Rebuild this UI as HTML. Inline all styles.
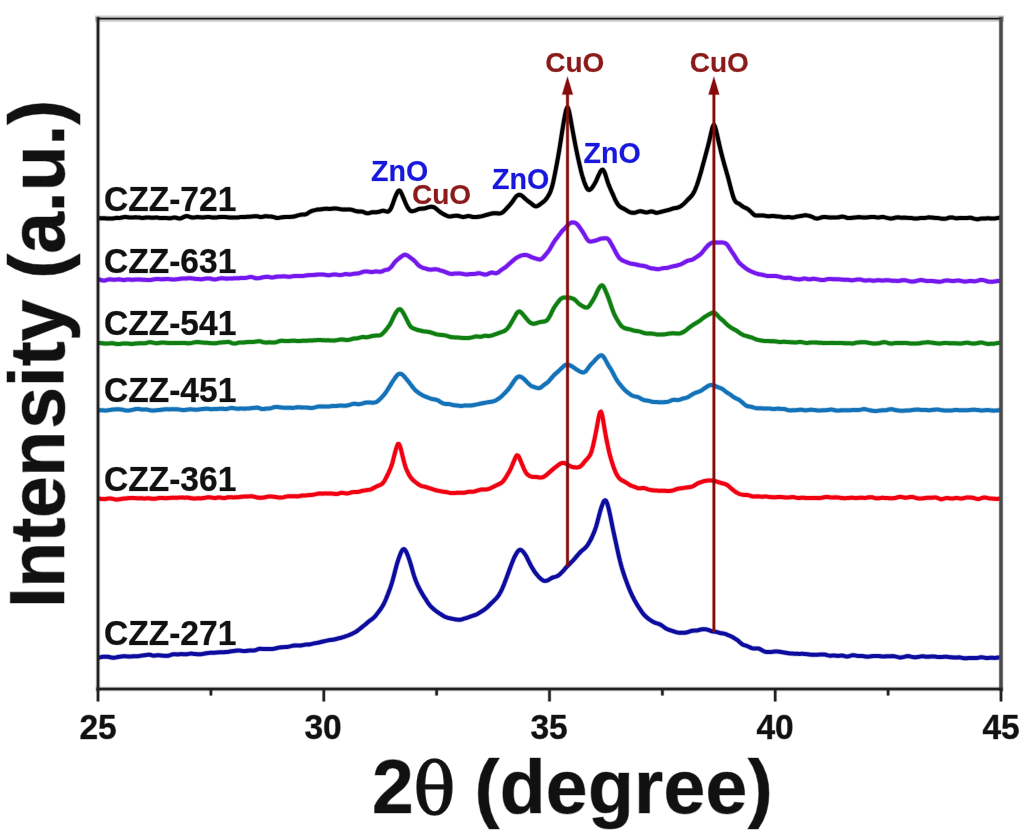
<!DOCTYPE html>
<html><head><meta charset="utf-8"><title>XRD patterns</title>
<style>html,body{margin:0;padding:0;background:#fff}svg{display:block;filter:blur(0.7px)}text{font-family:"Liberation Sans",sans-serif;font-weight:bold;paint-order:stroke;stroke-linejoin:round}</style></head><body>
<svg width="1024" height="837" viewBox="0 0 1024 837">
<rect x="0" y="0" width="1024" height="837" fill="#ffffff"/>
<g fill="none" stroke="#0c0c9e" stroke-linejoin="round"><polyline points="98.0,657.7 99.0,657.6 100.0,657.4 101.0,657.1 102.0,656.9 103.0,656.8 104.0,656.8 105.0,656.7 106.0,656.7 107.0,656.7 108.0,656.8 109.0,657.0 110.0,657.2 111.0,657.5 112.0,657.6 113.0,657.7 114.0,657.7 115.0,657.6 116.0,657.4 117.0,657.2 118.0,657.0 119.0,656.8 120.0,656.7 121.0,656.5 122.0,656.4 123.0,656.3 124.0,656.3 125.0,656.3 126.0,656.3 127.0,656.4 128.0,656.5 129.0,656.5 130.0,656.6 131.0,656.5 132.0,656.4 133.0,656.3 134.0,656.3 135.0,656.2 136.0,656.3 137.0,656.3 138.0,656.2 139.0,656.1 140.0,655.9 141.0,655.7 142.0,655.6 143.0,655.4 144.0,655.3 145.0,655.2 146.0,655.0 147.0,654.9 148.0,654.7 149.0,654.7 150.0,654.8 151.0,655.0 152.0,655.3 153.0,655.6 154.0,655.7 155.0,655.6 156.0,655.4 157.0,655.3 158.0,655.2 159.0,655.2 160.0,655.4 161.0,655.5 162.0,655.6 163.0,655.7 164.0,655.8 165.0,655.8 166.0,655.9 167.0,655.8 168.0,655.8 169.0,655.6 170.0,655.2 171.0,654.9 172.0,654.5 173.0,654.3 174.0,654.3 175.0,654.3 176.0,654.3 177.0,654.4 178.0,654.4 179.0,654.3 180.0,654.2 181.0,654.1 182.0,654.1 183.0,654.2 184.0,654.3 185.0,654.3 186.0,654.3 187.0,654.2 188.0,654.1 189.0,653.9 190.0,653.7 191.0,653.6 192.0,653.6 193.0,653.8 194.0,653.9 195.0,654.0 196.0,654.1 197.0,654.2 198.0,654.3 199.0,654.3 200.0,654.2 201.0,654.2 202.0,654.1 203.0,653.9 204.0,653.7 205.0,653.5 206.0,653.3 207.0,653.2 208.0,653.1 209.0,652.9 210.0,652.8 211.0,652.8 212.0,652.8 213.0,652.8 214.0,652.7 215.0,652.7 216.0,652.6 217.0,652.5 218.0,652.4 219.0,652.3 220.0,652.3 221.0,652.3 222.0,652.3 223.0,652.3 224.0,652.2 225.0,652.1 226.0,652.1 227.0,652.0 228.0,651.9 229.0,651.7 230.0,651.5 231.0,651.3 232.0,651.2 233.0,651.1 234.0,651.0 235.0,650.8 236.0,650.7 237.0,650.5 238.0,650.5 239.0,650.5 240.0,650.6 241.0,650.7 242.0,650.9 243.0,651.1 244.0,651.1 245.0,651.1 246.0,651.0 247.0,650.8 248.0,650.7 249.0,650.6 250.0,650.5 251.0,650.5 252.0,650.5 253.0,650.5 254.0,650.4 255.0,650.3 256.0,650.0 257.0,649.6 258.0,649.2 259.0,648.9 260.0,648.8 261.0,648.8 262.0,648.9 263.0,648.9 264.0,649.0 265.0,649.0 266.0,649.1 267.0,649.0 268.0,649.0 269.0,649.0 270.0,649.0 271.0,649.0 272.0,649.0 273.0,648.9 274.0,648.7 275.0,648.5 276.0,648.3 277.0,648.0 278.0,647.8 279.0,647.6 280.0,647.5 281.0,647.3 282.0,647.2 283.0,647.2 284.0,647.1 285.0,647.1 286.0,647.0 287.0,646.9 288.0,646.8 289.0,646.6 290.0,646.4 291.0,646.1 292.0,645.9 293.0,645.7 294.0,645.5 295.0,645.5 296.0,645.4 297.0,645.4 298.0,645.5 299.0,645.6 300.0,645.6 301.0,645.5 302.0,645.3 303.0,645.1 304.0,644.9 305.0,644.7 306.0,644.6 307.0,644.5 308.0,644.5 309.0,644.5 310.0,644.3 311.0,644.1 312.0,643.9 313.0,643.6 314.0,643.4 315.0,643.2 316.0,643.1 317.0,642.9 318.0,642.7 319.0,642.5 320.0,642.3 321.0,642.0 322.0,641.7 323.0,641.5 324.0,641.3 325.0,641.1 326.0,640.8 327.0,640.6 328.0,640.4 329.0,640.2 330.0,640.0 331.0,639.9 332.0,639.8 333.0,639.7 334.0,639.5 335.0,639.3 336.0,639.0 337.0,638.8 338.0,638.5 339.0,638.2 340.0,638.0 341.0,637.8 342.0,637.5 343.0,637.2 344.0,636.9 345.0,636.5 346.0,636.2 347.0,635.9 348.0,635.5 349.0,635.1 350.0,634.7 351.0,634.2 352.0,633.8 353.0,633.3 354.0,632.8 355.0,632.3 356.0,631.7 357.0,631.0 358.0,630.3 359.0,629.5 360.0,628.7 361.0,627.9 362.0,627.1 363.0,626.3 364.0,625.5 365.0,624.7 366.0,623.9 367.0,623.0 368.0,622.1 369.0,621.3 370.0,620.5 371.0,619.8 372.0,619.1 373.0,618.3 374.0,617.4 375.0,616.4 376.0,615.2 377.0,613.9 378.0,612.6 379.0,611.3 380.0,609.9 381.0,608.5 382.0,607.0 383.0,605.3 384.0,603.4 385.0,601.3 386.0,599.0 387.0,596.5 388.0,594.0 389.0,591.3 390.0,588.6 391.0,585.7 392.0,582.5 393.0,579.0 394.0,575.2 395.0,571.3 396.0,567.4 397.0,563.8 398.0,560.6 399.0,557.7 400.0,555.0 401.0,552.5 402.0,550.6 403.0,549.4 404.0,549.1 405.0,549.9 406.0,551.4 407.0,553.6 408.0,556.1 409.0,558.8 410.0,561.8 411.0,565.1 412.0,568.7 413.0,572.2 414.0,575.6 415.0,578.5 416.0,581.2 417.0,583.6 418.0,585.8 419.0,587.8 420.0,589.8 421.0,591.6 422.0,593.3 423.0,595.0 424.0,596.6 425.0,598.2 426.0,599.7 427.0,601.3 428.0,602.8 429.0,604.2 430.0,605.5 431.0,606.6 432.0,607.6 433.0,608.5 434.0,609.4 435.0,610.2 436.0,611.0 437.0,611.8 438.0,612.4 439.0,613.1 440.0,613.7 441.0,614.3 442.0,615.0 443.0,615.6 444.0,616.3 445.0,616.8 446.0,617.2 447.0,617.5 448.0,617.8 449.0,618.1 450.0,618.3 451.0,618.5 452.0,618.7 453.0,618.9 454.0,619.1 455.0,619.3 456.0,619.5 457.0,619.6 458.0,619.7 459.0,619.8 460.0,619.7 461.0,619.6 462.0,619.3 463.0,619.0 464.0,618.7 465.0,618.4 466.0,618.1 467.0,617.8 468.0,617.4 469.0,617.1 470.0,616.7 471.0,616.4 472.0,616.0 473.0,615.6 474.0,615.3 475.0,615.0 476.0,614.7 477.0,614.2 478.0,613.6 479.0,613.0 480.0,612.4 481.0,611.7 482.0,611.1 483.0,610.5 484.0,609.8 485.0,609.1 486.0,608.3 487.0,607.4 488.0,606.5 489.0,605.5 490.0,604.5 491.0,603.5 492.0,602.6 493.0,601.6 494.0,600.6 495.0,599.6 496.0,598.6 497.0,597.5 498.0,596.2 499.0,594.8 500.0,593.1 501.0,591.2 502.0,589.1 503.0,586.8 504.0,584.4 505.0,581.8 506.0,579.1 507.0,576.4 508.0,573.7 509.0,571.0 510.0,568.3 511.0,565.6 512.0,562.9 513.0,560.4 514.0,558.0 515.0,556.0 516.0,554.2 517.0,552.5 518.0,551.2 519.0,550.2 520.0,549.8 521.0,550.0 522.0,550.6 523.0,551.6 524.0,552.8 525.0,554.2 526.0,555.8 527.0,557.7 528.0,559.8 529.0,561.8 530.0,563.8 531.0,565.7 532.0,567.5 533.0,569.1 534.0,570.8 535.0,572.3 536.0,573.6 537.0,574.8 538.0,576.0 539.0,577.1 540.0,578.1 541.0,579.0 542.0,579.8 543.0,580.4 544.0,580.8 545.0,580.9 546.0,580.8 547.0,580.6 548.0,580.2 549.0,579.6 550.0,579.0 551.0,578.4 552.0,577.9 553.0,577.4 554.0,577.1 555.0,576.9 556.0,576.6 557.0,576.2 558.0,575.7 559.0,575.0 560.0,574.2 561.0,573.2 562.0,572.2 563.0,571.1 564.0,570.0 565.0,568.8 566.0,567.6 567.0,566.5 568.0,565.5 569.0,564.5 570.0,563.5 571.0,562.5 572.0,561.6 573.0,560.5 574.0,559.4 575.0,558.3 576.0,557.1 577.0,555.9 578.0,554.7 579.0,553.5 580.0,552.5 581.0,551.5 582.0,550.6 583.0,549.8 584.0,549.0 585.0,548.1 586.0,547.0 587.0,545.8 588.0,544.4 589.0,542.8 590.0,541.0 591.0,539.0 592.0,537.0 593.0,534.7 594.0,532.4 595.0,529.7 596.0,526.8 597.0,523.4 598.0,519.6 599.0,515.7 600.0,512.0 601.0,508.6 602.0,505.6 603.0,503.0 604.0,501.0 605.0,500.2 606.0,500.8 607.0,502.9 608.0,506.1 609.0,510.0 610.0,514.5 611.0,519.4 612.0,524.4 613.0,529.3 614.0,533.9 615.0,538.6 616.0,543.2 617.0,547.8 618.0,552.4 619.0,556.7 620.0,560.9 621.0,564.7 622.0,568.3 623.0,571.6 624.0,574.7 625.0,577.6 626.0,580.4 627.0,583.1 628.0,585.7 629.0,588.3 630.0,590.7 631.0,593.0 632.0,595.2 633.0,597.2 634.0,599.2 635.0,601.0 636.0,602.8 637.0,604.5 638.0,606.1 639.0,607.7 640.0,609.2 641.0,610.7 642.0,612.2 643.0,613.5 644.0,614.7 645.0,615.8 646.0,616.7 647.0,617.6 648.0,618.4 649.0,619.2 650.0,619.9 651.0,620.5 652.0,621.2 653.0,621.7 654.0,622.3 655.0,622.7 656.0,623.1 657.0,623.4 658.0,623.7 659.0,624.0 660.0,624.5 661.0,625.0 662.0,625.7 663.0,626.4 664.0,627.1 665.0,627.8 666.0,628.5 667.0,629.0 668.0,629.4 669.0,629.9 670.0,630.2 671.0,630.5 672.0,630.8 673.0,631.1 674.0,631.5 675.0,631.8 676.0,632.1 677.0,632.4 678.0,632.6 679.0,632.8 680.0,632.8 681.0,632.8 682.0,632.8 683.0,632.8 684.0,632.7 685.0,632.7 686.0,632.6 687.0,632.3 688.0,632.0 689.0,631.7 690.0,631.3 691.0,631.0 692.0,630.8 693.0,630.7 694.0,630.6 695.0,630.6 696.0,630.6 697.0,630.5 698.0,630.3 699.0,630.0 700.0,629.7 701.0,629.5 702.0,629.3 703.0,629.2 704.0,629.2 705.0,629.2 706.0,629.3 707.0,629.6 708.0,629.8 709.0,630.2 710.0,630.6 711.0,631.0 712.0,631.3 713.0,631.5 714.0,631.6 715.0,631.7 716.0,631.9 717.0,632.1 718.0,632.4 719.0,632.7 720.0,633.0 721.0,633.2 722.0,633.3 723.0,633.4 724.0,633.6 725.0,633.9 726.0,634.2 727.0,634.7 728.0,635.1 729.0,635.5 730.0,635.9 731.0,636.3 732.0,636.8 733.0,637.4 734.0,638.0 735.0,638.6 736.0,639.2 737.0,639.9 738.0,640.6 739.0,641.5 740.0,642.4 741.0,643.3 742.0,644.1 743.0,644.7 744.0,645.1 745.0,645.4 746.0,645.7 747.0,646.0 748.0,646.5 749.0,646.9 750.0,647.4 751.0,647.9 752.0,648.2 753.0,648.4 754.0,648.5 755.0,648.4 756.0,648.4 757.0,648.4 758.0,648.4 759.0,648.7 760.0,649.1 761.0,649.6 762.0,650.2 763.0,650.8 764.0,651.3 765.0,651.6 766.0,651.9 767.0,652.0 768.0,652.0 769.0,652.0 770.0,652.0 771.0,652.0 772.0,651.9 773.0,651.7 774.0,651.6 775.0,651.5 776.0,651.5 777.0,651.5 778.0,651.6 779.0,651.7 780.0,651.8 781.0,652.0 782.0,652.2 783.0,652.3 784.0,652.5 785.0,652.7 786.0,652.8 787.0,653.0 788.0,653.2 789.0,653.3 790.0,653.4 791.0,653.5 792.0,653.6 793.0,653.6 794.0,653.7 795.0,653.7 796.0,653.7 797.0,653.8 798.0,653.8 799.0,653.9 800.0,653.9 801.0,653.8 802.0,653.8 803.0,653.8 804.0,653.9 805.0,654.0 806.0,654.1 807.0,654.2 808.0,654.3 809.0,654.5 810.0,654.6 811.0,654.7 812.0,654.7 813.0,654.7 814.0,654.8 815.0,654.8 816.0,654.8 817.0,654.7 818.0,654.7 819.0,654.6 820.0,654.6 821.0,654.6 822.0,654.5 823.0,654.5 824.0,654.5 825.0,654.6 826.0,654.8 827.0,655.1 828.0,655.4 829.0,655.6 830.0,655.7 831.0,655.7 832.0,655.6 833.0,655.5 834.0,655.5 835.0,655.6 836.0,655.7 837.0,655.8 838.0,655.9 839.0,655.8 840.0,655.7 841.0,655.6 842.0,655.6 843.0,655.7 844.0,655.9 845.0,656.2 846.0,656.4 847.0,656.5 848.0,656.4 849.0,656.2 850.0,655.9 851.0,655.6 852.0,655.3 853.0,655.2 854.0,655.2 855.0,655.4 856.0,655.6 857.0,655.8 858.0,655.9 859.0,656.0 860.0,655.9 861.0,655.9 862.0,656.0 863.0,656.1 864.0,656.3 865.0,656.5 866.0,656.6 867.0,656.7 868.0,656.7 869.0,656.6 870.0,656.4 871.0,656.3 872.0,656.2 873.0,656.1 874.0,656.1 875.0,656.1 876.0,656.1 877.0,656.1 878.0,656.1 879.0,656.1 880.0,656.2 881.0,656.3 882.0,656.4 883.0,656.4 884.0,656.4 885.0,656.4 886.0,656.3 887.0,656.3 888.0,656.3 889.0,656.3 890.0,656.2 891.0,656.2 892.0,656.1 893.0,656.2 894.0,656.2 895.0,656.4 896.0,656.6 897.0,656.9 898.0,657.1 899.0,657.3 900.0,657.4 901.0,657.4 902.0,657.3 903.0,657.1 904.0,656.9 905.0,656.6 906.0,656.3 907.0,656.2 908.0,656.1 909.0,656.2 910.0,656.4 911.0,656.7 912.0,656.9 913.0,657.1 914.0,657.2 915.0,657.2 916.0,657.2 917.0,657.1 918.0,657.0 919.0,656.8 920.0,656.6 921.0,656.4 922.0,656.3 923.0,656.3 924.0,656.4 925.0,656.5 926.0,656.7 927.0,656.8 928.0,656.8 929.0,656.7 930.0,656.6 931.0,656.6 932.0,656.5 933.0,656.5 934.0,656.6 935.0,656.6 936.0,656.7 937.0,656.9 938.0,657.0 939.0,657.1 940.0,657.1 941.0,657.1 942.0,657.0 943.0,656.9 944.0,656.8 945.0,656.7 946.0,656.7 947.0,656.8 948.0,656.9 949.0,657.1 950.0,657.2 951.0,657.2 952.0,657.3 953.0,657.4 954.0,657.5 955.0,657.5 956.0,657.5 957.0,657.4 958.0,657.4 959.0,657.3 960.0,657.4 961.0,657.6 962.0,657.8 963.0,658.1 964.0,658.2 965.0,658.2 966.0,658.2 967.0,658.2 968.0,658.1 969.0,658.0 970.0,658.0 971.0,658.0 972.0,658.0 973.0,658.0 974.0,658.0 975.0,658.0 976.0,658.0 977.0,657.9 978.0,657.8 979.0,657.6 980.0,657.4 981.0,657.3 982.0,657.3 983.0,657.4 984.0,657.6 985.0,657.8 986.0,658.0 987.0,658.0 988.0,657.9 989.0,657.9 990.0,657.8 991.0,657.8 992.0,657.8 993.0,657.8 994.0,657.9 995.0,657.9 996.0,657.8 997.0,657.7 998.0,657.6 999.0,657.5 1000.0,657.4 1001.0,657.4" stroke-opacity="0.25" stroke-width="5.4"/><polyline points="98.0,657.7 99.0,657.6 100.0,657.4 101.0,657.1 102.0,656.9 103.0,656.8 104.0,656.8 105.0,656.7 106.0,656.7 107.0,656.7 108.0,656.8 109.0,657.0 110.0,657.2 111.0,657.5 112.0,657.6 113.0,657.7 114.0,657.7 115.0,657.6 116.0,657.4 117.0,657.2 118.0,657.0 119.0,656.8 120.0,656.7 121.0,656.5 122.0,656.4 123.0,656.3 124.0,656.3 125.0,656.3 126.0,656.3 127.0,656.4 128.0,656.5 129.0,656.5 130.0,656.6 131.0,656.5 132.0,656.4 133.0,656.3 134.0,656.3 135.0,656.2 136.0,656.3 137.0,656.3 138.0,656.2 139.0,656.1 140.0,655.9 141.0,655.7 142.0,655.6 143.0,655.4 144.0,655.3 145.0,655.2 146.0,655.0 147.0,654.9 148.0,654.7 149.0,654.7 150.0,654.8 151.0,655.0 152.0,655.3 153.0,655.6 154.0,655.7 155.0,655.6 156.0,655.4 157.0,655.3 158.0,655.2 159.0,655.2 160.0,655.4 161.0,655.5 162.0,655.6 163.0,655.7 164.0,655.8 165.0,655.8 166.0,655.9 167.0,655.8 168.0,655.8 169.0,655.6 170.0,655.2 171.0,654.9 172.0,654.5 173.0,654.3 174.0,654.3 175.0,654.3 176.0,654.3 177.0,654.4 178.0,654.4 179.0,654.3 180.0,654.2 181.0,654.1 182.0,654.1 183.0,654.2 184.0,654.3 185.0,654.3 186.0,654.3 187.0,654.2 188.0,654.1 189.0,653.9 190.0,653.7 191.0,653.6 192.0,653.6 193.0,653.8 194.0,653.9 195.0,654.0 196.0,654.1 197.0,654.2 198.0,654.3 199.0,654.3 200.0,654.2 201.0,654.2 202.0,654.1 203.0,653.9 204.0,653.7 205.0,653.5 206.0,653.3 207.0,653.2 208.0,653.1 209.0,652.9 210.0,652.8 211.0,652.8 212.0,652.8 213.0,652.8 214.0,652.7 215.0,652.7 216.0,652.6 217.0,652.5 218.0,652.4 219.0,652.3 220.0,652.3 221.0,652.3 222.0,652.3 223.0,652.3 224.0,652.2 225.0,652.1 226.0,652.1 227.0,652.0 228.0,651.9 229.0,651.7 230.0,651.5 231.0,651.3 232.0,651.2 233.0,651.1 234.0,651.0 235.0,650.8 236.0,650.7 237.0,650.5 238.0,650.5 239.0,650.5 240.0,650.6 241.0,650.7 242.0,650.9 243.0,651.1 244.0,651.1 245.0,651.1 246.0,651.0 247.0,650.8 248.0,650.7 249.0,650.6 250.0,650.5 251.0,650.5 252.0,650.5 253.0,650.5 254.0,650.4 255.0,650.3 256.0,650.0 257.0,649.6 258.0,649.2 259.0,648.9 260.0,648.8 261.0,648.8 262.0,648.9 263.0,648.9 264.0,649.0 265.0,649.0 266.0,649.1 267.0,649.0 268.0,649.0 269.0,649.0 270.0,649.0 271.0,649.0 272.0,649.0 273.0,648.9 274.0,648.7 275.0,648.5 276.0,648.3 277.0,648.0 278.0,647.8 279.0,647.6 280.0,647.5 281.0,647.3 282.0,647.2 283.0,647.2 284.0,647.1 285.0,647.1 286.0,647.0 287.0,646.9 288.0,646.8 289.0,646.6 290.0,646.4 291.0,646.1 292.0,645.9 293.0,645.7 294.0,645.5 295.0,645.5 296.0,645.4 297.0,645.4 298.0,645.5 299.0,645.6 300.0,645.6 301.0,645.5 302.0,645.3 303.0,645.1 304.0,644.9 305.0,644.7 306.0,644.6 307.0,644.5 308.0,644.5 309.0,644.5 310.0,644.3 311.0,644.1 312.0,643.9 313.0,643.6 314.0,643.4 315.0,643.2 316.0,643.1 317.0,642.9 318.0,642.7 319.0,642.5 320.0,642.3 321.0,642.0 322.0,641.7 323.0,641.5 324.0,641.3 325.0,641.1 326.0,640.8 327.0,640.6 328.0,640.4 329.0,640.2 330.0,640.0 331.0,639.9 332.0,639.8 333.0,639.7 334.0,639.5 335.0,639.3 336.0,639.0 337.0,638.8 338.0,638.5 339.0,638.2 340.0,638.0 341.0,637.8 342.0,637.5 343.0,637.2 344.0,636.9 345.0,636.5 346.0,636.2 347.0,635.9 348.0,635.5 349.0,635.1 350.0,634.7 351.0,634.2 352.0,633.8 353.0,633.3 354.0,632.8 355.0,632.3 356.0,631.7 357.0,631.0 358.0,630.3 359.0,629.5 360.0,628.7 361.0,627.9 362.0,627.1 363.0,626.3 364.0,625.5 365.0,624.7 366.0,623.9 367.0,623.0 368.0,622.1 369.0,621.3 370.0,620.5 371.0,619.8 372.0,619.1 373.0,618.3 374.0,617.4 375.0,616.4 376.0,615.2 377.0,613.9 378.0,612.6 379.0,611.3 380.0,609.9 381.0,608.5 382.0,607.0 383.0,605.3 384.0,603.4 385.0,601.3 386.0,599.0 387.0,596.5 388.0,594.0 389.0,591.3 390.0,588.6 391.0,585.7 392.0,582.5 393.0,579.0 394.0,575.2 395.0,571.3 396.0,567.4 397.0,563.8 398.0,560.6 399.0,557.7 400.0,555.0 401.0,552.5 402.0,550.6 403.0,549.4 404.0,549.1 405.0,549.9 406.0,551.4 407.0,553.6 408.0,556.1 409.0,558.8 410.0,561.8 411.0,565.1 412.0,568.7 413.0,572.2 414.0,575.6 415.0,578.5 416.0,581.2 417.0,583.6 418.0,585.8 419.0,587.8 420.0,589.8 421.0,591.6 422.0,593.3 423.0,595.0 424.0,596.6 425.0,598.2 426.0,599.7 427.0,601.3 428.0,602.8 429.0,604.2 430.0,605.5 431.0,606.6 432.0,607.6 433.0,608.5 434.0,609.4 435.0,610.2 436.0,611.0 437.0,611.8 438.0,612.4 439.0,613.1 440.0,613.7 441.0,614.3 442.0,615.0 443.0,615.6 444.0,616.3 445.0,616.8 446.0,617.2 447.0,617.5 448.0,617.8 449.0,618.1 450.0,618.3 451.0,618.5 452.0,618.7 453.0,618.9 454.0,619.1 455.0,619.3 456.0,619.5 457.0,619.6 458.0,619.7 459.0,619.8 460.0,619.7 461.0,619.6 462.0,619.3 463.0,619.0 464.0,618.7 465.0,618.4 466.0,618.1 467.0,617.8 468.0,617.4 469.0,617.1 470.0,616.7 471.0,616.4 472.0,616.0 473.0,615.6 474.0,615.3 475.0,615.0 476.0,614.7 477.0,614.2 478.0,613.6 479.0,613.0 480.0,612.4 481.0,611.7 482.0,611.1 483.0,610.5 484.0,609.8 485.0,609.1 486.0,608.3 487.0,607.4 488.0,606.5 489.0,605.5 490.0,604.5 491.0,603.5 492.0,602.6 493.0,601.6 494.0,600.6 495.0,599.6 496.0,598.6 497.0,597.5 498.0,596.2 499.0,594.8 500.0,593.1 501.0,591.2 502.0,589.1 503.0,586.8 504.0,584.4 505.0,581.8 506.0,579.1 507.0,576.4 508.0,573.7 509.0,571.0 510.0,568.3 511.0,565.6 512.0,562.9 513.0,560.4 514.0,558.0 515.0,556.0 516.0,554.2 517.0,552.5 518.0,551.2 519.0,550.2 520.0,549.8 521.0,550.0 522.0,550.6 523.0,551.6 524.0,552.8 525.0,554.2 526.0,555.8 527.0,557.7 528.0,559.8 529.0,561.8 530.0,563.8 531.0,565.7 532.0,567.5 533.0,569.1 534.0,570.8 535.0,572.3 536.0,573.6 537.0,574.8 538.0,576.0 539.0,577.1 540.0,578.1 541.0,579.0 542.0,579.8 543.0,580.4 544.0,580.8 545.0,580.9 546.0,580.8 547.0,580.6 548.0,580.2 549.0,579.6 550.0,579.0 551.0,578.4 552.0,577.9 553.0,577.4 554.0,577.1 555.0,576.9 556.0,576.6 557.0,576.2 558.0,575.7 559.0,575.0 560.0,574.2 561.0,573.2 562.0,572.2 563.0,571.1 564.0,570.0 565.0,568.8 566.0,567.6 567.0,566.5 568.0,565.5 569.0,564.5 570.0,563.5 571.0,562.5 572.0,561.6 573.0,560.5 574.0,559.4 575.0,558.3 576.0,557.1 577.0,555.9 578.0,554.7 579.0,553.5 580.0,552.5 581.0,551.5 582.0,550.6 583.0,549.8 584.0,549.0 585.0,548.1 586.0,547.0 587.0,545.8 588.0,544.4 589.0,542.8 590.0,541.0 591.0,539.0 592.0,537.0 593.0,534.7 594.0,532.4 595.0,529.7 596.0,526.8 597.0,523.4 598.0,519.6 599.0,515.7 600.0,512.0 601.0,508.6 602.0,505.6 603.0,503.0 604.0,501.0 605.0,500.2 606.0,500.8 607.0,502.9 608.0,506.1 609.0,510.0 610.0,514.5 611.0,519.4 612.0,524.4 613.0,529.3 614.0,533.9 615.0,538.6 616.0,543.2 617.0,547.8 618.0,552.4 619.0,556.7 620.0,560.9 621.0,564.7 622.0,568.3 623.0,571.6 624.0,574.7 625.0,577.6 626.0,580.4 627.0,583.1 628.0,585.7 629.0,588.3 630.0,590.7 631.0,593.0 632.0,595.2 633.0,597.2 634.0,599.2 635.0,601.0 636.0,602.8 637.0,604.5 638.0,606.1 639.0,607.7 640.0,609.2 641.0,610.7 642.0,612.2 643.0,613.5 644.0,614.7 645.0,615.8 646.0,616.7 647.0,617.6 648.0,618.4 649.0,619.2 650.0,619.9 651.0,620.5 652.0,621.2 653.0,621.7 654.0,622.3 655.0,622.7 656.0,623.1 657.0,623.4 658.0,623.7 659.0,624.0 660.0,624.5 661.0,625.0 662.0,625.7 663.0,626.4 664.0,627.1 665.0,627.8 666.0,628.5 667.0,629.0 668.0,629.4 669.0,629.9 670.0,630.2 671.0,630.5 672.0,630.8 673.0,631.1 674.0,631.5 675.0,631.8 676.0,632.1 677.0,632.4 678.0,632.6 679.0,632.8 680.0,632.8 681.0,632.8 682.0,632.8 683.0,632.8 684.0,632.7 685.0,632.7 686.0,632.6 687.0,632.3 688.0,632.0 689.0,631.7 690.0,631.3 691.0,631.0 692.0,630.8 693.0,630.7 694.0,630.6 695.0,630.6 696.0,630.6 697.0,630.5 698.0,630.3 699.0,630.0 700.0,629.7 701.0,629.5 702.0,629.3 703.0,629.2 704.0,629.2 705.0,629.2 706.0,629.3 707.0,629.6 708.0,629.8 709.0,630.2 710.0,630.6 711.0,631.0 712.0,631.3 713.0,631.5 714.0,631.6 715.0,631.7 716.0,631.9 717.0,632.1 718.0,632.4 719.0,632.7 720.0,633.0 721.0,633.2 722.0,633.3 723.0,633.4 724.0,633.6 725.0,633.9 726.0,634.2 727.0,634.7 728.0,635.1 729.0,635.5 730.0,635.9 731.0,636.3 732.0,636.8 733.0,637.4 734.0,638.0 735.0,638.6 736.0,639.2 737.0,639.9 738.0,640.6 739.0,641.5 740.0,642.4 741.0,643.3 742.0,644.1 743.0,644.7 744.0,645.1 745.0,645.4 746.0,645.7 747.0,646.0 748.0,646.5 749.0,646.9 750.0,647.4 751.0,647.9 752.0,648.2 753.0,648.4 754.0,648.5 755.0,648.4 756.0,648.4 757.0,648.4 758.0,648.4 759.0,648.7 760.0,649.1 761.0,649.6 762.0,650.2 763.0,650.8 764.0,651.3 765.0,651.6 766.0,651.9 767.0,652.0 768.0,652.0 769.0,652.0 770.0,652.0 771.0,652.0 772.0,651.9 773.0,651.7 774.0,651.6 775.0,651.5 776.0,651.5 777.0,651.5 778.0,651.6 779.0,651.7 780.0,651.8 781.0,652.0 782.0,652.2 783.0,652.3 784.0,652.5 785.0,652.7 786.0,652.8 787.0,653.0 788.0,653.2 789.0,653.3 790.0,653.4 791.0,653.5 792.0,653.6 793.0,653.6 794.0,653.7 795.0,653.7 796.0,653.7 797.0,653.8 798.0,653.8 799.0,653.9 800.0,653.9 801.0,653.8 802.0,653.8 803.0,653.8 804.0,653.9 805.0,654.0 806.0,654.1 807.0,654.2 808.0,654.3 809.0,654.5 810.0,654.6 811.0,654.7 812.0,654.7 813.0,654.7 814.0,654.8 815.0,654.8 816.0,654.8 817.0,654.7 818.0,654.7 819.0,654.6 820.0,654.6 821.0,654.6 822.0,654.5 823.0,654.5 824.0,654.5 825.0,654.6 826.0,654.8 827.0,655.1 828.0,655.4 829.0,655.6 830.0,655.7 831.0,655.7 832.0,655.6 833.0,655.5 834.0,655.5 835.0,655.6 836.0,655.7 837.0,655.8 838.0,655.9 839.0,655.8 840.0,655.7 841.0,655.6 842.0,655.6 843.0,655.7 844.0,655.9 845.0,656.2 846.0,656.4 847.0,656.5 848.0,656.4 849.0,656.2 850.0,655.9 851.0,655.6 852.0,655.3 853.0,655.2 854.0,655.2 855.0,655.4 856.0,655.6 857.0,655.8 858.0,655.9 859.0,656.0 860.0,655.9 861.0,655.9 862.0,656.0 863.0,656.1 864.0,656.3 865.0,656.5 866.0,656.6 867.0,656.7 868.0,656.7 869.0,656.6 870.0,656.4 871.0,656.3 872.0,656.2 873.0,656.1 874.0,656.1 875.0,656.1 876.0,656.1 877.0,656.1 878.0,656.1 879.0,656.1 880.0,656.2 881.0,656.3 882.0,656.4 883.0,656.4 884.0,656.4 885.0,656.4 886.0,656.3 887.0,656.3 888.0,656.3 889.0,656.3 890.0,656.2 891.0,656.2 892.0,656.1 893.0,656.2 894.0,656.2 895.0,656.4 896.0,656.6 897.0,656.9 898.0,657.1 899.0,657.3 900.0,657.4 901.0,657.4 902.0,657.3 903.0,657.1 904.0,656.9 905.0,656.6 906.0,656.3 907.0,656.2 908.0,656.1 909.0,656.2 910.0,656.4 911.0,656.7 912.0,656.9 913.0,657.1 914.0,657.2 915.0,657.2 916.0,657.2 917.0,657.1 918.0,657.0 919.0,656.8 920.0,656.6 921.0,656.4 922.0,656.3 923.0,656.3 924.0,656.4 925.0,656.5 926.0,656.7 927.0,656.8 928.0,656.8 929.0,656.7 930.0,656.6 931.0,656.6 932.0,656.5 933.0,656.5 934.0,656.6 935.0,656.6 936.0,656.7 937.0,656.9 938.0,657.0 939.0,657.1 940.0,657.1 941.0,657.1 942.0,657.0 943.0,656.9 944.0,656.8 945.0,656.7 946.0,656.7 947.0,656.8 948.0,656.9 949.0,657.1 950.0,657.2 951.0,657.2 952.0,657.3 953.0,657.4 954.0,657.5 955.0,657.5 956.0,657.5 957.0,657.4 958.0,657.4 959.0,657.3 960.0,657.4 961.0,657.6 962.0,657.8 963.0,658.1 964.0,658.2 965.0,658.2 966.0,658.2 967.0,658.2 968.0,658.1 969.0,658.0 970.0,658.0 971.0,658.0 972.0,658.0 973.0,658.0 974.0,658.0 975.0,658.0 976.0,658.0 977.0,657.9 978.0,657.8 979.0,657.6 980.0,657.4 981.0,657.3 982.0,657.3 983.0,657.4 984.0,657.6 985.0,657.8 986.0,658.0 987.0,658.0 988.0,657.9 989.0,657.9 990.0,657.8 991.0,657.8 992.0,657.8 993.0,657.8 994.0,657.9 995.0,657.9 996.0,657.8 997.0,657.7 998.0,657.6 999.0,657.5 1000.0,657.4 1001.0,657.4" stroke-width="4.0"/></g>
<g fill="none" stroke="#f00010" stroke-linejoin="round"><polyline points="98.0,498.8 99.0,498.8 100.0,498.8 101.0,498.9 102.0,498.9 103.0,499.0 104.0,499.0 105.0,499.0 106.0,498.9 107.0,498.7 108.0,498.6 109.0,498.4 110.0,498.4 111.0,498.5 112.0,498.7 113.0,498.9 114.0,499.2 115.0,499.4 116.0,499.5 117.0,499.5 118.0,499.5 119.0,499.3 120.0,499.2 121.0,499.0 122.0,498.8 123.0,498.7 124.0,498.5 125.0,498.4 126.0,498.4 127.0,498.3 128.0,498.2 129.0,498.1 130.0,498.1 131.0,498.0 132.0,498.0 133.0,498.0 134.0,498.1 135.0,498.1 136.0,498.2 137.0,498.2 138.0,498.2 139.0,498.2 140.0,498.2 141.0,498.3 142.0,498.3 143.0,498.4 144.0,498.4 145.0,498.4 146.0,498.4 147.0,498.3 148.0,498.2 149.0,498.3 150.0,498.4 151.0,498.5 152.0,498.7 153.0,498.8 154.0,498.8 155.0,498.8 156.0,498.6 157.0,498.4 158.0,498.2 159.0,498.0 160.0,497.9 161.0,497.9 162.0,498.0 163.0,498.0 164.0,498.1 165.0,498.2 166.0,498.2 167.0,498.1 168.0,498.1 169.0,498.0 170.0,497.9 171.0,497.8 172.0,497.8 173.0,497.8 174.0,497.8 175.0,497.8 176.0,497.8 177.0,497.8 178.0,497.7 179.0,497.6 180.0,497.6 181.0,497.6 182.0,497.6 183.0,497.6 184.0,497.7 185.0,497.7 186.0,497.6 187.0,497.6 188.0,497.7 189.0,497.8 190.0,498.0 191.0,498.2 192.0,498.3 193.0,498.4 194.0,498.4 195.0,498.4 196.0,498.4 197.0,498.3 198.0,498.3 199.0,498.3 200.0,498.4 201.0,498.3 202.0,498.2 203.0,498.1 204.0,498.0 205.0,497.8 206.0,497.6 207.0,497.4 208.0,497.3 209.0,497.3 210.0,497.4 211.0,497.5 212.0,497.6 213.0,497.8 214.0,497.9 215.0,498.0 216.0,497.9 217.0,497.7 218.0,497.5 219.0,497.4 220.0,497.5 221.0,497.6 222.0,497.9 223.0,498.0 224.0,498.1 225.0,498.0 226.0,497.8 227.0,497.5 228.0,497.3 229.0,497.2 230.0,497.2 231.0,497.3 232.0,497.3 233.0,497.4 234.0,497.4 235.0,497.3 236.0,497.3 237.0,497.2 238.0,497.2 239.0,497.1 240.0,497.0 241.0,496.8 242.0,496.7 243.0,496.7 244.0,496.6 245.0,496.5 246.0,496.5 247.0,496.5 248.0,496.5 249.0,496.4 250.0,496.3 251.0,496.3 252.0,496.3 253.0,496.5 254.0,496.7 255.0,496.9 256.0,497.2 257.0,497.5 258.0,497.6 259.0,497.7 260.0,497.7 261.0,497.7 262.0,497.7 263.0,497.6 264.0,497.5 265.0,497.3 266.0,497.0 267.0,496.8 268.0,496.6 269.0,496.5 270.0,496.5 271.0,496.6 272.0,496.6 273.0,496.7 274.0,496.8 275.0,496.9 276.0,497.0 277.0,497.2 278.0,497.4 279.0,497.5 280.0,497.6 281.0,497.6 282.0,497.6 283.0,497.4 284.0,497.1 285.0,496.8 286.0,496.6 287.0,496.4 288.0,496.3 289.0,496.2 290.0,496.2 291.0,496.2 292.0,496.2 293.0,496.2 294.0,496.2 295.0,496.3 296.0,496.3 297.0,496.4 298.0,496.3 299.0,496.2 300.0,496.0 301.0,495.7 302.0,495.6 303.0,495.5 304.0,495.5 305.0,495.5 306.0,495.4 307.0,495.3 308.0,495.2 309.0,495.1 310.0,495.0 311.0,494.9 312.0,494.9 313.0,494.7 314.0,494.6 315.0,494.4 316.0,494.1 317.0,493.9 318.0,493.7 319.0,493.6 320.0,493.6 321.0,493.6 322.0,493.7 323.0,493.6 324.0,493.6 325.0,493.5 326.0,493.5 327.0,493.4 328.0,493.4 329.0,493.5 330.0,493.5 331.0,493.6 332.0,493.6 333.0,493.7 334.0,493.8 335.0,493.9 336.0,494.0 337.0,493.9 338.0,493.8 339.0,493.5 340.0,493.2 341.0,492.9 342.0,492.8 343.0,492.9 344.0,493.1 345.0,493.2 346.0,493.4 347.0,493.4 348.0,493.3 349.0,493.1 350.0,492.8 351.0,492.5 352.0,492.3 353.0,492.1 354.0,492.1 355.0,492.1 356.0,492.1 357.0,492.0 358.0,491.9 359.0,491.7 360.0,491.5 361.0,491.2 362.0,490.9 363.0,490.7 364.0,490.6 365.0,490.4 366.0,490.2 367.0,490.0 368.0,489.9 369.0,489.8 370.0,489.6 371.0,489.3 372.0,488.9 373.0,488.4 374.0,487.9 375.0,487.3 376.0,486.7 377.0,486.2 378.0,485.8 379.0,485.4 380.0,485.0 381.0,484.5 382.0,483.9 383.0,482.9 384.0,481.6 385.0,479.9 386.0,478.0 387.0,476.0 388.0,474.0 389.0,471.8 390.0,469.5 391.0,467.0 392.0,464.1 393.0,460.6 394.0,456.6 395.0,452.8 396.0,449.1 397.0,446.0 398.0,444.0 399.0,444.0 400.0,446.1 401.0,449.6 402.0,453.7 403.0,457.8 404.0,461.8 405.0,465.4 406.0,468.4 407.0,470.7 408.0,472.8 409.0,474.7 410.0,476.4 411.0,477.8 412.0,479.0 413.0,480.0 414.0,480.9 415.0,481.7 416.0,482.5 417.0,483.3 418.0,484.0 419.0,484.7 420.0,485.3 421.0,485.8 422.0,486.1 423.0,486.4 424.0,486.6 425.0,486.8 426.0,487.0 427.0,487.3 428.0,487.7 429.0,488.0 430.0,488.3 431.0,488.6 432.0,489.0 433.0,489.3 434.0,489.6 435.0,490.0 436.0,490.3 437.0,490.5 438.0,490.7 439.0,490.9 440.0,491.1 441.0,491.3 442.0,491.5 443.0,491.7 444.0,491.8 445.0,491.9 446.0,492.0 447.0,492.2 448.0,492.4 449.0,492.7 450.0,492.9 451.0,493.0 452.0,493.1 453.0,493.1 454.0,493.1 455.0,493.0 456.0,492.9 457.0,492.8 458.0,492.7 459.0,492.7 460.0,492.7 461.0,492.7 462.0,492.8 463.0,492.8 464.0,492.7 465.0,492.6 466.0,492.3 467.0,492.1 468.0,491.9 469.0,491.8 470.0,491.7 471.0,491.7 472.0,491.7 473.0,491.7 474.0,491.6 475.0,491.4 476.0,491.0 477.0,490.7 478.0,490.4 479.0,490.1 480.0,489.8 481.0,489.6 482.0,489.6 483.0,489.6 484.0,489.6 485.0,489.5 486.0,489.4 487.0,489.3 488.0,489.1 489.0,488.8 490.0,488.4 491.0,488.0 492.0,487.5 493.0,487.0 494.0,486.5 495.0,486.0 496.0,485.5 497.0,485.0 498.0,484.6 499.0,484.1 500.0,483.6 501.0,483.0 502.0,482.3 503.0,481.3 504.0,480.1 505.0,478.7 506.0,477.1 507.0,475.5 508.0,473.7 509.0,472.0 510.0,470.2 511.0,468.1 512.0,465.8 513.0,463.3 514.0,460.9 515.0,458.5 516.0,456.5 517.0,455.3 518.0,455.6 519.0,457.1 520.0,459.4 521.0,461.8 522.0,464.2 523.0,466.6 524.0,469.0 525.0,471.1 526.0,472.8 527.0,474.0 528.0,474.9 529.0,475.6 530.0,476.1 531.0,476.5 532.0,476.8 533.0,476.9 534.0,476.9 535.0,476.9 536.0,477.0 537.0,477.1 538.0,477.2 539.0,477.4 540.0,477.5 541.0,477.6 542.0,477.5 543.0,477.1 544.0,476.6 545.0,476.0 546.0,475.3 547.0,474.4 548.0,473.6 549.0,472.7 550.0,471.8 551.0,470.9 552.0,470.1 553.0,469.2 554.0,468.4 555.0,467.6 556.0,466.8 557.0,466.0 558.0,465.3 559.0,464.5 560.0,463.9 561.0,463.4 562.0,463.0 563.0,462.9 564.0,462.9 565.0,463.2 566.0,463.7 567.0,464.3 568.0,464.9 569.0,465.5 570.0,466.0 571.0,466.5 572.0,466.8 573.0,467.1 574.0,467.3 575.0,467.3 576.0,467.4 577.0,467.4 578.0,467.3 579.0,467.1 580.0,466.6 581.0,465.9 582.0,464.9 583.0,463.7 584.0,462.4 585.0,461.2 586.0,460.1 587.0,459.0 588.0,457.9 589.0,456.6 590.0,455.1 591.0,452.9 592.0,449.8 593.0,445.9 594.0,441.5 595.0,436.8 596.0,431.8 597.0,426.5 598.0,420.9 599.0,415.8 600.0,412.4 601.0,411.7 602.0,414.2 603.0,419.3 604.0,425.5 605.0,431.5 606.0,436.9 607.0,442.0 608.0,446.8 609.0,451.4 610.0,455.4 611.0,459.0 612.0,462.3 613.0,465.4 614.0,468.3 615.0,470.8 616.0,473.1 617.0,475.0 618.0,476.6 619.0,477.9 620.0,479.0 621.0,479.8 622.0,480.4 623.0,480.9 624.0,481.4 625.0,481.9 626.0,482.5 627.0,483.1 628.0,483.8 629.0,484.4 630.0,485.1 631.0,485.6 632.0,486.0 633.0,486.4 634.0,486.7 635.0,487.0 636.0,487.4 637.0,487.8 638.0,488.1 639.0,488.3 640.0,488.3 641.0,488.2 642.0,488.1 643.0,488.0 644.0,488.1 645.0,488.3 646.0,488.7 647.0,489.0 648.0,489.4 649.0,489.6 650.0,489.9 651.0,490.0 652.0,490.2 653.0,490.3 654.0,490.4 655.0,490.4 656.0,490.5 657.0,490.6 658.0,490.7 659.0,490.7 660.0,490.8 661.0,490.8 662.0,490.8 663.0,490.7 664.0,490.8 665.0,490.8 666.0,490.9 667.0,490.9 668.0,491.0 669.0,491.0 670.0,490.9 671.0,490.8 672.0,490.7 673.0,490.4 674.0,490.1 675.0,489.7 676.0,489.3 677.0,489.0 678.0,488.7 679.0,488.5 680.0,488.4 681.0,488.3 682.0,488.2 683.0,488.1 684.0,487.9 685.0,487.7 686.0,487.6 687.0,487.5 688.0,487.3 689.0,487.2 690.0,487.0 691.0,486.9 692.0,486.6 693.0,486.2 694.0,485.7 695.0,485.0 696.0,484.4 697.0,483.8 698.0,483.2 699.0,482.8 700.0,482.4 701.0,482.1 702.0,481.8 703.0,481.5 704.0,481.2 705.0,480.9 706.0,480.8 707.0,480.6 708.0,480.5 709.0,480.5 710.0,480.4 711.0,480.4 712.0,480.5 713.0,480.6 714.0,480.8 715.0,481.0 716.0,481.3 717.0,481.6 718.0,482.0 719.0,482.3 720.0,482.6 721.0,483.0 722.0,483.2 723.0,483.5 724.0,483.7 725.0,484.0 726.0,484.4 727.0,485.0 728.0,485.7 729.0,486.4 730.0,487.3 731.0,488.2 732.0,489.1 733.0,489.9 734.0,490.7 735.0,491.5 736.0,492.2 737.0,492.8 738.0,493.3 739.0,493.8 740.0,494.1 741.0,494.4 742.0,494.6 743.0,494.8 744.0,494.9 745.0,494.9 746.0,494.9 747.0,495.0 748.0,495.1 749.0,495.4 750.0,495.7 751.0,496.0 752.0,496.3 753.0,496.5 754.0,496.6 755.0,496.5 756.0,496.4 757.0,496.3 758.0,496.4 759.0,496.5 760.0,496.6 761.0,496.7 762.0,496.7 763.0,496.7 764.0,496.6 765.0,496.5 766.0,496.6 767.0,496.6 768.0,496.8 769.0,496.9 770.0,497.1 771.0,497.1 772.0,497.2 773.0,497.2 774.0,497.2 775.0,497.2 776.0,497.2 777.0,497.1 778.0,497.0 779.0,496.9 780.0,497.0 781.0,497.0 782.0,497.1 783.0,497.2 784.0,497.3 785.0,497.4 786.0,497.4 787.0,497.5 788.0,497.4 789.0,497.4 790.0,497.3 791.0,497.2 792.0,497.1 793.0,497.1 794.0,497.2 795.0,497.4 796.0,497.7 797.0,497.9 798.0,498.0 799.0,498.0 800.0,497.9 801.0,497.8 802.0,497.7 803.0,497.7 804.0,497.7 805.0,497.9 806.0,498.0 807.0,498.1 808.0,498.1 809.0,498.1 810.0,498.1 811.0,498.0 812.0,498.0 813.0,498.0 814.0,498.0 815.0,498.0 816.0,498.0 817.0,498.0 818.0,498.0 819.0,498.0 820.0,498.0 821.0,497.9 822.0,497.7 823.0,497.5 824.0,497.3 825.0,497.1 826.0,497.0 827.0,496.9 828.0,497.0 829.0,497.2 830.0,497.4 831.0,497.5 832.0,497.6 833.0,497.5 834.0,497.5 835.0,497.4 836.0,497.3 837.0,497.4 838.0,497.5 839.0,497.6 840.0,497.8 841.0,498.0 842.0,498.1 843.0,498.1 844.0,498.2 845.0,498.2 846.0,498.1 847.0,498.1 848.0,498.0 849.0,497.9 850.0,497.8 851.0,497.7 852.0,497.7 853.0,497.8 854.0,497.9 855.0,497.9 856.0,498.0 857.0,497.9 858.0,497.9 859.0,497.8 860.0,497.7 861.0,497.7 862.0,497.8 863.0,497.8 864.0,497.9 865.0,497.9 866.0,497.8 867.0,497.6 868.0,497.5 869.0,497.3 870.0,497.3 871.0,497.2 872.0,497.3 873.0,497.5 874.0,497.8 875.0,498.1 876.0,498.3 877.0,498.3 878.0,498.3 879.0,498.2 880.0,498.1 881.0,497.9 882.0,497.8 883.0,497.8 884.0,497.9 885.0,498.0 886.0,498.0 887.0,498.1 888.0,498.1 889.0,498.2 890.0,498.2 891.0,498.2 892.0,498.2 893.0,498.2 894.0,498.1 895.0,498.0 896.0,497.8 897.0,497.5 898.0,497.2 899.0,497.0 900.0,496.8 901.0,496.9 902.0,497.1 903.0,497.3 904.0,497.5 905.0,497.7 906.0,497.7 907.0,497.6 908.0,497.5 909.0,497.2 910.0,497.1 911.0,497.0 912.0,497.0 913.0,497.1 914.0,497.4 915.0,497.7 916.0,498.0 917.0,498.2 918.0,498.4 919.0,498.4 920.0,498.4 921.0,498.4 922.0,498.4 923.0,498.3 924.0,498.2 925.0,498.0 926.0,497.9 927.0,497.8 928.0,497.8 929.0,497.8 930.0,497.8 931.0,497.8 932.0,497.7 933.0,497.6 934.0,497.4 935.0,497.4 936.0,497.5 937.0,497.8 938.0,498.2 939.0,498.6 940.0,499.0 941.0,499.2 942.0,499.2 943.0,498.9 944.0,498.6 945.0,498.3 946.0,498.1 947.0,498.1 948.0,498.1 949.0,498.2 950.0,498.4 951.0,498.6 952.0,498.6 953.0,498.5 954.0,498.3 955.0,498.1 956.0,498.0 957.0,498.0 958.0,498.1 959.0,498.3 960.0,498.4 961.0,498.5 962.0,498.5 963.0,498.3 964.0,498.1 965.0,497.8 966.0,497.6 967.0,497.5 968.0,497.4 969.0,497.4 970.0,497.5 971.0,497.6 972.0,497.7 973.0,497.8 974.0,498.0 975.0,498.3 976.0,498.6 977.0,498.9 978.0,499.0 979.0,498.9 980.0,498.6 981.0,498.3 982.0,497.9 983.0,497.7 984.0,497.5 985.0,497.6 986.0,497.7 987.0,497.9 988.0,498.1 989.0,498.3 990.0,498.4 991.0,498.5 992.0,498.6 993.0,498.7 994.0,498.8 995.0,498.8 996.0,498.9 997.0,498.9 998.0,498.8 999.0,498.8 1000.0,498.7 1001.0,498.5" stroke-opacity="0.25" stroke-width="5.4"/><polyline points="98.0,498.8 99.0,498.8 100.0,498.8 101.0,498.9 102.0,498.9 103.0,499.0 104.0,499.0 105.0,499.0 106.0,498.9 107.0,498.7 108.0,498.6 109.0,498.4 110.0,498.4 111.0,498.5 112.0,498.7 113.0,498.9 114.0,499.2 115.0,499.4 116.0,499.5 117.0,499.5 118.0,499.5 119.0,499.3 120.0,499.2 121.0,499.0 122.0,498.8 123.0,498.7 124.0,498.5 125.0,498.4 126.0,498.4 127.0,498.3 128.0,498.2 129.0,498.1 130.0,498.1 131.0,498.0 132.0,498.0 133.0,498.0 134.0,498.1 135.0,498.1 136.0,498.2 137.0,498.2 138.0,498.2 139.0,498.2 140.0,498.2 141.0,498.3 142.0,498.3 143.0,498.4 144.0,498.4 145.0,498.4 146.0,498.4 147.0,498.3 148.0,498.2 149.0,498.3 150.0,498.4 151.0,498.5 152.0,498.7 153.0,498.8 154.0,498.8 155.0,498.8 156.0,498.6 157.0,498.4 158.0,498.2 159.0,498.0 160.0,497.9 161.0,497.9 162.0,498.0 163.0,498.0 164.0,498.1 165.0,498.2 166.0,498.2 167.0,498.1 168.0,498.1 169.0,498.0 170.0,497.9 171.0,497.8 172.0,497.8 173.0,497.8 174.0,497.8 175.0,497.8 176.0,497.8 177.0,497.8 178.0,497.7 179.0,497.6 180.0,497.6 181.0,497.6 182.0,497.6 183.0,497.6 184.0,497.7 185.0,497.7 186.0,497.6 187.0,497.6 188.0,497.7 189.0,497.8 190.0,498.0 191.0,498.2 192.0,498.3 193.0,498.4 194.0,498.4 195.0,498.4 196.0,498.4 197.0,498.3 198.0,498.3 199.0,498.3 200.0,498.4 201.0,498.3 202.0,498.2 203.0,498.1 204.0,498.0 205.0,497.8 206.0,497.6 207.0,497.4 208.0,497.3 209.0,497.3 210.0,497.4 211.0,497.5 212.0,497.6 213.0,497.8 214.0,497.9 215.0,498.0 216.0,497.9 217.0,497.7 218.0,497.5 219.0,497.4 220.0,497.5 221.0,497.6 222.0,497.9 223.0,498.0 224.0,498.1 225.0,498.0 226.0,497.8 227.0,497.5 228.0,497.3 229.0,497.2 230.0,497.2 231.0,497.3 232.0,497.3 233.0,497.4 234.0,497.4 235.0,497.3 236.0,497.3 237.0,497.2 238.0,497.2 239.0,497.1 240.0,497.0 241.0,496.8 242.0,496.7 243.0,496.7 244.0,496.6 245.0,496.5 246.0,496.5 247.0,496.5 248.0,496.5 249.0,496.4 250.0,496.3 251.0,496.3 252.0,496.3 253.0,496.5 254.0,496.7 255.0,496.9 256.0,497.2 257.0,497.5 258.0,497.6 259.0,497.7 260.0,497.7 261.0,497.7 262.0,497.7 263.0,497.6 264.0,497.5 265.0,497.3 266.0,497.0 267.0,496.8 268.0,496.6 269.0,496.5 270.0,496.5 271.0,496.6 272.0,496.6 273.0,496.7 274.0,496.8 275.0,496.9 276.0,497.0 277.0,497.2 278.0,497.4 279.0,497.5 280.0,497.6 281.0,497.6 282.0,497.6 283.0,497.4 284.0,497.1 285.0,496.8 286.0,496.6 287.0,496.4 288.0,496.3 289.0,496.2 290.0,496.2 291.0,496.2 292.0,496.2 293.0,496.2 294.0,496.2 295.0,496.3 296.0,496.3 297.0,496.4 298.0,496.3 299.0,496.2 300.0,496.0 301.0,495.7 302.0,495.6 303.0,495.5 304.0,495.5 305.0,495.5 306.0,495.4 307.0,495.3 308.0,495.2 309.0,495.1 310.0,495.0 311.0,494.9 312.0,494.9 313.0,494.7 314.0,494.6 315.0,494.4 316.0,494.1 317.0,493.9 318.0,493.7 319.0,493.6 320.0,493.6 321.0,493.6 322.0,493.7 323.0,493.6 324.0,493.6 325.0,493.5 326.0,493.5 327.0,493.4 328.0,493.4 329.0,493.5 330.0,493.5 331.0,493.6 332.0,493.6 333.0,493.7 334.0,493.8 335.0,493.9 336.0,494.0 337.0,493.9 338.0,493.8 339.0,493.5 340.0,493.2 341.0,492.9 342.0,492.8 343.0,492.9 344.0,493.1 345.0,493.2 346.0,493.4 347.0,493.4 348.0,493.3 349.0,493.1 350.0,492.8 351.0,492.5 352.0,492.3 353.0,492.1 354.0,492.1 355.0,492.1 356.0,492.1 357.0,492.0 358.0,491.9 359.0,491.7 360.0,491.5 361.0,491.2 362.0,490.9 363.0,490.7 364.0,490.6 365.0,490.4 366.0,490.2 367.0,490.0 368.0,489.9 369.0,489.8 370.0,489.6 371.0,489.3 372.0,488.9 373.0,488.4 374.0,487.9 375.0,487.3 376.0,486.7 377.0,486.2 378.0,485.8 379.0,485.4 380.0,485.0 381.0,484.5 382.0,483.9 383.0,482.9 384.0,481.6 385.0,479.9 386.0,478.0 387.0,476.0 388.0,474.0 389.0,471.8 390.0,469.5 391.0,467.0 392.0,464.1 393.0,460.6 394.0,456.6 395.0,452.8 396.0,449.1 397.0,446.0 398.0,444.0 399.0,444.0 400.0,446.1 401.0,449.6 402.0,453.7 403.0,457.8 404.0,461.8 405.0,465.4 406.0,468.4 407.0,470.7 408.0,472.8 409.0,474.7 410.0,476.4 411.0,477.8 412.0,479.0 413.0,480.0 414.0,480.9 415.0,481.7 416.0,482.5 417.0,483.3 418.0,484.0 419.0,484.7 420.0,485.3 421.0,485.8 422.0,486.1 423.0,486.4 424.0,486.6 425.0,486.8 426.0,487.0 427.0,487.3 428.0,487.7 429.0,488.0 430.0,488.3 431.0,488.6 432.0,489.0 433.0,489.3 434.0,489.6 435.0,490.0 436.0,490.3 437.0,490.5 438.0,490.7 439.0,490.9 440.0,491.1 441.0,491.3 442.0,491.5 443.0,491.7 444.0,491.8 445.0,491.9 446.0,492.0 447.0,492.2 448.0,492.4 449.0,492.7 450.0,492.9 451.0,493.0 452.0,493.1 453.0,493.1 454.0,493.1 455.0,493.0 456.0,492.9 457.0,492.8 458.0,492.7 459.0,492.7 460.0,492.7 461.0,492.7 462.0,492.8 463.0,492.8 464.0,492.7 465.0,492.6 466.0,492.3 467.0,492.1 468.0,491.9 469.0,491.8 470.0,491.7 471.0,491.7 472.0,491.7 473.0,491.7 474.0,491.6 475.0,491.4 476.0,491.0 477.0,490.7 478.0,490.4 479.0,490.1 480.0,489.8 481.0,489.6 482.0,489.6 483.0,489.6 484.0,489.6 485.0,489.5 486.0,489.4 487.0,489.3 488.0,489.1 489.0,488.8 490.0,488.4 491.0,488.0 492.0,487.5 493.0,487.0 494.0,486.5 495.0,486.0 496.0,485.5 497.0,485.0 498.0,484.6 499.0,484.1 500.0,483.6 501.0,483.0 502.0,482.3 503.0,481.3 504.0,480.1 505.0,478.7 506.0,477.1 507.0,475.5 508.0,473.7 509.0,472.0 510.0,470.2 511.0,468.1 512.0,465.8 513.0,463.3 514.0,460.9 515.0,458.5 516.0,456.5 517.0,455.3 518.0,455.6 519.0,457.1 520.0,459.4 521.0,461.8 522.0,464.2 523.0,466.6 524.0,469.0 525.0,471.1 526.0,472.8 527.0,474.0 528.0,474.9 529.0,475.6 530.0,476.1 531.0,476.5 532.0,476.8 533.0,476.9 534.0,476.9 535.0,476.9 536.0,477.0 537.0,477.1 538.0,477.2 539.0,477.4 540.0,477.5 541.0,477.6 542.0,477.5 543.0,477.1 544.0,476.6 545.0,476.0 546.0,475.3 547.0,474.4 548.0,473.6 549.0,472.7 550.0,471.8 551.0,470.9 552.0,470.1 553.0,469.2 554.0,468.4 555.0,467.6 556.0,466.8 557.0,466.0 558.0,465.3 559.0,464.5 560.0,463.9 561.0,463.4 562.0,463.0 563.0,462.9 564.0,462.9 565.0,463.2 566.0,463.7 567.0,464.3 568.0,464.9 569.0,465.5 570.0,466.0 571.0,466.5 572.0,466.8 573.0,467.1 574.0,467.3 575.0,467.3 576.0,467.4 577.0,467.4 578.0,467.3 579.0,467.1 580.0,466.6 581.0,465.9 582.0,464.9 583.0,463.7 584.0,462.4 585.0,461.2 586.0,460.1 587.0,459.0 588.0,457.9 589.0,456.6 590.0,455.1 591.0,452.9 592.0,449.8 593.0,445.9 594.0,441.5 595.0,436.8 596.0,431.8 597.0,426.5 598.0,420.9 599.0,415.8 600.0,412.4 601.0,411.7 602.0,414.2 603.0,419.3 604.0,425.5 605.0,431.5 606.0,436.9 607.0,442.0 608.0,446.8 609.0,451.4 610.0,455.4 611.0,459.0 612.0,462.3 613.0,465.4 614.0,468.3 615.0,470.8 616.0,473.1 617.0,475.0 618.0,476.6 619.0,477.9 620.0,479.0 621.0,479.8 622.0,480.4 623.0,480.9 624.0,481.4 625.0,481.9 626.0,482.5 627.0,483.1 628.0,483.8 629.0,484.4 630.0,485.1 631.0,485.6 632.0,486.0 633.0,486.4 634.0,486.7 635.0,487.0 636.0,487.4 637.0,487.8 638.0,488.1 639.0,488.3 640.0,488.3 641.0,488.2 642.0,488.1 643.0,488.0 644.0,488.1 645.0,488.3 646.0,488.7 647.0,489.0 648.0,489.4 649.0,489.6 650.0,489.9 651.0,490.0 652.0,490.2 653.0,490.3 654.0,490.4 655.0,490.4 656.0,490.5 657.0,490.6 658.0,490.7 659.0,490.7 660.0,490.8 661.0,490.8 662.0,490.8 663.0,490.7 664.0,490.8 665.0,490.8 666.0,490.9 667.0,490.9 668.0,491.0 669.0,491.0 670.0,490.9 671.0,490.8 672.0,490.7 673.0,490.4 674.0,490.1 675.0,489.7 676.0,489.3 677.0,489.0 678.0,488.7 679.0,488.5 680.0,488.4 681.0,488.3 682.0,488.2 683.0,488.1 684.0,487.9 685.0,487.7 686.0,487.6 687.0,487.5 688.0,487.3 689.0,487.2 690.0,487.0 691.0,486.9 692.0,486.6 693.0,486.2 694.0,485.7 695.0,485.0 696.0,484.4 697.0,483.8 698.0,483.2 699.0,482.8 700.0,482.4 701.0,482.1 702.0,481.8 703.0,481.5 704.0,481.2 705.0,480.9 706.0,480.8 707.0,480.6 708.0,480.5 709.0,480.5 710.0,480.4 711.0,480.4 712.0,480.5 713.0,480.6 714.0,480.8 715.0,481.0 716.0,481.3 717.0,481.6 718.0,482.0 719.0,482.3 720.0,482.6 721.0,483.0 722.0,483.2 723.0,483.5 724.0,483.7 725.0,484.0 726.0,484.4 727.0,485.0 728.0,485.7 729.0,486.4 730.0,487.3 731.0,488.2 732.0,489.1 733.0,489.9 734.0,490.7 735.0,491.5 736.0,492.2 737.0,492.8 738.0,493.3 739.0,493.8 740.0,494.1 741.0,494.4 742.0,494.6 743.0,494.8 744.0,494.9 745.0,494.9 746.0,494.9 747.0,495.0 748.0,495.1 749.0,495.4 750.0,495.7 751.0,496.0 752.0,496.3 753.0,496.5 754.0,496.6 755.0,496.5 756.0,496.4 757.0,496.3 758.0,496.4 759.0,496.5 760.0,496.6 761.0,496.7 762.0,496.7 763.0,496.7 764.0,496.6 765.0,496.5 766.0,496.6 767.0,496.6 768.0,496.8 769.0,496.9 770.0,497.1 771.0,497.1 772.0,497.2 773.0,497.2 774.0,497.2 775.0,497.2 776.0,497.2 777.0,497.1 778.0,497.0 779.0,496.9 780.0,497.0 781.0,497.0 782.0,497.1 783.0,497.2 784.0,497.3 785.0,497.4 786.0,497.4 787.0,497.5 788.0,497.4 789.0,497.4 790.0,497.3 791.0,497.2 792.0,497.1 793.0,497.1 794.0,497.2 795.0,497.4 796.0,497.7 797.0,497.9 798.0,498.0 799.0,498.0 800.0,497.9 801.0,497.8 802.0,497.7 803.0,497.7 804.0,497.7 805.0,497.9 806.0,498.0 807.0,498.1 808.0,498.1 809.0,498.1 810.0,498.1 811.0,498.0 812.0,498.0 813.0,498.0 814.0,498.0 815.0,498.0 816.0,498.0 817.0,498.0 818.0,498.0 819.0,498.0 820.0,498.0 821.0,497.9 822.0,497.7 823.0,497.5 824.0,497.3 825.0,497.1 826.0,497.0 827.0,496.9 828.0,497.0 829.0,497.2 830.0,497.4 831.0,497.5 832.0,497.6 833.0,497.5 834.0,497.5 835.0,497.4 836.0,497.3 837.0,497.4 838.0,497.5 839.0,497.6 840.0,497.8 841.0,498.0 842.0,498.1 843.0,498.1 844.0,498.2 845.0,498.2 846.0,498.1 847.0,498.1 848.0,498.0 849.0,497.9 850.0,497.8 851.0,497.7 852.0,497.7 853.0,497.8 854.0,497.9 855.0,497.9 856.0,498.0 857.0,497.9 858.0,497.9 859.0,497.8 860.0,497.7 861.0,497.7 862.0,497.8 863.0,497.8 864.0,497.9 865.0,497.9 866.0,497.8 867.0,497.6 868.0,497.5 869.0,497.3 870.0,497.3 871.0,497.2 872.0,497.3 873.0,497.5 874.0,497.8 875.0,498.1 876.0,498.3 877.0,498.3 878.0,498.3 879.0,498.2 880.0,498.1 881.0,497.9 882.0,497.8 883.0,497.8 884.0,497.9 885.0,498.0 886.0,498.0 887.0,498.1 888.0,498.1 889.0,498.2 890.0,498.2 891.0,498.2 892.0,498.2 893.0,498.2 894.0,498.1 895.0,498.0 896.0,497.8 897.0,497.5 898.0,497.2 899.0,497.0 900.0,496.8 901.0,496.9 902.0,497.1 903.0,497.3 904.0,497.5 905.0,497.7 906.0,497.7 907.0,497.6 908.0,497.5 909.0,497.2 910.0,497.1 911.0,497.0 912.0,497.0 913.0,497.1 914.0,497.4 915.0,497.7 916.0,498.0 917.0,498.2 918.0,498.4 919.0,498.4 920.0,498.4 921.0,498.4 922.0,498.4 923.0,498.3 924.0,498.2 925.0,498.0 926.0,497.9 927.0,497.8 928.0,497.8 929.0,497.8 930.0,497.8 931.0,497.8 932.0,497.7 933.0,497.6 934.0,497.4 935.0,497.4 936.0,497.5 937.0,497.8 938.0,498.2 939.0,498.6 940.0,499.0 941.0,499.2 942.0,499.2 943.0,498.9 944.0,498.6 945.0,498.3 946.0,498.1 947.0,498.1 948.0,498.1 949.0,498.2 950.0,498.4 951.0,498.6 952.0,498.6 953.0,498.5 954.0,498.3 955.0,498.1 956.0,498.0 957.0,498.0 958.0,498.1 959.0,498.3 960.0,498.4 961.0,498.5 962.0,498.5 963.0,498.3 964.0,498.1 965.0,497.8 966.0,497.6 967.0,497.5 968.0,497.4 969.0,497.4 970.0,497.5 971.0,497.6 972.0,497.7 973.0,497.8 974.0,498.0 975.0,498.3 976.0,498.6 977.0,498.9 978.0,499.0 979.0,498.9 980.0,498.6 981.0,498.3 982.0,497.9 983.0,497.7 984.0,497.5 985.0,497.6 986.0,497.7 987.0,497.9 988.0,498.1 989.0,498.3 990.0,498.4 991.0,498.5 992.0,498.6 993.0,498.7 994.0,498.8 995.0,498.8 996.0,498.9 997.0,498.9 998.0,498.8 999.0,498.8 1000.0,498.7 1001.0,498.5" stroke-width="4.0"/></g>
<g fill="none" stroke="#1472b8" stroke-linejoin="round"><polyline points="98.0,410.2 99.0,410.2 100.0,410.2 101.0,410.2 102.0,410.2 103.0,410.3 104.0,410.4 105.0,410.5 106.0,410.5 107.0,410.4 108.0,410.2 109.0,410.1 110.0,409.9 111.0,409.8 112.0,409.6 113.0,409.5 114.0,409.4 115.0,409.4 116.0,409.3 117.0,409.3 118.0,409.3 119.0,409.3 120.0,409.4 121.0,409.5 122.0,409.6 123.0,409.8 124.0,410.1 125.0,410.3 126.0,410.4 127.0,410.5 128.0,410.5 129.0,410.4 130.0,410.3 131.0,410.1 132.0,409.9 133.0,409.7 134.0,409.5 135.0,409.2 136.0,409.0 137.0,408.9 138.0,408.9 139.0,409.0 140.0,409.2 141.0,409.4 142.0,409.5 143.0,409.6 144.0,409.6 145.0,409.6 146.0,409.6 147.0,409.6 148.0,409.8 149.0,410.0 150.0,410.2 151.0,410.4 152.0,410.5 153.0,410.6 154.0,410.5 155.0,410.4 156.0,410.2 157.0,410.2 158.0,410.1 159.0,410.1 160.0,410.0 161.0,409.8 162.0,409.7 163.0,409.5 164.0,409.4 165.0,409.3 166.0,409.2 167.0,409.3 168.0,409.3 169.0,409.4 170.0,409.3 171.0,409.3 172.0,409.2 173.0,409.2 174.0,409.2 175.0,409.3 176.0,409.3 177.0,409.3 178.0,409.4 179.0,409.4 180.0,409.6 181.0,409.8 182.0,410.0 183.0,410.1 184.0,410.1 185.0,410.0 186.0,409.8 187.0,409.7 188.0,409.5 189.0,409.4 190.0,409.3 191.0,409.3 192.0,409.4 193.0,409.5 194.0,409.6 195.0,409.7 196.0,409.7 197.0,409.7 198.0,409.6 199.0,409.4 200.0,409.3 201.0,409.2 202.0,409.1 203.0,409.0 204.0,408.9 205.0,408.8 206.0,408.7 207.0,408.7 208.0,408.8 209.0,409.0 210.0,409.1 211.0,409.2 212.0,409.2 213.0,409.1 214.0,409.1 215.0,409.0 216.0,409.0 217.0,409.0 218.0,408.9 219.0,408.8 220.0,408.7 221.0,408.7 222.0,408.7 223.0,408.8 224.0,409.0 225.0,409.1 226.0,409.1 227.0,409.0 228.0,408.7 229.0,408.4 230.0,408.2 231.0,408.0 232.0,408.0 233.0,408.1 234.0,408.3 235.0,408.5 236.0,408.6 237.0,408.7 238.0,408.7 239.0,408.7 240.0,408.6 241.0,408.6 242.0,408.6 243.0,408.6 244.0,408.7 245.0,408.7 246.0,408.6 247.0,408.6 248.0,408.5 249.0,408.4 250.0,408.3 251.0,408.2 252.0,408.1 253.0,408.0 254.0,407.9 255.0,407.8 256.0,407.7 257.0,407.6 258.0,407.7 259.0,408.0 260.0,408.4 261.0,408.8 262.0,409.0 263.0,409.1 264.0,409.0 265.0,408.8 266.0,408.7 267.0,408.6 268.0,408.5 269.0,408.5 270.0,408.4 271.0,408.2 272.0,407.9 273.0,407.5 274.0,407.2 275.0,407.0 276.0,406.9 277.0,406.9 278.0,407.0 279.0,407.2 280.0,407.3 281.0,407.5 282.0,407.6 283.0,407.7 284.0,407.7 285.0,407.7 286.0,407.7 287.0,407.7 288.0,407.7 289.0,407.7 290.0,407.8 291.0,407.8 292.0,407.9 293.0,407.9 294.0,407.8 295.0,407.6 296.0,407.5 297.0,407.3 298.0,407.2 299.0,407.2 300.0,407.3 301.0,407.4 302.0,407.5 303.0,407.6 304.0,407.6 305.0,407.6 306.0,407.6 307.0,407.6 308.0,407.7 309.0,407.8 310.0,407.9 311.0,408.0 312.0,408.0 313.0,407.8 314.0,407.6 315.0,407.4 316.0,407.1 317.0,406.8 318.0,406.6 319.0,406.5 320.0,406.4 321.0,406.4 322.0,406.5 323.0,406.5 324.0,406.5 325.0,406.6 326.0,406.6 327.0,406.6 328.0,406.6 329.0,406.5 330.0,406.4 331.0,406.2 332.0,406.0 333.0,406.0 334.0,406.0 335.0,406.0 336.0,406.0 337.0,405.9 338.0,405.8 339.0,405.7 340.0,405.6 341.0,405.6 342.0,405.6 343.0,405.7 344.0,405.8 345.0,405.7 346.0,405.7 347.0,405.5 348.0,405.3 349.0,405.1 350.0,404.8 351.0,404.4 352.0,404.1 353.0,403.9 354.0,403.8 355.0,403.8 356.0,403.9 357.0,404.1 358.0,404.2 359.0,404.2 360.0,404.1 361.0,403.9 362.0,403.6 363.0,403.3 364.0,403.0 365.0,402.8 366.0,402.6 367.0,402.5 368.0,402.5 369.0,402.5 370.0,402.5 371.0,402.6 372.0,402.7 373.0,402.7 374.0,402.6 375.0,402.4 376.0,402.1 377.0,401.6 378.0,400.9 379.0,400.0 380.0,399.1 381.0,398.1 382.0,397.0 383.0,395.9 384.0,394.7 385.0,393.5 386.0,392.1 387.0,390.6 388.0,389.0 389.0,387.4 390.0,385.7 391.0,384.1 392.0,382.5 393.0,381.0 394.0,379.5 395.0,378.0 396.0,376.6 397.0,375.4 398.0,374.4 399.0,373.9 400.0,373.7 401.0,373.9 402.0,374.4 403.0,375.2 404.0,376.2 405.0,377.4 406.0,378.5 407.0,379.7 408.0,381.0 409.0,382.2 410.0,383.6 411.0,384.9 412.0,386.2 413.0,387.5 414.0,388.7 415.0,389.8 416.0,390.8 417.0,391.6 418.0,392.4 419.0,393.1 420.0,393.8 421.0,394.4 422.0,395.0 423.0,395.5 424.0,396.0 425.0,396.4 426.0,396.8 427.0,397.2 428.0,397.6 429.0,398.0 430.0,398.4 431.0,398.7 432.0,399.0 433.0,399.2 434.0,399.3 435.0,399.5 436.0,399.7 437.0,400.0 438.0,400.4 439.0,401.0 440.0,401.7 441.0,402.3 442.0,402.9 443.0,403.3 444.0,403.6 445.0,403.8 446.0,404.0 447.0,404.0 448.0,404.0 449.0,404.1 450.0,404.3 451.0,404.5 452.0,404.8 453.0,405.0 454.0,405.2 455.0,405.3 456.0,405.4 457.0,405.5 458.0,405.6 459.0,405.7 460.0,405.9 461.0,406.0 462.0,405.9 463.0,405.8 464.0,405.6 465.0,405.5 466.0,405.5 467.0,405.5 468.0,405.5 469.0,405.6 470.0,405.6 471.0,405.5 472.0,405.3 473.0,405.2 474.0,405.0 475.0,404.8 476.0,404.6 477.0,404.4 478.0,404.2 479.0,404.0 480.0,403.8 481.0,403.5 482.0,403.3 483.0,403.2 484.0,403.0 485.0,402.8 486.0,402.6 487.0,402.4 488.0,402.2 489.0,402.1 490.0,402.0 491.0,401.8 492.0,401.7 493.0,401.4 494.0,401.1 495.0,400.7 496.0,400.2 497.0,399.7 498.0,399.0 499.0,398.4 500.0,397.6 501.0,396.8 502.0,395.9 503.0,394.9 504.0,393.9 505.0,392.9 506.0,391.8 507.0,390.7 508.0,389.6 509.0,388.4 510.0,387.1 511.0,385.7 512.0,384.2 513.0,382.7 514.0,381.1 515.0,379.7 516.0,378.5 517.0,377.5 518.0,376.8 519.0,376.5 520.0,376.6 521.0,376.9 522.0,377.5 523.0,378.2 524.0,379.0 525.0,380.0 526.0,381.0 527.0,382.1 528.0,383.1 529.0,384.1 530.0,385.0 531.0,385.8 532.0,386.4 533.0,386.7 534.0,387.0 535.0,387.3 536.0,387.6 537.0,387.9 538.0,388.1 539.0,388.2 540.0,387.9 541.0,387.4 542.0,386.6 543.0,385.7 544.0,384.9 545.0,384.2 546.0,383.5 547.0,382.8 548.0,382.0 549.0,381.0 550.0,379.8 551.0,378.6 552.0,377.4 553.0,376.3 554.0,375.2 555.0,374.2 556.0,373.3 557.0,372.4 558.0,371.6 559.0,370.7 560.0,369.7 561.0,368.7 562.0,367.8 563.0,366.8 564.0,365.9 565.0,365.2 566.0,364.8 567.0,364.7 568.0,364.7 569.0,365.0 570.0,365.4 571.0,365.9 572.0,366.4 573.0,367.0 574.0,367.7 575.0,368.4 576.0,369.2 577.0,369.8 578.0,370.4 579.0,371.0 580.0,371.5 581.0,371.9 582.0,372.3 583.0,372.4 584.0,372.3 585.0,371.8 586.0,370.9 587.0,369.7 588.0,368.3 589.0,366.9 590.0,365.6 591.0,364.4 592.0,363.3 593.0,362.3 594.0,361.3 595.0,360.2 596.0,359.1 597.0,358.1 598.0,357.1 599.0,356.3 600.0,355.7 601.0,355.3 602.0,355.5 603.0,356.2 604.0,357.5 605.0,359.1 606.0,360.9 607.0,362.8 608.0,364.6 609.0,366.3 610.0,367.8 611.0,369.4 612.0,371.2 613.0,373.0 614.0,375.0 615.0,376.9 616.0,378.7 617.0,380.4 618.0,381.9 619.0,383.2 620.0,384.4 621.0,385.6 622.0,386.9 623.0,388.0 624.0,389.1 625.0,390.2 626.0,391.1 627.0,391.9 628.0,392.7 629.0,393.4 630.0,394.2 631.0,394.9 632.0,395.5 633.0,395.9 634.0,396.2 635.0,396.4 636.0,396.6 637.0,396.8 638.0,397.1 639.0,397.5 640.0,398.1 641.0,398.7 642.0,399.3 643.0,399.7 644.0,400.1 645.0,400.3 646.0,400.4 647.0,400.5 648.0,400.7 649.0,400.9 650.0,401.2 651.0,401.5 652.0,401.7 653.0,401.9 654.0,402.0 655.0,402.1 656.0,402.1 657.0,402.1 658.0,402.2 659.0,402.2 660.0,402.2 661.0,402.3 662.0,402.3 663.0,402.2 664.0,402.2 665.0,402.1 666.0,402.0 667.0,401.9 668.0,401.7 669.0,401.4 670.0,401.0 671.0,400.6 672.0,400.2 673.0,399.9 674.0,399.8 675.0,399.8 676.0,399.9 677.0,400.1 678.0,400.1 679.0,399.9 680.0,399.6 681.0,399.2 682.0,398.8 683.0,398.5 684.0,398.3 685.0,398.1 686.0,397.9 687.0,397.5 688.0,397.1 689.0,396.5 690.0,395.9 691.0,395.3 692.0,394.6 693.0,394.0 694.0,393.5 695.0,393.0 696.0,392.6 697.0,392.3 698.0,392.0 699.0,391.6 700.0,391.2 701.0,390.7 702.0,390.1 703.0,389.4 704.0,388.7 705.0,388.0 706.0,387.3 707.0,386.7 708.0,386.0 709.0,385.5 710.0,385.2 711.0,385.1 712.0,385.1 713.0,385.3 714.0,385.5 715.0,385.9 716.0,386.4 717.0,386.8 718.0,387.2 719.0,387.6 720.0,387.9 721.0,388.3 722.0,388.8 723.0,389.4 724.0,390.2 725.0,391.0 726.0,391.8 727.0,392.5 728.0,393.1 729.0,393.7 730.0,394.4 731.0,395.1 732.0,395.9 733.0,396.6 734.0,397.3 735.0,397.9 736.0,398.4 737.0,398.8 738.0,399.3 739.0,399.9 740.0,400.5 741.0,401.3 742.0,402.2 743.0,403.1 744.0,404.0 745.0,404.8 746.0,405.5 747.0,406.0 748.0,406.3 749.0,406.5 750.0,406.6 751.0,406.8 752.0,407.0 753.0,407.3 754.0,407.6 755.0,407.9 756.0,408.1 757.0,408.2 758.0,408.3 759.0,408.3 760.0,408.3 761.0,408.3 762.0,408.4 763.0,408.4 764.0,408.5 765.0,408.6 766.0,408.6 767.0,408.6 768.0,408.5 769.0,408.5 770.0,408.6 771.0,408.7 772.0,408.9 773.0,409.0 774.0,409.0 775.0,408.9 776.0,408.8 777.0,408.7 778.0,408.6 779.0,408.7 780.0,408.8 781.0,408.9 782.0,408.9 783.0,409.0 784.0,409.0 785.0,409.2 786.0,409.5 787.0,409.8 788.0,410.1 789.0,410.3 790.0,410.3 791.0,410.4 792.0,410.3 793.0,410.3 794.0,410.3 795.0,410.3 796.0,410.2 797.0,410.1 798.0,410.0 799.0,409.8 800.0,409.7 801.0,409.7 802.0,409.8 803.0,410.0 804.0,410.2 805.0,410.3 806.0,410.3 807.0,410.2 808.0,410.1 809.0,409.9 810.0,409.8 811.0,409.8 812.0,409.8 813.0,409.9 814.0,410.0 815.0,410.1 816.0,410.2 817.0,410.4 818.0,410.5 819.0,410.5 820.0,410.5 821.0,410.4 822.0,410.3 823.0,410.2 824.0,410.2 825.0,410.2 826.0,410.2 827.0,410.1 828.0,410.0 829.0,409.8 830.0,409.7 831.0,409.6 832.0,409.6 833.0,409.8 834.0,410.0 835.0,410.3 836.0,410.5 837.0,410.6 838.0,410.6 839.0,410.6 840.0,410.5 841.0,410.3 842.0,410.2 843.0,410.2 844.0,410.2 845.0,410.2 846.0,410.2 847.0,410.2 848.0,410.2 849.0,410.2 850.0,410.2 851.0,410.2 852.0,410.1 853.0,410.0 854.0,410.0 855.0,410.0 856.0,410.0 857.0,410.1 858.0,410.1 859.0,410.1 860.0,409.9 861.0,409.6 862.0,409.4 863.0,409.2 864.0,409.1 865.0,409.2 866.0,409.4 867.0,409.6 868.0,409.9 869.0,410.1 870.0,410.3 871.0,410.5 872.0,410.7 873.0,410.8 874.0,410.9 875.0,411.0 876.0,411.0 877.0,410.9 878.0,410.8 879.0,410.6 880.0,410.5 881.0,410.4 882.0,410.3 883.0,410.3 884.0,410.3 885.0,410.3 886.0,410.2 887.0,410.0 888.0,409.7 889.0,409.5 890.0,409.3 891.0,409.2 892.0,409.3 893.0,409.5 894.0,409.7 895.0,410.0 896.0,410.2 897.0,410.3 898.0,410.5 899.0,410.6 900.0,410.7 901.0,410.8 902.0,410.8 903.0,410.8 904.0,410.7 905.0,410.6 906.0,410.6 907.0,410.5 908.0,410.5 909.0,410.4 910.0,410.3 911.0,410.2 912.0,410.1 913.0,409.9 914.0,409.8 915.0,409.7 916.0,409.7 917.0,409.6 918.0,409.6 919.0,409.7 920.0,409.8 921.0,409.9 922.0,409.9 923.0,409.9 924.0,409.9 925.0,409.9 926.0,410.0 927.0,410.1 928.0,410.2 929.0,410.2 930.0,410.2 931.0,410.1 932.0,410.0 933.0,409.8 934.0,409.7 935.0,409.7 936.0,409.6 937.0,409.6 938.0,409.6 939.0,409.7 940.0,409.9 941.0,410.1 942.0,410.2 943.0,410.3 944.0,410.4 945.0,410.4 946.0,410.4 947.0,410.4 948.0,410.5 949.0,410.5 950.0,410.6 951.0,410.6 952.0,410.4 953.0,410.3 954.0,410.1 955.0,410.0 956.0,410.0 957.0,410.0 958.0,410.1 959.0,410.2 960.0,410.3 961.0,410.3 962.0,410.3 963.0,410.3 964.0,410.3 965.0,410.3 966.0,410.3 967.0,410.3 968.0,410.2 969.0,410.1 970.0,410.0 971.0,409.9 972.0,409.8 973.0,409.8 974.0,409.8 975.0,409.8 976.0,409.9 977.0,409.9 978.0,410.0 979.0,410.2 980.0,410.3 981.0,410.4 982.0,410.5 983.0,410.4 984.0,410.3 985.0,410.2 986.0,410.2 987.0,410.1 988.0,410.1 989.0,410.2 990.0,410.2 991.0,410.4 992.0,410.5 993.0,410.6 994.0,410.7 995.0,410.6 996.0,410.6 997.0,410.4 998.0,410.3 999.0,410.3 1000.0,410.3 1001.0,410.5" stroke-opacity="0.25" stroke-width="5.4"/><polyline points="98.0,410.2 99.0,410.2 100.0,410.2 101.0,410.2 102.0,410.2 103.0,410.3 104.0,410.4 105.0,410.5 106.0,410.5 107.0,410.4 108.0,410.2 109.0,410.1 110.0,409.9 111.0,409.8 112.0,409.6 113.0,409.5 114.0,409.4 115.0,409.4 116.0,409.3 117.0,409.3 118.0,409.3 119.0,409.3 120.0,409.4 121.0,409.5 122.0,409.6 123.0,409.8 124.0,410.1 125.0,410.3 126.0,410.4 127.0,410.5 128.0,410.5 129.0,410.4 130.0,410.3 131.0,410.1 132.0,409.9 133.0,409.7 134.0,409.5 135.0,409.2 136.0,409.0 137.0,408.9 138.0,408.9 139.0,409.0 140.0,409.2 141.0,409.4 142.0,409.5 143.0,409.6 144.0,409.6 145.0,409.6 146.0,409.6 147.0,409.6 148.0,409.8 149.0,410.0 150.0,410.2 151.0,410.4 152.0,410.5 153.0,410.6 154.0,410.5 155.0,410.4 156.0,410.2 157.0,410.2 158.0,410.1 159.0,410.1 160.0,410.0 161.0,409.8 162.0,409.7 163.0,409.5 164.0,409.4 165.0,409.3 166.0,409.2 167.0,409.3 168.0,409.3 169.0,409.4 170.0,409.3 171.0,409.3 172.0,409.2 173.0,409.2 174.0,409.2 175.0,409.3 176.0,409.3 177.0,409.3 178.0,409.4 179.0,409.4 180.0,409.6 181.0,409.8 182.0,410.0 183.0,410.1 184.0,410.1 185.0,410.0 186.0,409.8 187.0,409.7 188.0,409.5 189.0,409.4 190.0,409.3 191.0,409.3 192.0,409.4 193.0,409.5 194.0,409.6 195.0,409.7 196.0,409.7 197.0,409.7 198.0,409.6 199.0,409.4 200.0,409.3 201.0,409.2 202.0,409.1 203.0,409.0 204.0,408.9 205.0,408.8 206.0,408.7 207.0,408.7 208.0,408.8 209.0,409.0 210.0,409.1 211.0,409.2 212.0,409.2 213.0,409.1 214.0,409.1 215.0,409.0 216.0,409.0 217.0,409.0 218.0,408.9 219.0,408.8 220.0,408.7 221.0,408.7 222.0,408.7 223.0,408.8 224.0,409.0 225.0,409.1 226.0,409.1 227.0,409.0 228.0,408.7 229.0,408.4 230.0,408.2 231.0,408.0 232.0,408.0 233.0,408.1 234.0,408.3 235.0,408.5 236.0,408.6 237.0,408.7 238.0,408.7 239.0,408.7 240.0,408.6 241.0,408.6 242.0,408.6 243.0,408.6 244.0,408.7 245.0,408.7 246.0,408.6 247.0,408.6 248.0,408.5 249.0,408.4 250.0,408.3 251.0,408.2 252.0,408.1 253.0,408.0 254.0,407.9 255.0,407.8 256.0,407.7 257.0,407.6 258.0,407.7 259.0,408.0 260.0,408.4 261.0,408.8 262.0,409.0 263.0,409.1 264.0,409.0 265.0,408.8 266.0,408.7 267.0,408.6 268.0,408.5 269.0,408.5 270.0,408.4 271.0,408.2 272.0,407.9 273.0,407.5 274.0,407.2 275.0,407.0 276.0,406.9 277.0,406.9 278.0,407.0 279.0,407.2 280.0,407.3 281.0,407.5 282.0,407.6 283.0,407.7 284.0,407.7 285.0,407.7 286.0,407.7 287.0,407.7 288.0,407.7 289.0,407.7 290.0,407.8 291.0,407.8 292.0,407.9 293.0,407.9 294.0,407.8 295.0,407.6 296.0,407.5 297.0,407.3 298.0,407.2 299.0,407.2 300.0,407.3 301.0,407.4 302.0,407.5 303.0,407.6 304.0,407.6 305.0,407.6 306.0,407.6 307.0,407.6 308.0,407.7 309.0,407.8 310.0,407.9 311.0,408.0 312.0,408.0 313.0,407.8 314.0,407.6 315.0,407.4 316.0,407.1 317.0,406.8 318.0,406.6 319.0,406.5 320.0,406.4 321.0,406.4 322.0,406.5 323.0,406.5 324.0,406.5 325.0,406.6 326.0,406.6 327.0,406.6 328.0,406.6 329.0,406.5 330.0,406.4 331.0,406.2 332.0,406.0 333.0,406.0 334.0,406.0 335.0,406.0 336.0,406.0 337.0,405.9 338.0,405.8 339.0,405.7 340.0,405.6 341.0,405.6 342.0,405.6 343.0,405.7 344.0,405.8 345.0,405.7 346.0,405.7 347.0,405.5 348.0,405.3 349.0,405.1 350.0,404.8 351.0,404.4 352.0,404.1 353.0,403.9 354.0,403.8 355.0,403.8 356.0,403.9 357.0,404.1 358.0,404.2 359.0,404.2 360.0,404.1 361.0,403.9 362.0,403.6 363.0,403.3 364.0,403.0 365.0,402.8 366.0,402.6 367.0,402.5 368.0,402.5 369.0,402.5 370.0,402.5 371.0,402.6 372.0,402.7 373.0,402.7 374.0,402.6 375.0,402.4 376.0,402.1 377.0,401.6 378.0,400.9 379.0,400.0 380.0,399.1 381.0,398.1 382.0,397.0 383.0,395.9 384.0,394.7 385.0,393.5 386.0,392.1 387.0,390.6 388.0,389.0 389.0,387.4 390.0,385.7 391.0,384.1 392.0,382.5 393.0,381.0 394.0,379.5 395.0,378.0 396.0,376.6 397.0,375.4 398.0,374.4 399.0,373.9 400.0,373.7 401.0,373.9 402.0,374.4 403.0,375.2 404.0,376.2 405.0,377.4 406.0,378.5 407.0,379.7 408.0,381.0 409.0,382.2 410.0,383.6 411.0,384.9 412.0,386.2 413.0,387.5 414.0,388.7 415.0,389.8 416.0,390.8 417.0,391.6 418.0,392.4 419.0,393.1 420.0,393.8 421.0,394.4 422.0,395.0 423.0,395.5 424.0,396.0 425.0,396.4 426.0,396.8 427.0,397.2 428.0,397.6 429.0,398.0 430.0,398.4 431.0,398.7 432.0,399.0 433.0,399.2 434.0,399.3 435.0,399.5 436.0,399.7 437.0,400.0 438.0,400.4 439.0,401.0 440.0,401.7 441.0,402.3 442.0,402.9 443.0,403.3 444.0,403.6 445.0,403.8 446.0,404.0 447.0,404.0 448.0,404.0 449.0,404.1 450.0,404.3 451.0,404.5 452.0,404.8 453.0,405.0 454.0,405.2 455.0,405.3 456.0,405.4 457.0,405.5 458.0,405.6 459.0,405.7 460.0,405.9 461.0,406.0 462.0,405.9 463.0,405.8 464.0,405.6 465.0,405.5 466.0,405.5 467.0,405.5 468.0,405.5 469.0,405.6 470.0,405.6 471.0,405.5 472.0,405.3 473.0,405.2 474.0,405.0 475.0,404.8 476.0,404.6 477.0,404.4 478.0,404.2 479.0,404.0 480.0,403.8 481.0,403.5 482.0,403.3 483.0,403.2 484.0,403.0 485.0,402.8 486.0,402.6 487.0,402.4 488.0,402.2 489.0,402.1 490.0,402.0 491.0,401.8 492.0,401.7 493.0,401.4 494.0,401.1 495.0,400.7 496.0,400.2 497.0,399.7 498.0,399.0 499.0,398.4 500.0,397.6 501.0,396.8 502.0,395.9 503.0,394.9 504.0,393.9 505.0,392.9 506.0,391.8 507.0,390.7 508.0,389.6 509.0,388.4 510.0,387.1 511.0,385.7 512.0,384.2 513.0,382.7 514.0,381.1 515.0,379.7 516.0,378.5 517.0,377.5 518.0,376.8 519.0,376.5 520.0,376.6 521.0,376.9 522.0,377.5 523.0,378.2 524.0,379.0 525.0,380.0 526.0,381.0 527.0,382.1 528.0,383.1 529.0,384.1 530.0,385.0 531.0,385.8 532.0,386.4 533.0,386.7 534.0,387.0 535.0,387.3 536.0,387.6 537.0,387.9 538.0,388.1 539.0,388.2 540.0,387.9 541.0,387.4 542.0,386.6 543.0,385.7 544.0,384.9 545.0,384.2 546.0,383.5 547.0,382.8 548.0,382.0 549.0,381.0 550.0,379.8 551.0,378.6 552.0,377.4 553.0,376.3 554.0,375.2 555.0,374.2 556.0,373.3 557.0,372.4 558.0,371.6 559.0,370.7 560.0,369.7 561.0,368.7 562.0,367.8 563.0,366.8 564.0,365.9 565.0,365.2 566.0,364.8 567.0,364.7 568.0,364.7 569.0,365.0 570.0,365.4 571.0,365.9 572.0,366.4 573.0,367.0 574.0,367.7 575.0,368.4 576.0,369.2 577.0,369.8 578.0,370.4 579.0,371.0 580.0,371.5 581.0,371.9 582.0,372.3 583.0,372.4 584.0,372.3 585.0,371.8 586.0,370.9 587.0,369.7 588.0,368.3 589.0,366.9 590.0,365.6 591.0,364.4 592.0,363.3 593.0,362.3 594.0,361.3 595.0,360.2 596.0,359.1 597.0,358.1 598.0,357.1 599.0,356.3 600.0,355.7 601.0,355.3 602.0,355.5 603.0,356.2 604.0,357.5 605.0,359.1 606.0,360.9 607.0,362.8 608.0,364.6 609.0,366.3 610.0,367.8 611.0,369.4 612.0,371.2 613.0,373.0 614.0,375.0 615.0,376.9 616.0,378.7 617.0,380.4 618.0,381.9 619.0,383.2 620.0,384.4 621.0,385.6 622.0,386.9 623.0,388.0 624.0,389.1 625.0,390.2 626.0,391.1 627.0,391.9 628.0,392.7 629.0,393.4 630.0,394.2 631.0,394.9 632.0,395.5 633.0,395.9 634.0,396.2 635.0,396.4 636.0,396.6 637.0,396.8 638.0,397.1 639.0,397.5 640.0,398.1 641.0,398.7 642.0,399.3 643.0,399.7 644.0,400.1 645.0,400.3 646.0,400.4 647.0,400.5 648.0,400.7 649.0,400.9 650.0,401.2 651.0,401.5 652.0,401.7 653.0,401.9 654.0,402.0 655.0,402.1 656.0,402.1 657.0,402.1 658.0,402.2 659.0,402.2 660.0,402.2 661.0,402.3 662.0,402.3 663.0,402.2 664.0,402.2 665.0,402.1 666.0,402.0 667.0,401.9 668.0,401.7 669.0,401.4 670.0,401.0 671.0,400.6 672.0,400.2 673.0,399.9 674.0,399.8 675.0,399.8 676.0,399.9 677.0,400.1 678.0,400.1 679.0,399.9 680.0,399.6 681.0,399.2 682.0,398.8 683.0,398.5 684.0,398.3 685.0,398.1 686.0,397.9 687.0,397.5 688.0,397.1 689.0,396.5 690.0,395.9 691.0,395.3 692.0,394.6 693.0,394.0 694.0,393.5 695.0,393.0 696.0,392.6 697.0,392.3 698.0,392.0 699.0,391.6 700.0,391.2 701.0,390.7 702.0,390.1 703.0,389.4 704.0,388.7 705.0,388.0 706.0,387.3 707.0,386.7 708.0,386.0 709.0,385.5 710.0,385.2 711.0,385.1 712.0,385.1 713.0,385.3 714.0,385.5 715.0,385.9 716.0,386.4 717.0,386.8 718.0,387.2 719.0,387.6 720.0,387.9 721.0,388.3 722.0,388.8 723.0,389.4 724.0,390.2 725.0,391.0 726.0,391.8 727.0,392.5 728.0,393.1 729.0,393.7 730.0,394.4 731.0,395.1 732.0,395.9 733.0,396.6 734.0,397.3 735.0,397.9 736.0,398.4 737.0,398.8 738.0,399.3 739.0,399.9 740.0,400.5 741.0,401.3 742.0,402.2 743.0,403.1 744.0,404.0 745.0,404.8 746.0,405.5 747.0,406.0 748.0,406.3 749.0,406.5 750.0,406.6 751.0,406.8 752.0,407.0 753.0,407.3 754.0,407.6 755.0,407.9 756.0,408.1 757.0,408.2 758.0,408.3 759.0,408.3 760.0,408.3 761.0,408.3 762.0,408.4 763.0,408.4 764.0,408.5 765.0,408.6 766.0,408.6 767.0,408.6 768.0,408.5 769.0,408.5 770.0,408.6 771.0,408.7 772.0,408.9 773.0,409.0 774.0,409.0 775.0,408.9 776.0,408.8 777.0,408.7 778.0,408.6 779.0,408.7 780.0,408.8 781.0,408.9 782.0,408.9 783.0,409.0 784.0,409.0 785.0,409.2 786.0,409.5 787.0,409.8 788.0,410.1 789.0,410.3 790.0,410.3 791.0,410.4 792.0,410.3 793.0,410.3 794.0,410.3 795.0,410.3 796.0,410.2 797.0,410.1 798.0,410.0 799.0,409.8 800.0,409.7 801.0,409.7 802.0,409.8 803.0,410.0 804.0,410.2 805.0,410.3 806.0,410.3 807.0,410.2 808.0,410.1 809.0,409.9 810.0,409.8 811.0,409.8 812.0,409.8 813.0,409.9 814.0,410.0 815.0,410.1 816.0,410.2 817.0,410.4 818.0,410.5 819.0,410.5 820.0,410.5 821.0,410.4 822.0,410.3 823.0,410.2 824.0,410.2 825.0,410.2 826.0,410.2 827.0,410.1 828.0,410.0 829.0,409.8 830.0,409.7 831.0,409.6 832.0,409.6 833.0,409.8 834.0,410.0 835.0,410.3 836.0,410.5 837.0,410.6 838.0,410.6 839.0,410.6 840.0,410.5 841.0,410.3 842.0,410.2 843.0,410.2 844.0,410.2 845.0,410.2 846.0,410.2 847.0,410.2 848.0,410.2 849.0,410.2 850.0,410.2 851.0,410.2 852.0,410.1 853.0,410.0 854.0,410.0 855.0,410.0 856.0,410.0 857.0,410.1 858.0,410.1 859.0,410.1 860.0,409.9 861.0,409.6 862.0,409.4 863.0,409.2 864.0,409.1 865.0,409.2 866.0,409.4 867.0,409.6 868.0,409.9 869.0,410.1 870.0,410.3 871.0,410.5 872.0,410.7 873.0,410.8 874.0,410.9 875.0,411.0 876.0,411.0 877.0,410.9 878.0,410.8 879.0,410.6 880.0,410.5 881.0,410.4 882.0,410.3 883.0,410.3 884.0,410.3 885.0,410.3 886.0,410.2 887.0,410.0 888.0,409.7 889.0,409.5 890.0,409.3 891.0,409.2 892.0,409.3 893.0,409.5 894.0,409.7 895.0,410.0 896.0,410.2 897.0,410.3 898.0,410.5 899.0,410.6 900.0,410.7 901.0,410.8 902.0,410.8 903.0,410.8 904.0,410.7 905.0,410.6 906.0,410.6 907.0,410.5 908.0,410.5 909.0,410.4 910.0,410.3 911.0,410.2 912.0,410.1 913.0,409.9 914.0,409.8 915.0,409.7 916.0,409.7 917.0,409.6 918.0,409.6 919.0,409.7 920.0,409.8 921.0,409.9 922.0,409.9 923.0,409.9 924.0,409.9 925.0,409.9 926.0,410.0 927.0,410.1 928.0,410.2 929.0,410.2 930.0,410.2 931.0,410.1 932.0,410.0 933.0,409.8 934.0,409.7 935.0,409.7 936.0,409.6 937.0,409.6 938.0,409.6 939.0,409.7 940.0,409.9 941.0,410.1 942.0,410.2 943.0,410.3 944.0,410.4 945.0,410.4 946.0,410.4 947.0,410.4 948.0,410.5 949.0,410.5 950.0,410.6 951.0,410.6 952.0,410.4 953.0,410.3 954.0,410.1 955.0,410.0 956.0,410.0 957.0,410.0 958.0,410.1 959.0,410.2 960.0,410.3 961.0,410.3 962.0,410.3 963.0,410.3 964.0,410.3 965.0,410.3 966.0,410.3 967.0,410.3 968.0,410.2 969.0,410.1 970.0,410.0 971.0,409.9 972.0,409.8 973.0,409.8 974.0,409.8 975.0,409.8 976.0,409.9 977.0,409.9 978.0,410.0 979.0,410.2 980.0,410.3 981.0,410.4 982.0,410.5 983.0,410.4 984.0,410.3 985.0,410.2 986.0,410.2 987.0,410.1 988.0,410.1 989.0,410.2 990.0,410.2 991.0,410.4 992.0,410.5 993.0,410.6 994.0,410.7 995.0,410.6 996.0,410.6 997.0,410.4 998.0,410.3 999.0,410.3 1000.0,410.3 1001.0,410.5" stroke-width="4.0"/></g>
<g fill="none" stroke="#0f7f12" stroke-linejoin="round"><polyline points="98.0,343.1 99.0,343.1 100.0,343.1 101.0,343.1 102.0,343.2 103.0,343.3 104.0,343.5 105.0,343.6 106.0,343.6 107.0,343.6 108.0,343.6 109.0,343.4 110.0,343.3 111.0,343.2 112.0,343.2 113.0,343.3 114.0,343.5 115.0,343.7 116.0,343.9 117.0,344.1 118.0,344.1 119.0,344.1 120.0,343.9 121.0,343.8 122.0,343.6 123.0,343.5 124.0,343.4 125.0,343.4 126.0,343.5 127.0,343.6 128.0,343.6 129.0,343.7 130.0,343.8 131.0,343.9 132.0,343.9 133.0,343.8 134.0,343.7 135.0,343.6 136.0,343.4 137.0,343.4 138.0,343.3 139.0,343.2 140.0,343.2 141.0,343.2 142.0,343.3 143.0,343.3 144.0,343.3 145.0,343.2 146.0,343.1 147.0,342.8 148.0,342.5 149.0,342.3 150.0,342.2 151.0,342.3 152.0,342.4 153.0,342.7 154.0,342.9 155.0,343.1 156.0,343.2 157.0,343.2 158.0,343.1 159.0,343.0 160.0,342.8 161.0,342.7 162.0,342.6 163.0,342.6 164.0,342.7 165.0,342.8 166.0,342.8 167.0,342.9 168.0,342.9 169.0,343.0 170.0,343.0 171.0,343.1 172.0,343.1 173.0,343.1 174.0,343.0 175.0,343.0 176.0,343.0 177.0,343.1 178.0,343.1 179.0,343.1 180.0,343.1 181.0,343.0 182.0,342.9 183.0,342.9 184.0,342.9 185.0,343.0 186.0,343.1 187.0,343.2 188.0,343.3 189.0,343.3 190.0,343.2 191.0,343.1 192.0,342.9 193.0,342.6 194.0,342.4 195.0,342.3 196.0,342.2 197.0,342.1 198.0,342.1 199.0,342.2 200.0,342.3 201.0,342.4 202.0,342.5 203.0,342.6 204.0,342.7 205.0,342.7 206.0,342.7 207.0,342.7 208.0,342.9 209.0,343.0 210.0,343.1 211.0,343.2 212.0,343.2 213.0,343.2 214.0,343.3 215.0,343.3 216.0,343.2 217.0,343.1 218.0,342.9 219.0,342.7 220.0,342.6 221.0,342.5 222.0,342.4 223.0,342.3 224.0,342.3 225.0,342.2 226.0,342.1 227.0,342.0 228.0,341.9 229.0,342.0 230.0,342.3 231.0,342.7 232.0,343.1 233.0,343.4 234.0,343.6 235.0,343.6 236.0,343.4 237.0,343.1 238.0,342.8 239.0,342.6 240.0,342.4 241.0,342.4 242.0,342.4 243.0,342.4 244.0,342.4 245.0,342.3 246.0,342.2 247.0,342.1 248.0,342.0 249.0,342.0 250.0,342.0 251.0,342.0 252.0,342.0 253.0,342.0 254.0,341.9 255.0,341.7 256.0,341.6 257.0,341.4 258.0,341.3 259.0,341.3 260.0,341.3 261.0,341.5 262.0,341.8 263.0,342.1 264.0,342.4 265.0,342.5 266.0,342.5 267.0,342.5 268.0,342.4 269.0,342.3 270.0,342.3 271.0,342.4 272.0,342.4 273.0,342.5 274.0,342.5 275.0,342.4 276.0,342.2 277.0,341.9 278.0,341.6 279.0,341.2 280.0,341.0 281.0,340.8 282.0,340.7 283.0,340.8 284.0,340.9 285.0,341.0 286.0,341.1 287.0,341.1 288.0,341.1 289.0,341.0 290.0,340.9 291.0,340.8 292.0,340.7 293.0,340.7 294.0,340.7 295.0,340.8 296.0,340.9 297.0,341.0 298.0,341.1 299.0,341.1 300.0,341.0 301.0,340.9 302.0,340.8 303.0,340.7 304.0,340.7 305.0,340.7 306.0,340.7 307.0,340.7 308.0,340.6 309.0,340.6 310.0,340.6 311.0,340.5 312.0,340.5 313.0,340.4 314.0,340.3 315.0,340.2 316.0,340.2 317.0,340.1 318.0,340.1 319.0,340.1 320.0,340.1 321.0,340.1 322.0,340.2 323.0,340.2 324.0,340.3 325.0,340.3 326.0,340.4 327.0,340.3 328.0,340.3 329.0,340.3 330.0,340.4 331.0,340.5 332.0,340.5 333.0,340.6 334.0,340.6 335.0,340.5 336.0,340.3 337.0,340.1 338.0,339.9 339.0,339.8 340.0,339.6 341.0,339.5 342.0,339.5 343.0,339.5 344.0,339.7 345.0,339.8 346.0,340.0 347.0,340.0 348.0,340.0 349.0,339.8 350.0,339.6 351.0,339.3 352.0,339.0 353.0,338.7 354.0,338.6 355.0,338.5 356.0,338.4 357.0,338.3 358.0,338.1 359.0,337.8 360.0,337.6 361.0,337.3 362.0,337.1 363.0,337.0 364.0,337.1 365.0,337.2 366.0,337.2 367.0,337.2 368.0,337.1 369.0,336.8 370.0,336.6 371.0,336.3 372.0,336.0 373.0,335.9 374.0,335.8 375.0,335.7 376.0,335.6 377.0,335.6 378.0,335.5 379.0,335.4 380.0,335.2 381.0,334.8 382.0,334.1 383.0,333.2 384.0,332.2 385.0,331.0 386.0,329.7 387.0,328.5 388.0,327.2 389.0,325.8 390.0,324.3 391.0,322.5 392.0,320.4 393.0,318.2 394.0,316.1 395.0,314.2 396.0,312.6 397.0,311.1 398.0,310.0 399.0,309.3 400.0,309.2 401.0,309.8 402.0,311.0 403.0,312.5 404.0,314.3 405.0,316.1 406.0,318.1 407.0,320.1 408.0,322.1 409.0,324.0 410.0,325.7 411.0,326.9 412.0,327.7 413.0,328.2 414.0,328.7 415.0,329.0 416.0,329.4 417.0,329.8 418.0,330.0 419.0,330.3 420.0,330.5 421.0,330.7 422.0,331.0 423.0,331.2 424.0,331.4 425.0,331.5 426.0,331.6 427.0,331.7 428.0,331.9 429.0,332.0 430.0,332.2 431.0,332.5 432.0,332.8 433.0,333.1 434.0,333.5 435.0,333.8 436.0,334.2 437.0,334.4 438.0,334.6 439.0,334.8 440.0,334.8 441.0,334.9 442.0,335.0 443.0,335.1 444.0,335.2 445.0,335.4 446.0,335.6 447.0,335.9 448.0,336.2 449.0,336.5 450.0,336.8 451.0,337.1 452.0,337.2 453.0,337.3 454.0,337.3 455.0,337.4 456.0,337.4 457.0,337.5 458.0,337.6 459.0,337.6 460.0,337.8 461.0,337.8 462.0,337.9 463.0,337.9 464.0,338.0 465.0,338.0 466.0,338.1 467.0,338.1 468.0,338.0 469.0,337.9 470.0,337.8 471.0,337.6 472.0,337.4 473.0,337.1 474.0,336.9 475.0,336.6 476.0,336.5 477.0,336.5 478.0,336.6 479.0,336.7 480.0,336.8 481.0,336.7 482.0,336.5 483.0,336.2 484.0,335.9 485.0,335.8 486.0,335.8 487.0,335.9 488.0,336.0 489.0,336.0 490.0,335.9 491.0,335.7 492.0,335.4 493.0,335.1 494.0,334.7 495.0,334.4 496.0,334.0 497.0,333.7 498.0,333.3 499.0,332.9 500.0,332.6 501.0,332.2 502.0,331.9 503.0,331.5 504.0,331.1 505.0,330.6 506.0,329.8 507.0,329.0 508.0,327.8 509.0,326.5 510.0,324.9 511.0,323.2 512.0,321.5 513.0,319.8 514.0,318.0 515.0,316.2 516.0,314.4 517.0,312.9 518.0,311.9 519.0,311.5 520.0,311.6 521.0,312.3 522.0,313.3 523.0,314.5 524.0,315.7 525.0,316.9 526.0,318.1 527.0,319.3 528.0,320.5 529.0,321.6 530.0,322.5 531.0,323.1 532.0,323.5 533.0,323.7 534.0,323.7 535.0,323.5 536.0,323.3 537.0,323.0 538.0,322.7 539.0,322.3 540.0,322.1 541.0,322.0 542.0,321.8 543.0,321.7 544.0,321.5 545.0,321.3 546.0,320.9 547.0,320.2 548.0,319.1 549.0,317.6 550.0,315.8 551.0,313.8 552.0,311.7 553.0,309.6 554.0,307.8 555.0,306.2 556.0,304.8 557.0,303.4 558.0,302.1 559.0,300.8 560.0,299.7 561.0,298.7 562.0,298.1 563.0,297.7 564.0,297.5 565.0,297.4 566.0,297.4 567.0,297.5 568.0,297.6 569.0,297.6 570.0,297.8 571.0,298.0 572.0,298.3 573.0,298.6 574.0,299.1 575.0,299.9 576.0,300.8 577.0,301.9 578.0,302.9 579.0,303.8 580.0,304.5 581.0,305.2 582.0,305.8 583.0,306.4 584.0,306.9 585.0,307.4 586.0,307.6 587.0,307.6 588.0,307.1 589.0,306.2 590.0,304.9 591.0,303.3 592.0,301.7 593.0,300.1 594.0,298.3 595.0,296.4 596.0,294.3 597.0,292.1 598.0,290.0 599.0,288.2 600.0,286.7 601.0,285.7 602.0,285.3 603.0,285.9 604.0,287.4 605.0,289.5 606.0,291.9 607.0,294.3 608.0,296.8 609.0,299.5 610.0,302.3 611.0,305.3 612.0,308.3 613.0,311.1 614.0,313.6 615.0,315.8 616.0,317.6 617.0,319.4 618.0,321.1 619.0,322.7 620.0,324.2 621.0,325.5 622.0,326.5 623.0,327.3 624.0,327.9 625.0,328.3 626.0,328.5 627.0,328.8 628.0,329.0 629.0,329.2 630.0,329.4 631.0,329.7 632.0,330.0 633.0,330.3 634.0,330.6 635.0,330.8 636.0,331.0 637.0,331.1 638.0,331.2 639.0,331.4 640.0,331.6 641.0,332.0 642.0,332.3 643.0,332.6 644.0,333.0 645.0,333.2 646.0,333.4 647.0,333.5 648.0,333.6 649.0,333.6 650.0,333.6 651.0,333.6 652.0,333.7 653.0,333.7 654.0,333.9 655.0,334.1 656.0,334.3 657.0,334.4 658.0,334.6 659.0,334.6 660.0,334.6 661.0,334.6 662.0,334.6 663.0,334.5 664.0,334.4 665.0,334.3 666.0,334.1 667.0,333.9 668.0,333.8 669.0,333.6 670.0,333.5 671.0,333.4 672.0,333.3 673.0,333.3 674.0,333.3 675.0,333.4 676.0,333.5 677.0,333.6 678.0,333.6 679.0,333.6 680.0,333.4 681.0,333.1 682.0,332.6 683.0,332.1 684.0,331.6 685.0,331.0 686.0,330.3 687.0,329.5 688.0,328.6 689.0,327.8 690.0,327.0 691.0,326.3 692.0,325.6 693.0,324.9 694.0,324.3 695.0,323.7 696.0,323.1 697.0,322.5 698.0,321.9 699.0,321.3 700.0,320.6 701.0,319.8 702.0,319.0 703.0,318.2 704.0,317.4 705.0,316.8 706.0,316.1 707.0,315.5 708.0,315.0 709.0,314.4 710.0,313.9 711.0,313.4 712.0,312.9 713.0,312.6 714.0,312.6 715.0,313.0 716.0,313.8 717.0,314.8 718.0,316.0 719.0,317.1 720.0,318.1 721.0,318.9 722.0,319.7 723.0,320.6 724.0,321.5 725.0,322.6 726.0,323.6 727.0,324.5 728.0,325.4 729.0,326.2 730.0,326.9 731.0,327.6 732.0,328.2 733.0,328.8 734.0,329.4 735.0,329.9 736.0,330.4 737.0,331.0 738.0,331.7 739.0,332.5 740.0,333.2 741.0,333.8 742.0,334.4 743.0,334.9 744.0,335.3 745.0,335.6 746.0,335.9 747.0,336.2 748.0,336.5 749.0,336.8 750.0,337.0 751.0,337.3 752.0,337.6 753.0,338.0 754.0,338.5 755.0,338.9 756.0,339.3 757.0,339.7 758.0,339.9 759.0,340.1 760.0,340.3 761.0,340.5 762.0,340.6 763.0,340.8 764.0,340.9 765.0,341.0 766.0,341.1 767.0,341.1 768.0,341.1 769.0,341.1 770.0,341.2 771.0,341.2 772.0,341.1 773.0,341.2 774.0,341.2 775.0,341.3 776.0,341.5 777.0,341.6 778.0,341.8 779.0,342.0 780.0,342.0 781.0,342.0 782.0,341.9 783.0,341.8 784.0,341.8 785.0,341.8 786.0,341.9 787.0,342.0 788.0,342.1 789.0,342.1 790.0,342.2 791.0,342.2 792.0,342.2 793.0,342.3 794.0,342.4 795.0,342.4 796.0,342.4 797.0,342.3 798.0,342.2 799.0,342.1 800.0,342.0 801.0,342.0 802.0,342.2 803.0,342.3 804.0,342.6 805.0,342.8 806.0,342.9 807.0,342.9 808.0,342.9 809.0,342.7 810.0,342.6 811.0,342.5 812.0,342.4 813.0,342.4 814.0,342.5 815.0,342.5 816.0,342.5 817.0,342.6 818.0,342.7 819.0,342.7 820.0,342.8 821.0,342.8 822.0,342.9 823.0,343.0 824.0,343.0 825.0,343.0 826.0,343.0 827.0,343.0 828.0,343.0 829.0,342.9 830.0,342.9 831.0,342.9 832.0,342.8 833.0,342.9 834.0,343.0 835.0,343.0 836.0,343.1 837.0,343.1 838.0,343.1 839.0,343.0 840.0,342.9 841.0,342.9 842.0,343.0 843.0,343.1 844.0,343.2 845.0,343.3 846.0,343.3 847.0,343.2 848.0,343.2 849.0,343.3 850.0,343.3 851.0,343.4 852.0,343.5 853.0,343.4 854.0,343.3 855.0,343.0 856.0,342.8 857.0,342.6 858.0,342.5 859.0,342.4 860.0,342.3 861.0,342.3 862.0,342.2 863.0,342.2 864.0,342.2 865.0,342.2 866.0,342.3 867.0,342.5 868.0,342.7 869.0,342.9 870.0,343.0 871.0,343.2 872.0,343.4 873.0,343.5 874.0,343.6 875.0,343.6 876.0,343.5 877.0,343.4 878.0,343.3 879.0,343.2 880.0,343.0 881.0,342.7 882.0,342.5 883.0,342.2 884.0,342.2 885.0,342.2 886.0,342.4 887.0,342.7 888.0,343.0 889.0,343.3 890.0,343.5 891.0,343.5 892.0,343.5 893.0,343.4 894.0,343.2 895.0,343.1 896.0,343.0 897.0,343.0 898.0,343.0 899.0,343.0 900.0,343.0 901.0,343.0 902.0,343.0 903.0,343.0 904.0,343.0 905.0,343.0 906.0,343.0 907.0,343.1 908.0,343.2 909.0,343.3 910.0,343.5 911.0,343.6 912.0,343.6 913.0,343.6 914.0,343.6 915.0,343.6 916.0,343.5 917.0,343.5 918.0,343.4 919.0,343.3 920.0,343.2 921.0,343.0 922.0,342.8 923.0,342.7 924.0,342.6 925.0,342.5 926.0,342.4 927.0,342.3 928.0,342.3 929.0,342.3 930.0,342.4 931.0,342.6 932.0,342.7 933.0,342.8 934.0,343.0 935.0,343.1 936.0,343.2 937.0,343.4 938.0,343.5 939.0,343.5 940.0,343.5 941.0,343.5 942.0,343.3 943.0,343.1 944.0,343.0 945.0,342.9 946.0,342.9 947.0,343.0 948.0,343.1 949.0,343.2 950.0,343.2 951.0,343.3 952.0,343.3 953.0,343.2 954.0,343.2 955.0,343.2 956.0,343.3 957.0,343.4 958.0,343.5 959.0,343.5 960.0,343.5 961.0,343.5 962.0,343.4 963.0,343.2 964.0,343.0 965.0,342.9 966.0,342.7 967.0,342.7 968.0,342.8 969.0,343.0 970.0,343.2 971.0,343.4 972.0,343.6 973.0,343.6 974.0,343.6 975.0,343.5 976.0,343.4 977.0,343.2 978.0,343.0 979.0,342.8 980.0,342.7 981.0,342.6 982.0,342.6 983.0,342.8 984.0,343.1 985.0,343.4 986.0,343.7 987.0,343.8 988.0,343.9 989.0,343.9 990.0,343.8 991.0,343.8 992.0,343.7 993.0,343.7 994.0,343.7 995.0,343.6 996.0,343.3 997.0,343.1 998.0,342.9 999.0,342.9 1000.0,342.9 1001.0,343.0" stroke-opacity="0.25" stroke-width="5.4"/><polyline points="98.0,343.1 99.0,343.1 100.0,343.1 101.0,343.1 102.0,343.2 103.0,343.3 104.0,343.5 105.0,343.6 106.0,343.6 107.0,343.6 108.0,343.6 109.0,343.4 110.0,343.3 111.0,343.2 112.0,343.2 113.0,343.3 114.0,343.5 115.0,343.7 116.0,343.9 117.0,344.1 118.0,344.1 119.0,344.1 120.0,343.9 121.0,343.8 122.0,343.6 123.0,343.5 124.0,343.4 125.0,343.4 126.0,343.5 127.0,343.6 128.0,343.6 129.0,343.7 130.0,343.8 131.0,343.9 132.0,343.9 133.0,343.8 134.0,343.7 135.0,343.6 136.0,343.4 137.0,343.4 138.0,343.3 139.0,343.2 140.0,343.2 141.0,343.2 142.0,343.3 143.0,343.3 144.0,343.3 145.0,343.2 146.0,343.1 147.0,342.8 148.0,342.5 149.0,342.3 150.0,342.2 151.0,342.3 152.0,342.4 153.0,342.7 154.0,342.9 155.0,343.1 156.0,343.2 157.0,343.2 158.0,343.1 159.0,343.0 160.0,342.8 161.0,342.7 162.0,342.6 163.0,342.6 164.0,342.7 165.0,342.8 166.0,342.8 167.0,342.9 168.0,342.9 169.0,343.0 170.0,343.0 171.0,343.1 172.0,343.1 173.0,343.1 174.0,343.0 175.0,343.0 176.0,343.0 177.0,343.1 178.0,343.1 179.0,343.1 180.0,343.1 181.0,343.0 182.0,342.9 183.0,342.9 184.0,342.9 185.0,343.0 186.0,343.1 187.0,343.2 188.0,343.3 189.0,343.3 190.0,343.2 191.0,343.1 192.0,342.9 193.0,342.6 194.0,342.4 195.0,342.3 196.0,342.2 197.0,342.1 198.0,342.1 199.0,342.2 200.0,342.3 201.0,342.4 202.0,342.5 203.0,342.6 204.0,342.7 205.0,342.7 206.0,342.7 207.0,342.7 208.0,342.9 209.0,343.0 210.0,343.1 211.0,343.2 212.0,343.2 213.0,343.2 214.0,343.3 215.0,343.3 216.0,343.2 217.0,343.1 218.0,342.9 219.0,342.7 220.0,342.6 221.0,342.5 222.0,342.4 223.0,342.3 224.0,342.3 225.0,342.2 226.0,342.1 227.0,342.0 228.0,341.9 229.0,342.0 230.0,342.3 231.0,342.7 232.0,343.1 233.0,343.4 234.0,343.6 235.0,343.6 236.0,343.4 237.0,343.1 238.0,342.8 239.0,342.6 240.0,342.4 241.0,342.4 242.0,342.4 243.0,342.4 244.0,342.4 245.0,342.3 246.0,342.2 247.0,342.1 248.0,342.0 249.0,342.0 250.0,342.0 251.0,342.0 252.0,342.0 253.0,342.0 254.0,341.9 255.0,341.7 256.0,341.6 257.0,341.4 258.0,341.3 259.0,341.3 260.0,341.3 261.0,341.5 262.0,341.8 263.0,342.1 264.0,342.4 265.0,342.5 266.0,342.5 267.0,342.5 268.0,342.4 269.0,342.3 270.0,342.3 271.0,342.4 272.0,342.4 273.0,342.5 274.0,342.5 275.0,342.4 276.0,342.2 277.0,341.9 278.0,341.6 279.0,341.2 280.0,341.0 281.0,340.8 282.0,340.7 283.0,340.8 284.0,340.9 285.0,341.0 286.0,341.1 287.0,341.1 288.0,341.1 289.0,341.0 290.0,340.9 291.0,340.8 292.0,340.7 293.0,340.7 294.0,340.7 295.0,340.8 296.0,340.9 297.0,341.0 298.0,341.1 299.0,341.1 300.0,341.0 301.0,340.9 302.0,340.8 303.0,340.7 304.0,340.7 305.0,340.7 306.0,340.7 307.0,340.7 308.0,340.6 309.0,340.6 310.0,340.6 311.0,340.5 312.0,340.5 313.0,340.4 314.0,340.3 315.0,340.2 316.0,340.2 317.0,340.1 318.0,340.1 319.0,340.1 320.0,340.1 321.0,340.1 322.0,340.2 323.0,340.2 324.0,340.3 325.0,340.3 326.0,340.4 327.0,340.3 328.0,340.3 329.0,340.3 330.0,340.4 331.0,340.5 332.0,340.5 333.0,340.6 334.0,340.6 335.0,340.5 336.0,340.3 337.0,340.1 338.0,339.9 339.0,339.8 340.0,339.6 341.0,339.5 342.0,339.5 343.0,339.5 344.0,339.7 345.0,339.8 346.0,340.0 347.0,340.0 348.0,340.0 349.0,339.8 350.0,339.6 351.0,339.3 352.0,339.0 353.0,338.7 354.0,338.6 355.0,338.5 356.0,338.4 357.0,338.3 358.0,338.1 359.0,337.8 360.0,337.6 361.0,337.3 362.0,337.1 363.0,337.0 364.0,337.1 365.0,337.2 366.0,337.2 367.0,337.2 368.0,337.1 369.0,336.8 370.0,336.6 371.0,336.3 372.0,336.0 373.0,335.9 374.0,335.8 375.0,335.7 376.0,335.6 377.0,335.6 378.0,335.5 379.0,335.4 380.0,335.2 381.0,334.8 382.0,334.1 383.0,333.2 384.0,332.2 385.0,331.0 386.0,329.7 387.0,328.5 388.0,327.2 389.0,325.8 390.0,324.3 391.0,322.5 392.0,320.4 393.0,318.2 394.0,316.1 395.0,314.2 396.0,312.6 397.0,311.1 398.0,310.0 399.0,309.3 400.0,309.2 401.0,309.8 402.0,311.0 403.0,312.5 404.0,314.3 405.0,316.1 406.0,318.1 407.0,320.1 408.0,322.1 409.0,324.0 410.0,325.7 411.0,326.9 412.0,327.7 413.0,328.2 414.0,328.7 415.0,329.0 416.0,329.4 417.0,329.8 418.0,330.0 419.0,330.3 420.0,330.5 421.0,330.7 422.0,331.0 423.0,331.2 424.0,331.4 425.0,331.5 426.0,331.6 427.0,331.7 428.0,331.9 429.0,332.0 430.0,332.2 431.0,332.5 432.0,332.8 433.0,333.1 434.0,333.5 435.0,333.8 436.0,334.2 437.0,334.4 438.0,334.6 439.0,334.8 440.0,334.8 441.0,334.9 442.0,335.0 443.0,335.1 444.0,335.2 445.0,335.4 446.0,335.6 447.0,335.9 448.0,336.2 449.0,336.5 450.0,336.8 451.0,337.1 452.0,337.2 453.0,337.3 454.0,337.3 455.0,337.4 456.0,337.4 457.0,337.5 458.0,337.6 459.0,337.6 460.0,337.8 461.0,337.8 462.0,337.9 463.0,337.9 464.0,338.0 465.0,338.0 466.0,338.1 467.0,338.1 468.0,338.0 469.0,337.9 470.0,337.8 471.0,337.6 472.0,337.4 473.0,337.1 474.0,336.9 475.0,336.6 476.0,336.5 477.0,336.5 478.0,336.6 479.0,336.7 480.0,336.8 481.0,336.7 482.0,336.5 483.0,336.2 484.0,335.9 485.0,335.8 486.0,335.8 487.0,335.9 488.0,336.0 489.0,336.0 490.0,335.9 491.0,335.7 492.0,335.4 493.0,335.1 494.0,334.7 495.0,334.4 496.0,334.0 497.0,333.7 498.0,333.3 499.0,332.9 500.0,332.6 501.0,332.2 502.0,331.9 503.0,331.5 504.0,331.1 505.0,330.6 506.0,329.8 507.0,329.0 508.0,327.8 509.0,326.5 510.0,324.9 511.0,323.2 512.0,321.5 513.0,319.8 514.0,318.0 515.0,316.2 516.0,314.4 517.0,312.9 518.0,311.9 519.0,311.5 520.0,311.6 521.0,312.3 522.0,313.3 523.0,314.5 524.0,315.7 525.0,316.9 526.0,318.1 527.0,319.3 528.0,320.5 529.0,321.6 530.0,322.5 531.0,323.1 532.0,323.5 533.0,323.7 534.0,323.7 535.0,323.5 536.0,323.3 537.0,323.0 538.0,322.7 539.0,322.3 540.0,322.1 541.0,322.0 542.0,321.8 543.0,321.7 544.0,321.5 545.0,321.3 546.0,320.9 547.0,320.2 548.0,319.1 549.0,317.6 550.0,315.8 551.0,313.8 552.0,311.7 553.0,309.6 554.0,307.8 555.0,306.2 556.0,304.8 557.0,303.4 558.0,302.1 559.0,300.8 560.0,299.7 561.0,298.7 562.0,298.1 563.0,297.7 564.0,297.5 565.0,297.4 566.0,297.4 567.0,297.5 568.0,297.6 569.0,297.6 570.0,297.8 571.0,298.0 572.0,298.3 573.0,298.6 574.0,299.1 575.0,299.9 576.0,300.8 577.0,301.9 578.0,302.9 579.0,303.8 580.0,304.5 581.0,305.2 582.0,305.8 583.0,306.4 584.0,306.9 585.0,307.4 586.0,307.6 587.0,307.6 588.0,307.1 589.0,306.2 590.0,304.9 591.0,303.3 592.0,301.7 593.0,300.1 594.0,298.3 595.0,296.4 596.0,294.3 597.0,292.1 598.0,290.0 599.0,288.2 600.0,286.7 601.0,285.7 602.0,285.3 603.0,285.9 604.0,287.4 605.0,289.5 606.0,291.9 607.0,294.3 608.0,296.8 609.0,299.5 610.0,302.3 611.0,305.3 612.0,308.3 613.0,311.1 614.0,313.6 615.0,315.8 616.0,317.6 617.0,319.4 618.0,321.1 619.0,322.7 620.0,324.2 621.0,325.5 622.0,326.5 623.0,327.3 624.0,327.9 625.0,328.3 626.0,328.5 627.0,328.8 628.0,329.0 629.0,329.2 630.0,329.4 631.0,329.7 632.0,330.0 633.0,330.3 634.0,330.6 635.0,330.8 636.0,331.0 637.0,331.1 638.0,331.2 639.0,331.4 640.0,331.6 641.0,332.0 642.0,332.3 643.0,332.6 644.0,333.0 645.0,333.2 646.0,333.4 647.0,333.5 648.0,333.6 649.0,333.6 650.0,333.6 651.0,333.6 652.0,333.7 653.0,333.7 654.0,333.9 655.0,334.1 656.0,334.3 657.0,334.4 658.0,334.6 659.0,334.6 660.0,334.6 661.0,334.6 662.0,334.6 663.0,334.5 664.0,334.4 665.0,334.3 666.0,334.1 667.0,333.9 668.0,333.8 669.0,333.6 670.0,333.5 671.0,333.4 672.0,333.3 673.0,333.3 674.0,333.3 675.0,333.4 676.0,333.5 677.0,333.6 678.0,333.6 679.0,333.6 680.0,333.4 681.0,333.1 682.0,332.6 683.0,332.1 684.0,331.6 685.0,331.0 686.0,330.3 687.0,329.5 688.0,328.6 689.0,327.8 690.0,327.0 691.0,326.3 692.0,325.6 693.0,324.9 694.0,324.3 695.0,323.7 696.0,323.1 697.0,322.5 698.0,321.9 699.0,321.3 700.0,320.6 701.0,319.8 702.0,319.0 703.0,318.2 704.0,317.4 705.0,316.8 706.0,316.1 707.0,315.5 708.0,315.0 709.0,314.4 710.0,313.9 711.0,313.4 712.0,312.9 713.0,312.6 714.0,312.6 715.0,313.0 716.0,313.8 717.0,314.8 718.0,316.0 719.0,317.1 720.0,318.1 721.0,318.9 722.0,319.7 723.0,320.6 724.0,321.5 725.0,322.6 726.0,323.6 727.0,324.5 728.0,325.4 729.0,326.2 730.0,326.9 731.0,327.6 732.0,328.2 733.0,328.8 734.0,329.4 735.0,329.9 736.0,330.4 737.0,331.0 738.0,331.7 739.0,332.5 740.0,333.2 741.0,333.8 742.0,334.4 743.0,334.9 744.0,335.3 745.0,335.6 746.0,335.9 747.0,336.2 748.0,336.5 749.0,336.8 750.0,337.0 751.0,337.3 752.0,337.6 753.0,338.0 754.0,338.5 755.0,338.9 756.0,339.3 757.0,339.7 758.0,339.9 759.0,340.1 760.0,340.3 761.0,340.5 762.0,340.6 763.0,340.8 764.0,340.9 765.0,341.0 766.0,341.1 767.0,341.1 768.0,341.1 769.0,341.1 770.0,341.2 771.0,341.2 772.0,341.1 773.0,341.2 774.0,341.2 775.0,341.3 776.0,341.5 777.0,341.6 778.0,341.8 779.0,342.0 780.0,342.0 781.0,342.0 782.0,341.9 783.0,341.8 784.0,341.8 785.0,341.8 786.0,341.9 787.0,342.0 788.0,342.1 789.0,342.1 790.0,342.2 791.0,342.2 792.0,342.2 793.0,342.3 794.0,342.4 795.0,342.4 796.0,342.4 797.0,342.3 798.0,342.2 799.0,342.1 800.0,342.0 801.0,342.0 802.0,342.2 803.0,342.3 804.0,342.6 805.0,342.8 806.0,342.9 807.0,342.9 808.0,342.9 809.0,342.7 810.0,342.6 811.0,342.5 812.0,342.4 813.0,342.4 814.0,342.5 815.0,342.5 816.0,342.5 817.0,342.6 818.0,342.7 819.0,342.7 820.0,342.8 821.0,342.8 822.0,342.9 823.0,343.0 824.0,343.0 825.0,343.0 826.0,343.0 827.0,343.0 828.0,343.0 829.0,342.9 830.0,342.9 831.0,342.9 832.0,342.8 833.0,342.9 834.0,343.0 835.0,343.0 836.0,343.1 837.0,343.1 838.0,343.1 839.0,343.0 840.0,342.9 841.0,342.9 842.0,343.0 843.0,343.1 844.0,343.2 845.0,343.3 846.0,343.3 847.0,343.2 848.0,343.2 849.0,343.3 850.0,343.3 851.0,343.4 852.0,343.5 853.0,343.4 854.0,343.3 855.0,343.0 856.0,342.8 857.0,342.6 858.0,342.5 859.0,342.4 860.0,342.3 861.0,342.3 862.0,342.2 863.0,342.2 864.0,342.2 865.0,342.2 866.0,342.3 867.0,342.5 868.0,342.7 869.0,342.9 870.0,343.0 871.0,343.2 872.0,343.4 873.0,343.5 874.0,343.6 875.0,343.6 876.0,343.5 877.0,343.4 878.0,343.3 879.0,343.2 880.0,343.0 881.0,342.7 882.0,342.5 883.0,342.2 884.0,342.2 885.0,342.2 886.0,342.4 887.0,342.7 888.0,343.0 889.0,343.3 890.0,343.5 891.0,343.5 892.0,343.5 893.0,343.4 894.0,343.2 895.0,343.1 896.0,343.0 897.0,343.0 898.0,343.0 899.0,343.0 900.0,343.0 901.0,343.0 902.0,343.0 903.0,343.0 904.0,343.0 905.0,343.0 906.0,343.0 907.0,343.1 908.0,343.2 909.0,343.3 910.0,343.5 911.0,343.6 912.0,343.6 913.0,343.6 914.0,343.6 915.0,343.6 916.0,343.5 917.0,343.5 918.0,343.4 919.0,343.3 920.0,343.2 921.0,343.0 922.0,342.8 923.0,342.7 924.0,342.6 925.0,342.5 926.0,342.4 927.0,342.3 928.0,342.3 929.0,342.3 930.0,342.4 931.0,342.6 932.0,342.7 933.0,342.8 934.0,343.0 935.0,343.1 936.0,343.2 937.0,343.4 938.0,343.5 939.0,343.5 940.0,343.5 941.0,343.5 942.0,343.3 943.0,343.1 944.0,343.0 945.0,342.9 946.0,342.9 947.0,343.0 948.0,343.1 949.0,343.2 950.0,343.2 951.0,343.3 952.0,343.3 953.0,343.2 954.0,343.2 955.0,343.2 956.0,343.3 957.0,343.4 958.0,343.5 959.0,343.5 960.0,343.5 961.0,343.5 962.0,343.4 963.0,343.2 964.0,343.0 965.0,342.9 966.0,342.7 967.0,342.7 968.0,342.8 969.0,343.0 970.0,343.2 971.0,343.4 972.0,343.6 973.0,343.6 974.0,343.6 975.0,343.5 976.0,343.4 977.0,343.2 978.0,343.0 979.0,342.8 980.0,342.7 981.0,342.6 982.0,342.6 983.0,342.8 984.0,343.1 985.0,343.4 986.0,343.7 987.0,343.8 988.0,343.9 989.0,343.9 990.0,343.8 991.0,343.8 992.0,343.7 993.0,343.7 994.0,343.7 995.0,343.6 996.0,343.3 997.0,343.1 998.0,342.9 999.0,342.9 1000.0,342.9 1001.0,343.0" stroke-width="4.0"/></g>
<g fill="none" stroke="#7418ee" stroke-linejoin="round"><polyline points="98.0,279.3 99.0,279.5 100.0,279.7 101.0,280.0 102.0,280.3 103.0,280.6 104.0,280.6 105.0,280.5 106.0,280.2 107.0,279.9 108.0,279.5 109.0,279.4 110.0,279.3 111.0,279.4 112.0,279.6 113.0,279.7 114.0,279.8 115.0,279.8 116.0,279.6 117.0,279.5 118.0,279.4 119.0,279.3 120.0,279.4 121.0,279.6 122.0,279.8 123.0,280.0 124.0,280.0 125.0,279.9 126.0,279.7 127.0,279.6 128.0,279.5 129.0,279.5 130.0,279.6 131.0,279.7 132.0,279.8 133.0,279.8 134.0,279.7 135.0,279.6 136.0,279.5 137.0,279.4 138.0,279.4 139.0,279.4 140.0,279.5 141.0,279.6 142.0,279.7 143.0,279.7 144.0,279.8 145.0,279.8 146.0,279.9 147.0,279.9 148.0,280.0 149.0,280.0 150.0,280.0 151.0,279.9 152.0,279.7 153.0,279.5 154.0,279.3 155.0,279.2 156.0,279.0 157.0,279.0 158.0,279.0 159.0,279.1 160.0,279.2 161.0,279.3 162.0,279.3 163.0,279.3 164.0,279.2 165.0,279.1 166.0,279.1 167.0,279.0 168.0,279.1 169.0,279.1 170.0,279.3 171.0,279.3 172.0,279.4 173.0,279.4 174.0,279.4 175.0,279.4 176.0,279.3 177.0,279.3 178.0,279.1 179.0,279.0 180.0,278.8 181.0,278.7 182.0,278.6 183.0,278.6 184.0,278.6 185.0,278.5 186.0,278.5 187.0,278.4 188.0,278.3 189.0,278.3 190.0,278.2 191.0,278.3 192.0,278.4 193.0,278.6 194.0,278.7 195.0,278.8 196.0,278.9 197.0,279.0 198.0,279.1 199.0,279.1 200.0,279.2 201.0,279.2 202.0,279.2 203.0,279.1 204.0,278.9 205.0,278.7 206.0,278.6 207.0,278.4 208.0,278.4 209.0,278.4 210.0,278.5 211.0,278.8 212.0,279.0 213.0,279.2 214.0,279.4 215.0,279.4 216.0,279.3 217.0,279.1 218.0,278.8 219.0,278.6 220.0,278.4 221.0,278.3 222.0,278.3 223.0,278.3 224.0,278.4 225.0,278.5 226.0,278.6 227.0,278.7 228.0,278.6 229.0,278.6 230.0,278.5 231.0,278.4 232.0,278.4 233.0,278.4 234.0,278.3 235.0,278.3 236.0,278.3 237.0,278.3 238.0,278.3 239.0,278.2 240.0,278.1 241.0,278.0 242.0,277.9 243.0,277.9 244.0,277.9 245.0,277.9 246.0,277.9 247.0,277.7 248.0,277.4 249.0,277.2 250.0,277.0 251.0,277.0 252.0,277.1 253.0,277.4 254.0,277.7 255.0,278.0 256.0,278.2 257.0,278.3 258.0,278.3 259.0,278.1 260.0,278.0 261.0,277.8 262.0,277.5 263.0,277.3 264.0,277.1 265.0,277.0 266.0,276.9 267.0,276.8 268.0,276.8 269.0,277.0 270.0,277.2 271.0,277.4 272.0,277.4 273.0,277.4 274.0,277.2 275.0,277.0 276.0,276.8 277.0,276.7 278.0,276.6 279.0,276.6 280.0,276.6 281.0,276.6 282.0,276.4 283.0,276.3 284.0,276.3 285.0,276.4 286.0,276.5 287.0,276.6 288.0,276.7 289.0,276.8 290.0,276.7 291.0,276.6 292.0,276.4 293.0,276.2 294.0,276.1 295.0,276.0 296.0,275.9 297.0,275.9 298.0,276.0 299.0,276.0 300.0,276.1 301.0,276.1 302.0,276.0 303.0,275.9 304.0,275.8 305.0,275.6 306.0,275.5 307.0,275.3 308.0,275.2 309.0,275.2 310.0,275.1 311.0,275.1 312.0,275.1 313.0,275.1 314.0,275.0 315.0,274.8 316.0,274.7 317.0,274.7 318.0,274.6 319.0,274.6 320.0,274.6 321.0,274.6 322.0,274.6 323.0,274.6 324.0,274.6 325.0,274.8 326.0,275.0 327.0,275.1 328.0,275.2 329.0,275.2 330.0,275.1 331.0,274.9 332.0,274.8 333.0,274.6 334.0,274.5 335.0,274.5 336.0,274.6 337.0,274.7 338.0,274.9 339.0,275.1 340.0,275.1 341.0,275.1 342.0,274.9 343.0,274.6 344.0,274.3 345.0,274.1 346.0,274.1 347.0,274.2 348.0,274.3 349.0,274.4 350.0,274.4 351.0,274.3 352.0,274.1 353.0,273.9 354.0,273.7 355.0,273.7 356.0,273.6 357.0,273.6 358.0,273.5 359.0,273.2 360.0,272.9 361.0,272.6 362.0,272.2 363.0,271.9 364.0,271.6 365.0,271.4 366.0,271.4 367.0,271.4 368.0,271.6 369.0,271.7 370.0,271.9 371.0,272.0 372.0,272.0 373.0,271.9 374.0,271.7 375.0,271.5 376.0,271.4 377.0,271.5 378.0,271.6 379.0,271.8 380.0,271.8 381.0,271.7 382.0,271.4 383.0,270.9 384.0,270.5 385.0,270.1 386.0,269.9 387.0,269.7 388.0,269.5 389.0,269.0 390.0,268.2 391.0,267.2 392.0,266.0 393.0,264.6 394.0,263.3 395.0,262.0 396.0,260.9 397.0,260.0 398.0,259.2 399.0,258.4 400.0,257.5 401.0,256.8 402.0,256.1 403.0,255.4 404.0,255.0 405.0,254.7 406.0,254.9 407.0,255.3 408.0,255.9 409.0,256.6 410.0,257.3 411.0,258.1 412.0,258.8 413.0,259.6 414.0,260.5 415.0,261.4 416.0,262.5 417.0,263.7 418.0,264.8 419.0,265.7 420.0,266.4 421.0,267.0 422.0,267.4 423.0,267.8 424.0,268.1 425.0,268.4 426.0,268.7 427.0,269.0 428.0,269.3 429.0,269.5 430.0,269.6 431.0,269.7 432.0,269.6 433.0,269.4 434.0,269.3 435.0,269.3 436.0,269.3 437.0,269.4 438.0,269.6 439.0,269.9 440.0,270.3 441.0,270.6 442.0,270.9 443.0,271.2 444.0,271.5 445.0,271.9 446.0,272.3 447.0,272.7 448.0,273.1 449.0,273.5 450.0,273.7 451.0,273.9 452.0,273.9 453.0,273.8 454.0,273.7 455.0,273.6 456.0,273.5 457.0,273.4 458.0,273.4 459.0,273.5 460.0,273.5 461.0,273.6 462.0,273.8 463.0,273.9 464.0,274.1 465.0,274.3 466.0,274.4 467.0,274.4 468.0,274.3 469.0,274.2 470.0,274.1 471.0,274.1 472.0,274.1 473.0,274.0 474.0,274.0 475.0,273.9 476.0,273.7 477.0,273.5 478.0,273.3 479.0,273.2 480.0,273.3 481.0,273.6 482.0,273.9 483.0,274.2 484.0,274.5 485.0,274.6 486.0,274.6 487.0,274.3 488.0,273.9 489.0,273.4 490.0,273.0 491.0,272.7 492.0,272.6 493.0,272.7 494.0,272.9 495.0,273.2 496.0,273.2 497.0,273.0 498.0,272.5 499.0,271.8 500.0,271.0 501.0,270.2 502.0,269.5 503.0,268.9 504.0,268.2 505.0,267.5 506.0,266.8 507.0,265.9 508.0,265.0 509.0,264.1 510.0,263.2 511.0,262.3 512.0,261.4 513.0,260.6 514.0,259.7 515.0,258.9 516.0,258.2 517.0,257.5 518.0,257.0 519.0,256.5 520.0,256.0 521.0,255.7 522.0,255.4 523.0,255.1 524.0,255.0 525.0,254.9 526.0,255.0 527.0,255.2 528.0,255.5 529.0,255.9 530.0,256.4 531.0,256.9 532.0,257.4 533.0,257.7 534.0,258.0 535.0,258.3 536.0,258.6 537.0,258.9 538.0,259.2 539.0,259.4 540.0,259.5 541.0,259.2 542.0,258.6 543.0,257.7 544.0,256.6 545.0,255.4 546.0,254.2 547.0,253.0 548.0,251.7 549.0,250.3 550.0,248.8 551.0,247.1 552.0,245.3 553.0,243.5 554.0,241.9 555.0,240.4 556.0,239.0 557.0,237.8 558.0,236.5 559.0,235.1 560.0,233.8 561.0,232.4 562.0,231.2 563.0,230.1 564.0,229.1 565.0,228.1 566.0,227.1 567.0,226.0 568.0,224.9 569.0,224.0 570.0,223.2 571.0,222.7 572.0,222.5 573.0,222.4 574.0,222.5 575.0,222.8 576.0,223.3 577.0,224.1 578.0,225.2 579.0,226.4 580.0,227.8 581.0,229.3 582.0,230.8 583.0,232.4 584.0,234.0 585.0,235.8 586.0,237.5 587.0,239.1 588.0,240.4 589.0,241.2 590.0,241.5 591.0,241.5 592.0,241.4 593.0,241.1 594.0,240.9 595.0,240.7 596.0,240.5 597.0,240.1 598.0,239.7 599.0,239.3 600.0,238.9 601.0,238.6 602.0,238.4 603.0,238.4 604.0,238.3 605.0,238.3 606.0,238.2 607.0,238.4 608.0,239.0 609.0,240.1 610.0,241.6 611.0,243.4 612.0,245.2 613.0,247.0 614.0,248.9 615.0,250.8 616.0,252.7 617.0,254.6 618.0,256.2 619.0,257.6 620.0,258.7 621.0,259.5 622.0,260.1 623.0,260.6 624.0,261.1 625.0,261.5 626.0,261.9 627.0,262.3 628.0,262.7 629.0,263.1 630.0,263.4 631.0,263.7 632.0,263.8 633.0,263.9 634.0,264.1 635.0,264.3 636.0,264.5 637.0,264.7 638.0,265.0 639.0,265.2 640.0,265.4 641.0,265.6 642.0,265.7 643.0,265.8 644.0,265.9 645.0,266.1 646.0,266.4 647.0,266.9 648.0,267.3 649.0,267.7 650.0,268.0 651.0,268.2 652.0,268.4 653.0,268.5 654.0,268.6 655.0,268.8 656.0,269.0 657.0,269.1 658.0,269.2 659.0,269.1 660.0,268.9 661.0,268.6 662.0,268.4 663.0,268.2 664.0,268.1 665.0,268.1 666.0,268.0 667.0,267.9 668.0,267.7 669.0,267.4 670.0,267.1 671.0,266.8 672.0,266.6 673.0,266.3 674.0,266.1 675.0,266.0 676.0,265.8 677.0,265.5 678.0,265.2 679.0,264.9 680.0,264.6 681.0,264.2 682.0,263.7 683.0,263.2 684.0,262.6 685.0,262.1 686.0,261.5 687.0,261.0 688.0,260.7 689.0,260.4 690.0,260.2 691.0,260.1 692.0,259.7 693.0,259.3 694.0,258.7 695.0,258.0 696.0,257.4 697.0,256.7 698.0,256.0 699.0,255.4 700.0,254.6 701.0,253.7 702.0,252.7 703.0,251.4 704.0,250.1 705.0,248.8 706.0,247.6 707.0,246.5 708.0,245.5 709.0,244.5 710.0,243.7 711.0,243.1 712.0,242.8 713.0,242.6 714.0,242.6 715.0,242.6 716.0,242.6 717.0,242.6 718.0,242.5 719.0,242.4 720.0,242.4 721.0,242.4 722.0,242.5 723.0,242.6 724.0,242.8 725.0,243.1 726.0,243.6 727.0,244.5 728.0,245.8 729.0,247.3 730.0,248.9 731.0,250.5 732.0,252.0 733.0,253.4 734.0,254.9 735.0,256.5 736.0,258.1 737.0,259.7 738.0,261.2 739.0,262.5 740.0,263.6 741.0,264.5 742.0,265.3 743.0,266.1 744.0,266.9 745.0,267.7 746.0,268.5 747.0,269.2 748.0,269.8 749.0,270.4 750.0,270.9 751.0,271.3 752.0,271.8 753.0,272.2 754.0,272.6 755.0,273.0 756.0,273.4 757.0,273.7 758.0,274.0 759.0,274.2 760.0,274.4 761.0,274.5 762.0,274.7 763.0,275.0 764.0,275.2 765.0,275.4 766.0,275.7 767.0,275.9 768.0,276.0 769.0,276.0 770.0,276.0 771.0,275.9 772.0,275.9 773.0,275.9 774.0,275.9 775.0,275.9 776.0,276.0 777.0,276.2 778.0,276.4 779.0,276.6 780.0,276.8 781.0,277.1 782.0,277.4 783.0,277.6 784.0,277.8 785.0,277.9 786.0,277.9 787.0,277.8 788.0,277.7 789.0,277.7 790.0,277.8 791.0,278.0 792.0,278.3 793.0,278.6 794.0,278.8 795.0,279.0 796.0,279.1 797.0,279.2 798.0,279.3 799.0,279.4 800.0,279.3 801.0,279.2 802.0,279.0 803.0,278.7 804.0,278.6 805.0,278.6 806.0,278.7 807.0,279.0 808.0,279.2 809.0,279.3 810.0,279.3 811.0,279.2 812.0,279.0 813.0,278.8 814.0,278.8 815.0,278.9 816.0,279.1 817.0,279.2 818.0,279.4 819.0,279.6 820.0,279.8 821.0,280.0 822.0,280.1 823.0,280.1 824.0,280.0 825.0,279.7 826.0,279.5 827.0,279.2 828.0,279.1 829.0,279.1 830.0,279.1 831.0,279.1 832.0,279.1 833.0,279.2 834.0,279.3 835.0,279.3 836.0,279.3 837.0,279.2 838.0,279.3 839.0,279.3 840.0,279.4 841.0,279.4 842.0,279.5 843.0,279.7 844.0,279.7 845.0,279.7 846.0,279.7 847.0,279.7 848.0,279.8 849.0,279.9 850.0,280.1 851.0,280.2 852.0,280.3 853.0,280.2 854.0,280.1 855.0,279.9 856.0,279.7 857.0,279.6 858.0,279.4 859.0,279.4 860.0,279.4 861.0,279.6 862.0,279.9 863.0,280.2 864.0,280.4 865.0,280.5 866.0,280.4 867.0,280.4 868.0,280.3 869.0,280.2 870.0,280.2 871.0,280.4 872.0,280.5 873.0,280.7 874.0,280.7 875.0,280.6 876.0,280.4 877.0,280.3 878.0,280.2 879.0,280.2 880.0,280.3 881.0,280.4 882.0,280.5 883.0,280.5 884.0,280.4 885.0,280.3 886.0,280.2 887.0,280.2 888.0,280.2 889.0,280.3 890.0,280.4 891.0,280.6 892.0,280.7 893.0,280.7 894.0,280.8 895.0,280.8 896.0,280.8 897.0,280.9 898.0,280.9 899.0,280.8 900.0,280.7 901.0,280.5 902.0,280.3 903.0,280.2 904.0,280.2 905.0,280.2 906.0,280.4 907.0,280.6 908.0,280.9 909.0,281.1 910.0,281.4 911.0,281.5 912.0,281.6 913.0,281.5 914.0,281.5 915.0,281.3 916.0,281.0 917.0,280.8 918.0,280.5 919.0,280.3 920.0,280.2 921.0,280.1 922.0,280.1 923.0,280.3 924.0,280.5 925.0,280.7 926.0,280.9 927.0,281.0 928.0,281.0 929.0,280.9 930.0,280.9 931.0,280.9 932.0,281.0 933.0,281.1 934.0,281.2 935.0,281.3 936.0,281.5 937.0,281.6 938.0,281.7 939.0,281.8 940.0,281.8 941.0,281.6 942.0,281.4 943.0,281.1 944.0,280.8 945.0,280.6 946.0,280.5 947.0,280.4 948.0,280.5 949.0,280.6 950.0,280.7 951.0,280.9 952.0,280.9 953.0,281.0 954.0,280.9 955.0,280.8 956.0,280.7 957.0,280.6 958.0,280.6 959.0,280.6 960.0,280.7 961.0,280.9 962.0,281.1 963.0,281.3 964.0,281.4 965.0,281.5 966.0,281.5 967.0,281.4 968.0,281.2 969.0,281.1 970.0,281.0 971.0,281.0 972.0,281.1 973.0,281.2 974.0,281.3 975.0,281.3 976.0,281.1 977.0,280.9 978.0,280.6 979.0,280.3 980.0,280.0 981.0,279.9 982.0,280.0 983.0,280.1 984.0,280.3 985.0,280.6 986.0,280.9 987.0,281.3 988.0,281.5 989.0,281.7 990.0,281.8 991.0,281.8 992.0,281.8 993.0,281.7 994.0,281.5 995.0,281.4 996.0,281.2 997.0,281.1 998.0,281.0 999.0,281.0 1000.0,281.1 1001.0,281.1" stroke-opacity="0.25" stroke-width="5.4"/><polyline points="98.0,279.3 99.0,279.5 100.0,279.7 101.0,280.0 102.0,280.3 103.0,280.6 104.0,280.6 105.0,280.5 106.0,280.2 107.0,279.9 108.0,279.5 109.0,279.4 110.0,279.3 111.0,279.4 112.0,279.6 113.0,279.7 114.0,279.8 115.0,279.8 116.0,279.6 117.0,279.5 118.0,279.4 119.0,279.3 120.0,279.4 121.0,279.6 122.0,279.8 123.0,280.0 124.0,280.0 125.0,279.9 126.0,279.7 127.0,279.6 128.0,279.5 129.0,279.5 130.0,279.6 131.0,279.7 132.0,279.8 133.0,279.8 134.0,279.7 135.0,279.6 136.0,279.5 137.0,279.4 138.0,279.4 139.0,279.4 140.0,279.5 141.0,279.6 142.0,279.7 143.0,279.7 144.0,279.8 145.0,279.8 146.0,279.9 147.0,279.9 148.0,280.0 149.0,280.0 150.0,280.0 151.0,279.9 152.0,279.7 153.0,279.5 154.0,279.3 155.0,279.2 156.0,279.0 157.0,279.0 158.0,279.0 159.0,279.1 160.0,279.2 161.0,279.3 162.0,279.3 163.0,279.3 164.0,279.2 165.0,279.1 166.0,279.1 167.0,279.0 168.0,279.1 169.0,279.1 170.0,279.3 171.0,279.3 172.0,279.4 173.0,279.4 174.0,279.4 175.0,279.4 176.0,279.3 177.0,279.3 178.0,279.1 179.0,279.0 180.0,278.8 181.0,278.7 182.0,278.6 183.0,278.6 184.0,278.6 185.0,278.5 186.0,278.5 187.0,278.4 188.0,278.3 189.0,278.3 190.0,278.2 191.0,278.3 192.0,278.4 193.0,278.6 194.0,278.7 195.0,278.8 196.0,278.9 197.0,279.0 198.0,279.1 199.0,279.1 200.0,279.2 201.0,279.2 202.0,279.2 203.0,279.1 204.0,278.9 205.0,278.7 206.0,278.6 207.0,278.4 208.0,278.4 209.0,278.4 210.0,278.5 211.0,278.8 212.0,279.0 213.0,279.2 214.0,279.4 215.0,279.4 216.0,279.3 217.0,279.1 218.0,278.8 219.0,278.6 220.0,278.4 221.0,278.3 222.0,278.3 223.0,278.3 224.0,278.4 225.0,278.5 226.0,278.6 227.0,278.7 228.0,278.6 229.0,278.6 230.0,278.5 231.0,278.4 232.0,278.4 233.0,278.4 234.0,278.3 235.0,278.3 236.0,278.3 237.0,278.3 238.0,278.3 239.0,278.2 240.0,278.1 241.0,278.0 242.0,277.9 243.0,277.9 244.0,277.9 245.0,277.9 246.0,277.9 247.0,277.7 248.0,277.4 249.0,277.2 250.0,277.0 251.0,277.0 252.0,277.1 253.0,277.4 254.0,277.7 255.0,278.0 256.0,278.2 257.0,278.3 258.0,278.3 259.0,278.1 260.0,278.0 261.0,277.8 262.0,277.5 263.0,277.3 264.0,277.1 265.0,277.0 266.0,276.9 267.0,276.8 268.0,276.8 269.0,277.0 270.0,277.2 271.0,277.4 272.0,277.4 273.0,277.4 274.0,277.2 275.0,277.0 276.0,276.8 277.0,276.7 278.0,276.6 279.0,276.6 280.0,276.6 281.0,276.6 282.0,276.4 283.0,276.3 284.0,276.3 285.0,276.4 286.0,276.5 287.0,276.6 288.0,276.7 289.0,276.8 290.0,276.7 291.0,276.6 292.0,276.4 293.0,276.2 294.0,276.1 295.0,276.0 296.0,275.9 297.0,275.9 298.0,276.0 299.0,276.0 300.0,276.1 301.0,276.1 302.0,276.0 303.0,275.9 304.0,275.8 305.0,275.6 306.0,275.5 307.0,275.3 308.0,275.2 309.0,275.2 310.0,275.1 311.0,275.1 312.0,275.1 313.0,275.1 314.0,275.0 315.0,274.8 316.0,274.7 317.0,274.7 318.0,274.6 319.0,274.6 320.0,274.6 321.0,274.6 322.0,274.6 323.0,274.6 324.0,274.6 325.0,274.8 326.0,275.0 327.0,275.1 328.0,275.2 329.0,275.2 330.0,275.1 331.0,274.9 332.0,274.8 333.0,274.6 334.0,274.5 335.0,274.5 336.0,274.6 337.0,274.7 338.0,274.9 339.0,275.1 340.0,275.1 341.0,275.1 342.0,274.9 343.0,274.6 344.0,274.3 345.0,274.1 346.0,274.1 347.0,274.2 348.0,274.3 349.0,274.4 350.0,274.4 351.0,274.3 352.0,274.1 353.0,273.9 354.0,273.7 355.0,273.7 356.0,273.6 357.0,273.6 358.0,273.5 359.0,273.2 360.0,272.9 361.0,272.6 362.0,272.2 363.0,271.9 364.0,271.6 365.0,271.4 366.0,271.4 367.0,271.4 368.0,271.6 369.0,271.7 370.0,271.9 371.0,272.0 372.0,272.0 373.0,271.9 374.0,271.7 375.0,271.5 376.0,271.4 377.0,271.5 378.0,271.6 379.0,271.8 380.0,271.8 381.0,271.7 382.0,271.4 383.0,270.9 384.0,270.5 385.0,270.1 386.0,269.9 387.0,269.7 388.0,269.5 389.0,269.0 390.0,268.2 391.0,267.2 392.0,266.0 393.0,264.6 394.0,263.3 395.0,262.0 396.0,260.9 397.0,260.0 398.0,259.2 399.0,258.4 400.0,257.5 401.0,256.8 402.0,256.1 403.0,255.4 404.0,255.0 405.0,254.7 406.0,254.9 407.0,255.3 408.0,255.9 409.0,256.6 410.0,257.3 411.0,258.1 412.0,258.8 413.0,259.6 414.0,260.5 415.0,261.4 416.0,262.5 417.0,263.7 418.0,264.8 419.0,265.7 420.0,266.4 421.0,267.0 422.0,267.4 423.0,267.8 424.0,268.1 425.0,268.4 426.0,268.7 427.0,269.0 428.0,269.3 429.0,269.5 430.0,269.6 431.0,269.7 432.0,269.6 433.0,269.4 434.0,269.3 435.0,269.3 436.0,269.3 437.0,269.4 438.0,269.6 439.0,269.9 440.0,270.3 441.0,270.6 442.0,270.9 443.0,271.2 444.0,271.5 445.0,271.9 446.0,272.3 447.0,272.7 448.0,273.1 449.0,273.5 450.0,273.7 451.0,273.9 452.0,273.9 453.0,273.8 454.0,273.7 455.0,273.6 456.0,273.5 457.0,273.4 458.0,273.4 459.0,273.5 460.0,273.5 461.0,273.6 462.0,273.8 463.0,273.9 464.0,274.1 465.0,274.3 466.0,274.4 467.0,274.4 468.0,274.3 469.0,274.2 470.0,274.1 471.0,274.1 472.0,274.1 473.0,274.0 474.0,274.0 475.0,273.9 476.0,273.7 477.0,273.5 478.0,273.3 479.0,273.2 480.0,273.3 481.0,273.6 482.0,273.9 483.0,274.2 484.0,274.5 485.0,274.6 486.0,274.6 487.0,274.3 488.0,273.9 489.0,273.4 490.0,273.0 491.0,272.7 492.0,272.6 493.0,272.7 494.0,272.9 495.0,273.2 496.0,273.2 497.0,273.0 498.0,272.5 499.0,271.8 500.0,271.0 501.0,270.2 502.0,269.5 503.0,268.9 504.0,268.2 505.0,267.5 506.0,266.8 507.0,265.9 508.0,265.0 509.0,264.1 510.0,263.2 511.0,262.3 512.0,261.4 513.0,260.6 514.0,259.7 515.0,258.9 516.0,258.2 517.0,257.5 518.0,257.0 519.0,256.5 520.0,256.0 521.0,255.7 522.0,255.4 523.0,255.1 524.0,255.0 525.0,254.9 526.0,255.0 527.0,255.2 528.0,255.5 529.0,255.9 530.0,256.4 531.0,256.9 532.0,257.4 533.0,257.7 534.0,258.0 535.0,258.3 536.0,258.6 537.0,258.9 538.0,259.2 539.0,259.4 540.0,259.5 541.0,259.2 542.0,258.6 543.0,257.7 544.0,256.6 545.0,255.4 546.0,254.2 547.0,253.0 548.0,251.7 549.0,250.3 550.0,248.8 551.0,247.1 552.0,245.3 553.0,243.5 554.0,241.9 555.0,240.4 556.0,239.0 557.0,237.8 558.0,236.5 559.0,235.1 560.0,233.8 561.0,232.4 562.0,231.2 563.0,230.1 564.0,229.1 565.0,228.1 566.0,227.1 567.0,226.0 568.0,224.9 569.0,224.0 570.0,223.2 571.0,222.7 572.0,222.5 573.0,222.4 574.0,222.5 575.0,222.8 576.0,223.3 577.0,224.1 578.0,225.2 579.0,226.4 580.0,227.8 581.0,229.3 582.0,230.8 583.0,232.4 584.0,234.0 585.0,235.8 586.0,237.5 587.0,239.1 588.0,240.4 589.0,241.2 590.0,241.5 591.0,241.5 592.0,241.4 593.0,241.1 594.0,240.9 595.0,240.7 596.0,240.5 597.0,240.1 598.0,239.7 599.0,239.3 600.0,238.9 601.0,238.6 602.0,238.4 603.0,238.4 604.0,238.3 605.0,238.3 606.0,238.2 607.0,238.4 608.0,239.0 609.0,240.1 610.0,241.6 611.0,243.4 612.0,245.2 613.0,247.0 614.0,248.9 615.0,250.8 616.0,252.7 617.0,254.6 618.0,256.2 619.0,257.6 620.0,258.7 621.0,259.5 622.0,260.1 623.0,260.6 624.0,261.1 625.0,261.5 626.0,261.9 627.0,262.3 628.0,262.7 629.0,263.1 630.0,263.4 631.0,263.7 632.0,263.8 633.0,263.9 634.0,264.1 635.0,264.3 636.0,264.5 637.0,264.7 638.0,265.0 639.0,265.2 640.0,265.4 641.0,265.6 642.0,265.7 643.0,265.8 644.0,265.9 645.0,266.1 646.0,266.4 647.0,266.9 648.0,267.3 649.0,267.7 650.0,268.0 651.0,268.2 652.0,268.4 653.0,268.5 654.0,268.6 655.0,268.8 656.0,269.0 657.0,269.1 658.0,269.2 659.0,269.1 660.0,268.9 661.0,268.6 662.0,268.4 663.0,268.2 664.0,268.1 665.0,268.1 666.0,268.0 667.0,267.9 668.0,267.7 669.0,267.4 670.0,267.1 671.0,266.8 672.0,266.6 673.0,266.3 674.0,266.1 675.0,266.0 676.0,265.8 677.0,265.5 678.0,265.2 679.0,264.9 680.0,264.6 681.0,264.2 682.0,263.7 683.0,263.2 684.0,262.6 685.0,262.1 686.0,261.5 687.0,261.0 688.0,260.7 689.0,260.4 690.0,260.2 691.0,260.1 692.0,259.7 693.0,259.3 694.0,258.7 695.0,258.0 696.0,257.4 697.0,256.7 698.0,256.0 699.0,255.4 700.0,254.6 701.0,253.7 702.0,252.7 703.0,251.4 704.0,250.1 705.0,248.8 706.0,247.6 707.0,246.5 708.0,245.5 709.0,244.5 710.0,243.7 711.0,243.1 712.0,242.8 713.0,242.6 714.0,242.6 715.0,242.6 716.0,242.6 717.0,242.6 718.0,242.5 719.0,242.4 720.0,242.4 721.0,242.4 722.0,242.5 723.0,242.6 724.0,242.8 725.0,243.1 726.0,243.6 727.0,244.5 728.0,245.8 729.0,247.3 730.0,248.9 731.0,250.5 732.0,252.0 733.0,253.4 734.0,254.9 735.0,256.5 736.0,258.1 737.0,259.7 738.0,261.2 739.0,262.5 740.0,263.6 741.0,264.5 742.0,265.3 743.0,266.1 744.0,266.9 745.0,267.7 746.0,268.5 747.0,269.2 748.0,269.8 749.0,270.4 750.0,270.9 751.0,271.3 752.0,271.8 753.0,272.2 754.0,272.6 755.0,273.0 756.0,273.4 757.0,273.7 758.0,274.0 759.0,274.2 760.0,274.4 761.0,274.5 762.0,274.7 763.0,275.0 764.0,275.2 765.0,275.4 766.0,275.7 767.0,275.9 768.0,276.0 769.0,276.0 770.0,276.0 771.0,275.9 772.0,275.9 773.0,275.9 774.0,275.9 775.0,275.9 776.0,276.0 777.0,276.2 778.0,276.4 779.0,276.6 780.0,276.8 781.0,277.1 782.0,277.4 783.0,277.6 784.0,277.8 785.0,277.9 786.0,277.9 787.0,277.8 788.0,277.7 789.0,277.7 790.0,277.8 791.0,278.0 792.0,278.3 793.0,278.6 794.0,278.8 795.0,279.0 796.0,279.1 797.0,279.2 798.0,279.3 799.0,279.4 800.0,279.3 801.0,279.2 802.0,279.0 803.0,278.7 804.0,278.6 805.0,278.6 806.0,278.7 807.0,279.0 808.0,279.2 809.0,279.3 810.0,279.3 811.0,279.2 812.0,279.0 813.0,278.8 814.0,278.8 815.0,278.9 816.0,279.1 817.0,279.2 818.0,279.4 819.0,279.6 820.0,279.8 821.0,280.0 822.0,280.1 823.0,280.1 824.0,280.0 825.0,279.7 826.0,279.5 827.0,279.2 828.0,279.1 829.0,279.1 830.0,279.1 831.0,279.1 832.0,279.1 833.0,279.2 834.0,279.3 835.0,279.3 836.0,279.3 837.0,279.2 838.0,279.3 839.0,279.3 840.0,279.4 841.0,279.4 842.0,279.5 843.0,279.7 844.0,279.7 845.0,279.7 846.0,279.7 847.0,279.7 848.0,279.8 849.0,279.9 850.0,280.1 851.0,280.2 852.0,280.3 853.0,280.2 854.0,280.1 855.0,279.9 856.0,279.7 857.0,279.6 858.0,279.4 859.0,279.4 860.0,279.4 861.0,279.6 862.0,279.9 863.0,280.2 864.0,280.4 865.0,280.5 866.0,280.4 867.0,280.4 868.0,280.3 869.0,280.2 870.0,280.2 871.0,280.4 872.0,280.5 873.0,280.7 874.0,280.7 875.0,280.6 876.0,280.4 877.0,280.3 878.0,280.2 879.0,280.2 880.0,280.3 881.0,280.4 882.0,280.5 883.0,280.5 884.0,280.4 885.0,280.3 886.0,280.2 887.0,280.2 888.0,280.2 889.0,280.3 890.0,280.4 891.0,280.6 892.0,280.7 893.0,280.7 894.0,280.8 895.0,280.8 896.0,280.8 897.0,280.9 898.0,280.9 899.0,280.8 900.0,280.7 901.0,280.5 902.0,280.3 903.0,280.2 904.0,280.2 905.0,280.2 906.0,280.4 907.0,280.6 908.0,280.9 909.0,281.1 910.0,281.4 911.0,281.5 912.0,281.6 913.0,281.5 914.0,281.5 915.0,281.3 916.0,281.0 917.0,280.8 918.0,280.5 919.0,280.3 920.0,280.2 921.0,280.1 922.0,280.1 923.0,280.3 924.0,280.5 925.0,280.7 926.0,280.9 927.0,281.0 928.0,281.0 929.0,280.9 930.0,280.9 931.0,280.9 932.0,281.0 933.0,281.1 934.0,281.2 935.0,281.3 936.0,281.5 937.0,281.6 938.0,281.7 939.0,281.8 940.0,281.8 941.0,281.6 942.0,281.4 943.0,281.1 944.0,280.8 945.0,280.6 946.0,280.5 947.0,280.4 948.0,280.5 949.0,280.6 950.0,280.7 951.0,280.9 952.0,280.9 953.0,281.0 954.0,280.9 955.0,280.8 956.0,280.7 957.0,280.6 958.0,280.6 959.0,280.6 960.0,280.7 961.0,280.9 962.0,281.1 963.0,281.3 964.0,281.4 965.0,281.5 966.0,281.5 967.0,281.4 968.0,281.2 969.0,281.1 970.0,281.0 971.0,281.0 972.0,281.1 973.0,281.2 974.0,281.3 975.0,281.3 976.0,281.1 977.0,280.9 978.0,280.6 979.0,280.3 980.0,280.0 981.0,279.9 982.0,280.0 983.0,280.1 984.0,280.3 985.0,280.6 986.0,280.9 987.0,281.3 988.0,281.5 989.0,281.7 990.0,281.8 991.0,281.8 992.0,281.8 993.0,281.7 994.0,281.5 995.0,281.4 996.0,281.2 997.0,281.1 998.0,281.0 999.0,281.0 1000.0,281.1 1001.0,281.1" stroke-width="4.0"/></g>
<g fill="none" stroke="#000000" stroke-linejoin="round"><polyline points="98.0,218.2 99.0,218.2 100.0,218.2 101.0,218.2 102.0,218.2 103.0,218.2 104.0,218.3 105.0,218.3 106.0,218.4 107.0,218.4 108.0,218.5 109.0,218.5 110.0,218.6 111.0,218.6 112.0,218.6 113.0,218.5 114.0,218.3 115.0,218.1 116.0,217.9 117.0,217.8 118.0,217.9 119.0,217.9 120.0,217.9 121.0,217.7 122.0,217.5 123.0,217.3 124.0,217.1 125.0,217.0 126.0,217.0 127.0,217.2 128.0,217.3 129.0,217.4 130.0,217.4 131.0,217.4 132.0,217.4 133.0,217.4 134.0,217.4 135.0,217.3 136.0,217.3 137.0,217.4 138.0,217.4 139.0,217.5 140.0,217.6 141.0,217.8 142.0,217.9 143.0,217.9 144.0,217.8 145.0,217.7 146.0,217.6 147.0,217.5 148.0,217.4 149.0,217.5 150.0,217.6 151.0,217.7 152.0,217.7 153.0,217.7 154.0,217.7 155.0,217.6 156.0,217.6 157.0,217.6 158.0,217.7 159.0,217.9 160.0,218.1 161.0,218.1 162.0,218.1 163.0,218.0 164.0,217.9 165.0,217.9 166.0,217.9 167.0,218.1 168.0,218.2 169.0,218.3 170.0,218.3 171.0,218.2 172.0,217.9 173.0,217.7 174.0,217.6 175.0,217.6 176.0,217.7 177.0,218.0 178.0,218.3 179.0,218.5 180.0,218.5 181.0,218.3 182.0,217.9 183.0,217.4 184.0,216.9 185.0,216.4 186.0,216.2 187.0,216.1 188.0,216.3 189.0,216.6 190.0,217.0 191.0,217.3 192.0,217.5 193.0,217.6 194.0,217.5 195.0,217.4 196.0,217.2 197.0,217.1 198.0,217.1 199.0,217.2 200.0,217.3 201.0,217.3 202.0,217.4 203.0,217.4 204.0,217.3 205.0,217.3 206.0,217.1 207.0,217.0 208.0,217.0 209.0,217.0 210.0,217.1 211.0,217.3 212.0,217.4 213.0,217.5 214.0,217.5 215.0,217.5 216.0,217.5 217.0,217.4 218.0,217.2 219.0,217.1 220.0,217.1 221.0,217.0 222.0,217.0 223.0,216.9 224.0,216.9 225.0,217.0 226.0,217.1 227.0,217.2 228.0,217.3 229.0,217.4 230.0,217.4 231.0,217.5 232.0,217.5 233.0,217.5 234.0,217.6 235.0,217.6 236.0,217.6 237.0,217.5 238.0,217.4 239.0,217.3 240.0,217.1 241.0,217.1 242.0,217.1 243.0,217.1 244.0,217.0 245.0,217.0 246.0,216.9 247.0,216.8 248.0,216.7 249.0,216.7 250.0,216.7 251.0,216.6 252.0,216.5 253.0,216.4 254.0,216.3 255.0,216.2 256.0,216.2 257.0,216.3 258.0,216.5 259.0,216.7 260.0,216.9 261.0,217.0 262.0,216.9 263.0,216.7 264.0,216.5 265.0,216.3 266.0,216.2 267.0,216.3 268.0,216.4 269.0,216.5 270.0,216.5 271.0,216.6 272.0,216.7 273.0,216.9 274.0,217.2 275.0,217.5 276.0,217.8 277.0,217.9 278.0,217.9 279.0,217.8 280.0,217.6 281.0,217.4 282.0,217.3 283.0,217.2 284.0,217.1 285.0,217.1 286.0,217.0 287.0,216.9 288.0,216.9 289.0,216.9 290.0,216.9 291.0,216.8 292.0,216.8 293.0,216.7 294.0,216.5 295.0,216.3 296.0,216.0 297.0,215.7 298.0,215.4 299.0,215.1 300.0,214.9 301.0,214.7 302.0,214.6 303.0,214.6 304.0,214.6 305.0,214.5 306.0,214.2 307.0,213.7 308.0,213.1 309.0,212.4 310.0,211.8 311.0,211.3 312.0,210.9 313.0,210.6 314.0,210.3 315.0,210.1 316.0,209.9 317.0,209.6 318.0,209.5 319.0,209.4 320.0,209.4 321.0,209.3 322.0,209.2 323.0,209.0 324.0,208.9 325.0,208.7 326.0,208.7 327.0,208.7 328.0,208.8 329.0,208.9 330.0,208.9 331.0,208.8 332.0,208.7 333.0,208.6 334.0,208.5 335.0,208.4 336.0,208.5 337.0,208.6 338.0,208.8 339.0,208.9 340.0,209.1 341.0,209.3 342.0,209.4 343.0,209.5 344.0,209.5 345.0,209.5 346.0,209.5 347.0,209.4 348.0,209.4 349.0,209.4 350.0,209.4 351.0,209.6 352.0,209.9 353.0,210.2 354.0,210.5 355.0,210.8 356.0,211.1 357.0,211.3 358.0,211.5 359.0,211.5 360.0,211.5 361.0,211.5 362.0,211.6 363.0,211.8 364.0,212.2 365.0,212.7 366.0,213.1 367.0,213.3 368.0,213.3 369.0,213.1 370.0,212.8 371.0,212.5 372.0,212.3 373.0,212.2 374.0,212.3 375.0,212.3 376.0,212.3 377.0,212.1 378.0,212.0 379.0,211.8 380.0,211.5 381.0,211.2 382.0,210.9 383.0,210.8 384.0,210.8 385.0,211.1 386.0,211.4 387.0,211.7 388.0,211.6 389.0,211.0 390.0,209.9 391.0,208.2 392.0,205.9 393.0,203.2 394.0,200.3 395.0,197.6 396.0,195.2 397.0,193.0 398.0,191.3 399.0,190.4 400.0,190.8 401.0,192.3 402.0,194.5 403.0,196.9 404.0,199.3 405.0,201.8 406.0,204.1 407.0,206.2 408.0,207.9 409.0,209.4 410.0,210.5 411.0,211.1 412.0,211.2 413.0,211.1 414.0,210.9 415.0,210.6 416.0,210.2 417.0,209.8 418.0,209.3 419.0,208.9 420.0,208.8 421.0,208.7 422.0,208.7 423.0,208.6 424.0,208.5 425.0,208.3 426.0,208.1 427.0,207.7 428.0,207.4 429.0,207.1 430.0,206.9 431.0,206.8 432.0,206.8 433.0,206.9 434.0,207.3 435.0,207.9 436.0,208.6 437.0,209.5 438.0,210.3 439.0,211.2 440.0,211.9 441.0,212.7 442.0,213.3 443.0,213.9 444.0,214.4 445.0,214.9 446.0,215.4 447.0,215.8 448.0,216.2 449.0,216.4 450.0,216.4 451.0,216.4 452.0,216.2 453.0,216.0 454.0,215.9 455.0,215.7 456.0,215.7 457.0,215.7 458.0,215.8 459.0,216.0 460.0,216.3 461.0,216.6 462.0,216.8 463.0,217.0 464.0,216.9 465.0,216.7 466.0,216.5 467.0,216.2 468.0,216.1 469.0,216.1 470.0,216.3 471.0,216.5 472.0,216.8 473.0,217.0 474.0,217.1 475.0,217.1 476.0,217.1 477.0,217.0 478.0,216.8 479.0,216.7 480.0,216.6 481.0,216.4 482.0,216.2 483.0,215.9 484.0,215.6 485.0,215.3 486.0,215.0 487.0,214.8 488.0,214.5 489.0,214.2 490.0,214.0 491.0,213.7 492.0,213.5 493.0,213.3 494.0,213.2 495.0,213.2 496.0,213.2 497.0,213.3 498.0,213.5 499.0,213.5 500.0,213.4 501.0,213.1 502.0,212.7 503.0,212.1 504.0,211.2 505.0,210.2 506.0,209.1 507.0,208.0 508.0,206.9 509.0,205.8 510.0,204.7 511.0,203.5 512.0,202.3 513.0,200.8 514.0,199.3 515.0,197.9 516.0,196.6 517.0,195.7 518.0,195.1 519.0,194.8 520.0,194.9 521.0,195.2 522.0,195.9 523.0,196.7 524.0,197.6 525.0,198.6 526.0,199.5 527.0,200.3 528.0,201.1 529.0,201.8 530.0,202.5 531.0,203.3 532.0,204.1 533.0,205.0 534.0,205.7 535.0,206.2 536.0,206.4 537.0,206.2 538.0,205.7 539.0,205.1 540.0,204.3 541.0,203.6 542.0,202.9 543.0,202.1 544.0,201.3 545.0,200.3 546.0,199.2 547.0,197.9 548.0,196.3 549.0,194.6 550.0,192.6 551.0,190.0 552.0,186.9 553.0,183.0 554.0,178.4 555.0,173.4 556.0,168.2 557.0,162.8 558.0,157.4 559.0,151.6 560.0,145.5 561.0,139.0 562.0,132.5 563.0,126.3 564.0,120.4 565.0,115.0 566.0,110.5 567.0,107.7 568.0,107.8 569.0,111.0 570.0,115.9 571.0,121.4 572.0,127.0 573.0,132.5 574.0,137.9 575.0,143.2 576.0,148.3 577.0,153.2 578.0,157.9 579.0,162.4 580.0,166.8 581.0,171.0 582.0,174.8 583.0,178.2 584.0,181.3 585.0,184.1 586.0,186.5 587.0,188.4 588.0,189.6 589.0,190.0 590.0,189.7 591.0,188.9 592.0,187.8 593.0,186.4 594.0,184.8 595.0,183.1 596.0,181.1 597.0,178.9 598.0,176.6 599.0,174.3 600.0,172.3 601.0,170.7 602.0,169.8 603.0,169.8 604.0,171.1 605.0,173.5 606.0,176.5 607.0,179.8 608.0,182.9 609.0,185.6 610.0,188.0 611.0,190.3 612.0,192.5 613.0,194.7 614.0,197.0 615.0,199.3 616.0,201.3 617.0,203.1 618.0,204.6 619.0,205.8 620.0,206.7 621.0,207.4 622.0,207.9 623.0,208.4 624.0,208.9 625.0,209.4 626.0,210.0 627.0,210.6 628.0,211.3 629.0,211.8 630.0,212.2 631.0,212.5 632.0,212.7 633.0,212.8 634.0,212.8 635.0,212.7 636.0,212.4 637.0,212.0 638.0,211.6 639.0,211.4 640.0,211.3 641.0,211.3 642.0,211.5 643.0,211.7 644.0,212.0 645.0,212.2 646.0,212.4 647.0,212.4 648.0,212.2 649.0,211.9 650.0,211.7 651.0,211.5 652.0,211.5 653.0,211.7 654.0,212.1 655.0,212.5 656.0,212.7 657.0,212.8 658.0,212.6 659.0,212.4 660.0,212.1 661.0,211.8 662.0,211.6 663.0,211.3 664.0,211.1 665.0,210.8 666.0,210.6 667.0,210.3 668.0,210.1 669.0,209.8 670.0,209.6 671.0,209.2 672.0,208.8 673.0,208.5 674.0,208.3 675.0,208.1 676.0,208.0 677.0,207.8 678.0,207.5 679.0,207.2 680.0,206.6 681.0,206.0 682.0,205.3 683.0,204.5 684.0,203.7 685.0,202.7 686.0,201.6 687.0,200.5 688.0,199.5 689.0,198.5 690.0,197.5 691.0,196.5 692.0,195.3 693.0,193.8 694.0,192.1 695.0,190.0 696.0,187.6 697.0,184.9 698.0,181.9 699.0,178.7 700.0,175.3 701.0,171.9 702.0,168.3 703.0,164.6 704.0,160.9 705.0,157.2 706.0,153.5 707.0,149.8 708.0,145.9 709.0,142.0 710.0,137.7 711.0,133.4 712.0,129.1 713.0,125.8 714.0,124.8 715.0,126.5 716.0,130.0 717.0,134.2 718.0,138.7 719.0,143.2 720.0,147.5 721.0,151.7 722.0,155.7 723.0,159.6 724.0,163.3 725.0,166.8 726.0,170.2 727.0,173.7 728.0,177.3 729.0,181.1 730.0,185.0 731.0,188.9 732.0,192.6 733.0,196.0 734.0,198.8 735.0,200.8 736.0,202.1 737.0,202.8 738.0,203.3 739.0,203.8 740.0,204.4 741.0,205.2 742.0,206.0 743.0,206.7 744.0,207.2 745.0,207.7 746.0,208.1 747.0,208.6 748.0,209.2 749.0,210.0 750.0,210.9 751.0,211.9 752.0,212.9 753.0,213.9 754.0,214.7 755.0,215.3 756.0,215.5 757.0,215.5 758.0,215.5 759.0,215.4 760.0,215.4 761.0,215.4 762.0,215.4 763.0,215.5 764.0,215.6 765.0,215.8 766.0,216.0 767.0,216.1 768.0,216.3 769.0,216.3 770.0,216.2 771.0,216.1 772.0,216.0 773.0,216.0 774.0,216.0 775.0,216.2 776.0,216.3 777.0,216.4 778.0,216.5 779.0,216.5 780.0,216.6 781.0,216.8 782.0,217.0 783.0,217.2 784.0,217.3 785.0,217.3 786.0,217.2 787.0,217.1 788.0,217.1 789.0,217.1 790.0,217.2 791.0,217.4 792.0,217.5 793.0,217.5 794.0,217.3 795.0,217.1 796.0,216.8 797.0,216.5 798.0,216.4 799.0,216.3 800.0,216.1 801.0,216.0 802.0,215.8 803.0,215.6 804.0,215.4 805.0,215.3 806.0,215.3 807.0,215.4 808.0,215.6 809.0,215.8 810.0,216.1 811.0,216.4 812.0,216.8 813.0,217.3 814.0,217.8 815.0,218.2 816.0,218.4 817.0,218.5 818.0,218.4 819.0,218.2 820.0,217.9 821.0,217.5 822.0,217.3 823.0,217.1 824.0,217.0 825.0,217.0 826.0,217.1 827.0,217.2 828.0,217.3 829.0,217.4 830.0,217.5 831.0,217.5 832.0,217.4 833.0,217.4 834.0,217.4 835.0,217.4 836.0,217.4 837.0,217.4 838.0,217.3 839.0,217.2 840.0,217.0 841.0,216.8 842.0,216.6 843.0,216.7 844.0,216.9 845.0,217.2 846.0,217.5 847.0,217.8 848.0,218.0 849.0,218.0 850.0,218.0 851.0,217.9 852.0,217.8 853.0,217.7 854.0,217.6 855.0,217.5 856.0,217.4 857.0,217.3 858.0,217.2 859.0,217.1 860.0,217.2 861.0,217.2 862.0,217.4 863.0,217.4 864.0,217.5 865.0,217.5 866.0,217.4 867.0,217.4 868.0,217.3 869.0,217.2 870.0,217.1 871.0,217.0 872.0,216.9 873.0,216.9 874.0,217.0 875.0,217.1 876.0,217.3 877.0,217.4 878.0,217.5 879.0,217.4 880.0,217.3 881.0,217.1 882.0,217.0 883.0,217.0 884.0,217.1 885.0,217.4 886.0,217.6 887.0,217.9 888.0,218.1 889.0,218.3 890.0,218.4 891.0,218.5 892.0,218.4 893.0,218.3 894.0,218.0 895.0,217.8 896.0,217.5 897.0,217.4 898.0,217.3 899.0,217.4 900.0,217.6 901.0,217.7 902.0,217.7 903.0,217.7 904.0,217.6 905.0,217.7 906.0,217.7 907.0,217.8 908.0,217.9 909.0,217.9 910.0,218.0 911.0,218.0 912.0,218.1 913.0,218.3 914.0,218.4 915.0,218.5 916.0,218.6 917.0,218.5 918.0,218.4 919.0,218.2 920.0,218.1 921.0,218.0 922.0,218.0 923.0,218.0 924.0,217.9 925.0,217.9 926.0,217.8 927.0,217.6 928.0,217.4 929.0,217.3 930.0,217.4 931.0,217.5 932.0,217.6 933.0,217.7 934.0,217.8 935.0,217.9 936.0,217.9 937.0,218.0 938.0,218.1 939.0,218.2 940.0,218.4 941.0,218.6 942.0,218.7 943.0,218.8 944.0,218.8 945.0,218.8 946.0,218.6 947.0,218.3 948.0,218.0 949.0,217.7 950.0,217.5 951.0,217.4 952.0,217.5 953.0,217.6 954.0,217.9 955.0,218.1 956.0,218.3 957.0,218.3 958.0,218.2 959.0,218.1 960.0,218.0 961.0,218.0 962.0,218.0 963.0,218.1 964.0,218.1 965.0,218.1 966.0,218.0 967.0,217.9 968.0,217.9 969.0,217.8 970.0,217.8 971.0,217.8 972.0,218.0 973.0,218.3 974.0,218.6 975.0,218.9 976.0,219.1 977.0,219.2 978.0,219.2 979.0,219.0 980.0,218.8 981.0,218.6 982.0,218.6 983.0,218.5 984.0,218.5 985.0,218.5 986.0,218.4 987.0,218.3 988.0,218.2 989.0,218.3 990.0,218.4 991.0,218.5 992.0,218.6 993.0,218.6 994.0,218.5 995.0,218.4 996.0,218.3 997.0,218.1 998.0,217.9 999.0,217.8 1000.0,217.6 1001.0,217.4" stroke-opacity="0.25" stroke-width="5.4"/><polyline points="98.0,218.2 99.0,218.2 100.0,218.2 101.0,218.2 102.0,218.2 103.0,218.2 104.0,218.3 105.0,218.3 106.0,218.4 107.0,218.4 108.0,218.5 109.0,218.5 110.0,218.6 111.0,218.6 112.0,218.6 113.0,218.5 114.0,218.3 115.0,218.1 116.0,217.9 117.0,217.8 118.0,217.9 119.0,217.9 120.0,217.9 121.0,217.7 122.0,217.5 123.0,217.3 124.0,217.1 125.0,217.0 126.0,217.0 127.0,217.2 128.0,217.3 129.0,217.4 130.0,217.4 131.0,217.4 132.0,217.4 133.0,217.4 134.0,217.4 135.0,217.3 136.0,217.3 137.0,217.4 138.0,217.4 139.0,217.5 140.0,217.6 141.0,217.8 142.0,217.9 143.0,217.9 144.0,217.8 145.0,217.7 146.0,217.6 147.0,217.5 148.0,217.4 149.0,217.5 150.0,217.6 151.0,217.7 152.0,217.7 153.0,217.7 154.0,217.7 155.0,217.6 156.0,217.6 157.0,217.6 158.0,217.7 159.0,217.9 160.0,218.1 161.0,218.1 162.0,218.1 163.0,218.0 164.0,217.9 165.0,217.9 166.0,217.9 167.0,218.1 168.0,218.2 169.0,218.3 170.0,218.3 171.0,218.2 172.0,217.9 173.0,217.7 174.0,217.6 175.0,217.6 176.0,217.7 177.0,218.0 178.0,218.3 179.0,218.5 180.0,218.5 181.0,218.3 182.0,217.9 183.0,217.4 184.0,216.9 185.0,216.4 186.0,216.2 187.0,216.1 188.0,216.3 189.0,216.6 190.0,217.0 191.0,217.3 192.0,217.5 193.0,217.6 194.0,217.5 195.0,217.4 196.0,217.2 197.0,217.1 198.0,217.1 199.0,217.2 200.0,217.3 201.0,217.3 202.0,217.4 203.0,217.4 204.0,217.3 205.0,217.3 206.0,217.1 207.0,217.0 208.0,217.0 209.0,217.0 210.0,217.1 211.0,217.3 212.0,217.4 213.0,217.5 214.0,217.5 215.0,217.5 216.0,217.5 217.0,217.4 218.0,217.2 219.0,217.1 220.0,217.1 221.0,217.0 222.0,217.0 223.0,216.9 224.0,216.9 225.0,217.0 226.0,217.1 227.0,217.2 228.0,217.3 229.0,217.4 230.0,217.4 231.0,217.5 232.0,217.5 233.0,217.5 234.0,217.6 235.0,217.6 236.0,217.6 237.0,217.5 238.0,217.4 239.0,217.3 240.0,217.1 241.0,217.1 242.0,217.1 243.0,217.1 244.0,217.0 245.0,217.0 246.0,216.9 247.0,216.8 248.0,216.7 249.0,216.7 250.0,216.7 251.0,216.6 252.0,216.5 253.0,216.4 254.0,216.3 255.0,216.2 256.0,216.2 257.0,216.3 258.0,216.5 259.0,216.7 260.0,216.9 261.0,217.0 262.0,216.9 263.0,216.7 264.0,216.5 265.0,216.3 266.0,216.2 267.0,216.3 268.0,216.4 269.0,216.5 270.0,216.5 271.0,216.6 272.0,216.7 273.0,216.9 274.0,217.2 275.0,217.5 276.0,217.8 277.0,217.9 278.0,217.9 279.0,217.8 280.0,217.6 281.0,217.4 282.0,217.3 283.0,217.2 284.0,217.1 285.0,217.1 286.0,217.0 287.0,216.9 288.0,216.9 289.0,216.9 290.0,216.9 291.0,216.8 292.0,216.8 293.0,216.7 294.0,216.5 295.0,216.3 296.0,216.0 297.0,215.7 298.0,215.4 299.0,215.1 300.0,214.9 301.0,214.7 302.0,214.6 303.0,214.6 304.0,214.6 305.0,214.5 306.0,214.2 307.0,213.7 308.0,213.1 309.0,212.4 310.0,211.8 311.0,211.3 312.0,210.9 313.0,210.6 314.0,210.3 315.0,210.1 316.0,209.9 317.0,209.6 318.0,209.5 319.0,209.4 320.0,209.4 321.0,209.3 322.0,209.2 323.0,209.0 324.0,208.9 325.0,208.7 326.0,208.7 327.0,208.7 328.0,208.8 329.0,208.9 330.0,208.9 331.0,208.8 332.0,208.7 333.0,208.6 334.0,208.5 335.0,208.4 336.0,208.5 337.0,208.6 338.0,208.8 339.0,208.9 340.0,209.1 341.0,209.3 342.0,209.4 343.0,209.5 344.0,209.5 345.0,209.5 346.0,209.5 347.0,209.4 348.0,209.4 349.0,209.4 350.0,209.4 351.0,209.6 352.0,209.9 353.0,210.2 354.0,210.5 355.0,210.8 356.0,211.1 357.0,211.3 358.0,211.5 359.0,211.5 360.0,211.5 361.0,211.5 362.0,211.6 363.0,211.8 364.0,212.2 365.0,212.7 366.0,213.1 367.0,213.3 368.0,213.3 369.0,213.1 370.0,212.8 371.0,212.5 372.0,212.3 373.0,212.2 374.0,212.3 375.0,212.3 376.0,212.3 377.0,212.1 378.0,212.0 379.0,211.8 380.0,211.5 381.0,211.2 382.0,210.9 383.0,210.8 384.0,210.8 385.0,211.1 386.0,211.4 387.0,211.7 388.0,211.6 389.0,211.0 390.0,209.9 391.0,208.2 392.0,205.9 393.0,203.2 394.0,200.3 395.0,197.6 396.0,195.2 397.0,193.0 398.0,191.3 399.0,190.4 400.0,190.8 401.0,192.3 402.0,194.5 403.0,196.9 404.0,199.3 405.0,201.8 406.0,204.1 407.0,206.2 408.0,207.9 409.0,209.4 410.0,210.5 411.0,211.1 412.0,211.2 413.0,211.1 414.0,210.9 415.0,210.6 416.0,210.2 417.0,209.8 418.0,209.3 419.0,208.9 420.0,208.8 421.0,208.7 422.0,208.7 423.0,208.6 424.0,208.5 425.0,208.3 426.0,208.1 427.0,207.7 428.0,207.4 429.0,207.1 430.0,206.9 431.0,206.8 432.0,206.8 433.0,206.9 434.0,207.3 435.0,207.9 436.0,208.6 437.0,209.5 438.0,210.3 439.0,211.2 440.0,211.9 441.0,212.7 442.0,213.3 443.0,213.9 444.0,214.4 445.0,214.9 446.0,215.4 447.0,215.8 448.0,216.2 449.0,216.4 450.0,216.4 451.0,216.4 452.0,216.2 453.0,216.0 454.0,215.9 455.0,215.7 456.0,215.7 457.0,215.7 458.0,215.8 459.0,216.0 460.0,216.3 461.0,216.6 462.0,216.8 463.0,217.0 464.0,216.9 465.0,216.7 466.0,216.5 467.0,216.2 468.0,216.1 469.0,216.1 470.0,216.3 471.0,216.5 472.0,216.8 473.0,217.0 474.0,217.1 475.0,217.1 476.0,217.1 477.0,217.0 478.0,216.8 479.0,216.7 480.0,216.6 481.0,216.4 482.0,216.2 483.0,215.9 484.0,215.6 485.0,215.3 486.0,215.0 487.0,214.8 488.0,214.5 489.0,214.2 490.0,214.0 491.0,213.7 492.0,213.5 493.0,213.3 494.0,213.2 495.0,213.2 496.0,213.2 497.0,213.3 498.0,213.5 499.0,213.5 500.0,213.4 501.0,213.1 502.0,212.7 503.0,212.1 504.0,211.2 505.0,210.2 506.0,209.1 507.0,208.0 508.0,206.9 509.0,205.8 510.0,204.7 511.0,203.5 512.0,202.3 513.0,200.8 514.0,199.3 515.0,197.9 516.0,196.6 517.0,195.7 518.0,195.1 519.0,194.8 520.0,194.9 521.0,195.2 522.0,195.9 523.0,196.7 524.0,197.6 525.0,198.6 526.0,199.5 527.0,200.3 528.0,201.1 529.0,201.8 530.0,202.5 531.0,203.3 532.0,204.1 533.0,205.0 534.0,205.7 535.0,206.2 536.0,206.4 537.0,206.2 538.0,205.7 539.0,205.1 540.0,204.3 541.0,203.6 542.0,202.9 543.0,202.1 544.0,201.3 545.0,200.3 546.0,199.2 547.0,197.9 548.0,196.3 549.0,194.6 550.0,192.6 551.0,190.0 552.0,186.9 553.0,183.0 554.0,178.4 555.0,173.4 556.0,168.2 557.0,162.8 558.0,157.4 559.0,151.6 560.0,145.5 561.0,139.0 562.0,132.5 563.0,126.3 564.0,120.4 565.0,115.0 566.0,110.5 567.0,107.7 568.0,107.8 569.0,111.0 570.0,115.9 571.0,121.4 572.0,127.0 573.0,132.5 574.0,137.9 575.0,143.2 576.0,148.3 577.0,153.2 578.0,157.9 579.0,162.4 580.0,166.8 581.0,171.0 582.0,174.8 583.0,178.2 584.0,181.3 585.0,184.1 586.0,186.5 587.0,188.4 588.0,189.6 589.0,190.0 590.0,189.7 591.0,188.9 592.0,187.8 593.0,186.4 594.0,184.8 595.0,183.1 596.0,181.1 597.0,178.9 598.0,176.6 599.0,174.3 600.0,172.3 601.0,170.7 602.0,169.8 603.0,169.8 604.0,171.1 605.0,173.5 606.0,176.5 607.0,179.8 608.0,182.9 609.0,185.6 610.0,188.0 611.0,190.3 612.0,192.5 613.0,194.7 614.0,197.0 615.0,199.3 616.0,201.3 617.0,203.1 618.0,204.6 619.0,205.8 620.0,206.7 621.0,207.4 622.0,207.9 623.0,208.4 624.0,208.9 625.0,209.4 626.0,210.0 627.0,210.6 628.0,211.3 629.0,211.8 630.0,212.2 631.0,212.5 632.0,212.7 633.0,212.8 634.0,212.8 635.0,212.7 636.0,212.4 637.0,212.0 638.0,211.6 639.0,211.4 640.0,211.3 641.0,211.3 642.0,211.5 643.0,211.7 644.0,212.0 645.0,212.2 646.0,212.4 647.0,212.4 648.0,212.2 649.0,211.9 650.0,211.7 651.0,211.5 652.0,211.5 653.0,211.7 654.0,212.1 655.0,212.5 656.0,212.7 657.0,212.8 658.0,212.6 659.0,212.4 660.0,212.1 661.0,211.8 662.0,211.6 663.0,211.3 664.0,211.1 665.0,210.8 666.0,210.6 667.0,210.3 668.0,210.1 669.0,209.8 670.0,209.6 671.0,209.2 672.0,208.8 673.0,208.5 674.0,208.3 675.0,208.1 676.0,208.0 677.0,207.8 678.0,207.5 679.0,207.2 680.0,206.6 681.0,206.0 682.0,205.3 683.0,204.5 684.0,203.7 685.0,202.7 686.0,201.6 687.0,200.5 688.0,199.5 689.0,198.5 690.0,197.5 691.0,196.5 692.0,195.3 693.0,193.8 694.0,192.1 695.0,190.0 696.0,187.6 697.0,184.9 698.0,181.9 699.0,178.7 700.0,175.3 701.0,171.9 702.0,168.3 703.0,164.6 704.0,160.9 705.0,157.2 706.0,153.5 707.0,149.8 708.0,145.9 709.0,142.0 710.0,137.7 711.0,133.4 712.0,129.1 713.0,125.8 714.0,124.8 715.0,126.5 716.0,130.0 717.0,134.2 718.0,138.7 719.0,143.2 720.0,147.5 721.0,151.7 722.0,155.7 723.0,159.6 724.0,163.3 725.0,166.8 726.0,170.2 727.0,173.7 728.0,177.3 729.0,181.1 730.0,185.0 731.0,188.9 732.0,192.6 733.0,196.0 734.0,198.8 735.0,200.8 736.0,202.1 737.0,202.8 738.0,203.3 739.0,203.8 740.0,204.4 741.0,205.2 742.0,206.0 743.0,206.7 744.0,207.2 745.0,207.7 746.0,208.1 747.0,208.6 748.0,209.2 749.0,210.0 750.0,210.9 751.0,211.9 752.0,212.9 753.0,213.9 754.0,214.7 755.0,215.3 756.0,215.5 757.0,215.5 758.0,215.5 759.0,215.4 760.0,215.4 761.0,215.4 762.0,215.4 763.0,215.5 764.0,215.6 765.0,215.8 766.0,216.0 767.0,216.1 768.0,216.3 769.0,216.3 770.0,216.2 771.0,216.1 772.0,216.0 773.0,216.0 774.0,216.0 775.0,216.2 776.0,216.3 777.0,216.4 778.0,216.5 779.0,216.5 780.0,216.6 781.0,216.8 782.0,217.0 783.0,217.2 784.0,217.3 785.0,217.3 786.0,217.2 787.0,217.1 788.0,217.1 789.0,217.1 790.0,217.2 791.0,217.4 792.0,217.5 793.0,217.5 794.0,217.3 795.0,217.1 796.0,216.8 797.0,216.5 798.0,216.4 799.0,216.3 800.0,216.1 801.0,216.0 802.0,215.8 803.0,215.6 804.0,215.4 805.0,215.3 806.0,215.3 807.0,215.4 808.0,215.6 809.0,215.8 810.0,216.1 811.0,216.4 812.0,216.8 813.0,217.3 814.0,217.8 815.0,218.2 816.0,218.4 817.0,218.5 818.0,218.4 819.0,218.2 820.0,217.9 821.0,217.5 822.0,217.3 823.0,217.1 824.0,217.0 825.0,217.0 826.0,217.1 827.0,217.2 828.0,217.3 829.0,217.4 830.0,217.5 831.0,217.5 832.0,217.4 833.0,217.4 834.0,217.4 835.0,217.4 836.0,217.4 837.0,217.4 838.0,217.3 839.0,217.2 840.0,217.0 841.0,216.8 842.0,216.6 843.0,216.7 844.0,216.9 845.0,217.2 846.0,217.5 847.0,217.8 848.0,218.0 849.0,218.0 850.0,218.0 851.0,217.9 852.0,217.8 853.0,217.7 854.0,217.6 855.0,217.5 856.0,217.4 857.0,217.3 858.0,217.2 859.0,217.1 860.0,217.2 861.0,217.2 862.0,217.4 863.0,217.4 864.0,217.5 865.0,217.5 866.0,217.4 867.0,217.4 868.0,217.3 869.0,217.2 870.0,217.1 871.0,217.0 872.0,216.9 873.0,216.9 874.0,217.0 875.0,217.1 876.0,217.3 877.0,217.4 878.0,217.5 879.0,217.4 880.0,217.3 881.0,217.1 882.0,217.0 883.0,217.0 884.0,217.1 885.0,217.4 886.0,217.6 887.0,217.9 888.0,218.1 889.0,218.3 890.0,218.4 891.0,218.5 892.0,218.4 893.0,218.3 894.0,218.0 895.0,217.8 896.0,217.5 897.0,217.4 898.0,217.3 899.0,217.4 900.0,217.6 901.0,217.7 902.0,217.7 903.0,217.7 904.0,217.6 905.0,217.7 906.0,217.7 907.0,217.8 908.0,217.9 909.0,217.9 910.0,218.0 911.0,218.0 912.0,218.1 913.0,218.3 914.0,218.4 915.0,218.5 916.0,218.6 917.0,218.5 918.0,218.4 919.0,218.2 920.0,218.1 921.0,218.0 922.0,218.0 923.0,218.0 924.0,217.9 925.0,217.9 926.0,217.8 927.0,217.6 928.0,217.4 929.0,217.3 930.0,217.4 931.0,217.5 932.0,217.6 933.0,217.7 934.0,217.8 935.0,217.9 936.0,217.9 937.0,218.0 938.0,218.1 939.0,218.2 940.0,218.4 941.0,218.6 942.0,218.7 943.0,218.8 944.0,218.8 945.0,218.8 946.0,218.6 947.0,218.3 948.0,218.0 949.0,217.7 950.0,217.5 951.0,217.4 952.0,217.5 953.0,217.6 954.0,217.9 955.0,218.1 956.0,218.3 957.0,218.3 958.0,218.2 959.0,218.1 960.0,218.0 961.0,218.0 962.0,218.0 963.0,218.1 964.0,218.1 965.0,218.1 966.0,218.0 967.0,217.9 968.0,217.9 969.0,217.8 970.0,217.8 971.0,217.8 972.0,218.0 973.0,218.3 974.0,218.6 975.0,218.9 976.0,219.1 977.0,219.2 978.0,219.2 979.0,219.0 980.0,218.8 981.0,218.6 982.0,218.6 983.0,218.5 984.0,218.5 985.0,218.5 986.0,218.4 987.0,218.3 988.0,218.2 989.0,218.3 990.0,218.4 991.0,218.5 992.0,218.6 993.0,218.6 994.0,218.5 995.0,218.4 996.0,218.3 997.0,218.1 998.0,217.9 999.0,217.8 1000.0,217.6 1001.0,217.4" stroke-width="4.0"/></g>
<line x1="567.5" y1="566.5" x2="567.5" y2="90" stroke="#860c0c" stroke-opacity="0.25" stroke-width="4.0"/><line x1="567.5" y1="566.5" x2="567.5" y2="90" stroke="#860c0c" stroke-width="2.6"/>
<polygon points="567.5,76.8 562.2,94.5 572.8,94.5" fill="#860c0c" stroke="#860c0c" stroke-opacity="0.25" stroke-width="1.4" stroke-linejoin="round"/>
<line x1="713.9" y1="632" x2="713.9" y2="90" stroke="#860c0c" stroke-opacity="0.25" stroke-width="4.0"/><line x1="713.9" y1="632" x2="713.9" y2="90" stroke="#860c0c" stroke-width="2.6"/>
<polygon points="713.9,76.8 708.6,94.5 719.1999999999999,94.5" fill="#860c0c" stroke="#860c0c" stroke-opacity="0.25" stroke-width="1.4" stroke-linejoin="round"/>
<line x1="98.0" y1="18.6" x2="1001.0" y2="18.6" stroke="#151515" stroke-opacity="0.22" stroke-width="6.2" stroke-linecap="square"/>
<line x1="1001.0" y1="18.6" x2="1001.0" y2="689.0" stroke="#4a4a4a" stroke-opacity="0.3" stroke-width="4.6" stroke-linecap="square"/>
<line x1="98.0" y1="689.0" x2="1001.0" y2="689.0" stroke="#202020" stroke-opacity="0.3" stroke-width="4.6" stroke-linecap="square"/>
<line x1="98.0" y1="18.6" x2="98.0" y2="689.0" stroke="#202020" stroke-opacity="0.3" stroke-width="4.4" stroke-linecap="square"/>
<line x1="98.0" y1="18.6" x2="1001.0" y2="18.6" stroke="#151515" stroke-width="1.9" stroke-linecap="square"/>
<line x1="1001.0" y1="18.6" x2="1001.0" y2="689.0" stroke="#4a4a4a" stroke-width="3.4" stroke-linecap="square"/>
<line x1="98.0" y1="689.0" x2="1001.0" y2="689.0" stroke="#202020" stroke-width="2.6" stroke-linecap="square"/>
<line x1="98.0" y1="18.6" x2="98.0" y2="689.0" stroke="#202020" stroke-width="2.5" stroke-linecap="square"/>
<line x1="98.0" y1="689.0" x2="98.0" y2="701.5" stroke="#222222" stroke-opacity="0.25" stroke-width="3.9"/><line x1="98.0" y1="689.0" x2="98.0" y2="701.5" stroke="#222222" stroke-width="2.5"/>
<line x1="210.9" y1="689.0" x2="210.9" y2="695.5" stroke="#222222" stroke-opacity="0.25" stroke-width="3.9"/><line x1="210.9" y1="689.0" x2="210.9" y2="695.5" stroke="#222222" stroke-width="2.5"/>
<line x1="323.8" y1="689.0" x2="323.8" y2="701.5" stroke="#222222" stroke-opacity="0.25" stroke-width="3.9"/><line x1="323.8" y1="689.0" x2="323.8" y2="701.5" stroke="#222222" stroke-width="2.5"/>
<line x1="436.6" y1="689.0" x2="436.6" y2="695.5" stroke="#222222" stroke-opacity="0.25" stroke-width="3.9"/><line x1="436.6" y1="689.0" x2="436.6" y2="695.5" stroke="#222222" stroke-width="2.5"/>
<line x1="549.5" y1="689.0" x2="549.5" y2="701.5" stroke="#222222" stroke-opacity="0.25" stroke-width="3.9"/><line x1="549.5" y1="689.0" x2="549.5" y2="701.5" stroke="#222222" stroke-width="2.5"/>
<line x1="662.4" y1="689.0" x2="662.4" y2="695.5" stroke="#222222" stroke-opacity="0.25" stroke-width="3.9"/><line x1="662.4" y1="689.0" x2="662.4" y2="695.5" stroke="#222222" stroke-width="2.5"/>
<line x1="775.2" y1="689.0" x2="775.2" y2="701.5" stroke="#222222" stroke-opacity="0.25" stroke-width="3.9"/><line x1="775.2" y1="689.0" x2="775.2" y2="701.5" stroke="#222222" stroke-width="2.5"/>
<line x1="888.1" y1="689.0" x2="888.1" y2="695.5" stroke="#222222" stroke-opacity="0.25" stroke-width="3.9"/><line x1="888.1" y1="689.0" x2="888.1" y2="695.5" stroke="#222222" stroke-width="2.5"/>
<line x1="1001.0" y1="689.0" x2="1001.0" y2="701.5" stroke="#222222" stroke-opacity="0.25" stroke-width="3.9"/><line x1="1001.0" y1="689.0" x2="1001.0" y2="701.5" stroke="#222222" stroke-width="2.5"/>
<text transform="translate(98,738.5) scale(1.0,1.04)" font-size="33.5" fill="#111111" stroke="#111111" stroke-opacity="0.4" stroke-width="1.0" text-anchor="middle">25</text>
<text transform="translate(323,738.5) scale(1.0,1.04)" font-size="33.5" fill="#111111" stroke="#111111" stroke-opacity="0.4" stroke-width="1.0" text-anchor="middle">30</text>
<text transform="translate(549,738.5) scale(1.0,1.04)" font-size="33.5" fill="#111111" stroke="#111111" stroke-opacity="0.4" stroke-width="1.0" text-anchor="middle">35</text>
<text transform="translate(775,738.5) scale(1.0,1.04)" font-size="33.5" fill="#111111" stroke="#111111" stroke-opacity="0.4" stroke-width="1.0" text-anchor="middle">40</text>
<text transform="translate(1001,738.5) scale(1.0,1.04)" font-size="33.5" fill="#111111" stroke="#111111" stroke-opacity="0.4" stroke-width="1.0" text-anchor="middle">45</text>
<text transform="translate(104,210.8) scale(1.0,1.06)" font-size="33.5" fill="#111111" stroke="#111111" stroke-opacity="0.4" stroke-width="0.7" textLength="132.3" lengthAdjust="spacingAndGlyphs">CZZ-721</text>
<text transform="translate(104,273.0) scale(1.0,1.06)" font-size="33.5" fill="#111111" stroke="#111111" stroke-opacity="0.4" stroke-width="0.7" textLength="132.3" lengthAdjust="spacingAndGlyphs">CZZ-631</text>
<text transform="translate(104,335.3) scale(1.0,1.06)" font-size="33.5" fill="#111111" stroke="#111111" stroke-opacity="0.4" stroke-width="0.7" textLength="132.3" lengthAdjust="spacingAndGlyphs">CZZ-541</text>
<text transform="translate(104,402.1) scale(1.0,1.06)" font-size="33.5" fill="#111111" stroke="#111111" stroke-opacity="0.4" stroke-width="0.7" textLength="132.3" lengthAdjust="spacingAndGlyphs">CZZ-451</text>
<text transform="translate(104,491.4) scale(1.0,1.06)" font-size="33.5" fill="#111111" stroke="#111111" stroke-opacity="0.4" stroke-width="0.7" textLength="132.3" lengthAdjust="spacingAndGlyphs">CZZ-361</text>
<text transform="translate(104,645.4) scale(1.0,1.06)" font-size="33.5" fill="#111111" stroke="#111111" stroke-opacity="0.4" stroke-width="0.7" textLength="132.3" lengthAdjust="spacingAndGlyphs">CZZ-271</text>
<text transform="translate(371,181) scale(1.0,1.0)" font-size="28.6" fill="#1818dc" stroke="#1818dc" stroke-opacity="0.4" stroke-width="0.5">ZnO</text>
<text transform="translate(412,204) scale(1.0,1.0)" font-size="28" fill="#8b1a1a" stroke="#8b1a1a" stroke-opacity="0.4" stroke-width="0.5">CuO</text>
<text transform="translate(492,189) scale(1.0,1.0)" font-size="28.6" fill="#1818dc" stroke="#1818dc" stroke-opacity="0.4" stroke-width="0.5">ZnO</text>
<text transform="translate(583.5,163) scale(1.0,1.0)" font-size="28.6" fill="#1818dc" stroke="#1818dc" stroke-opacity="0.4" stroke-width="0.5">ZnO</text>
<text transform="translate(545.3,72.4) scale(1.0,1.0)" font-size="28" fill="#8b1a1a" stroke="#8b1a1a" stroke-opacity="0.4" stroke-width="0.5">CuO</text>
<text transform="translate(689.8,72.4) scale(1.0,1.0)" font-size="28" fill="#8b1a1a" stroke="#8b1a1a" stroke-opacity="0.4" stroke-width="0.5">CuO</text>
<text transform="translate(372,812.5) scale(1.0,1.02)" font-size="75" fill="#111111" stroke="#111111" stroke-opacity="0.4" stroke-width="1.2">2<tspan style='font-family:"DejaVu Serif","Liberation Serif",serif;font-weight:normal' font-size="69" dx="0" stroke-opacity="0.9" stroke-width="1.7">θ</tspan><tspan dx="-2.0" letter-spacing="0.33"> (degree)</tspan></text>
<text transform="translate(64.3,608) rotate(-90) scale(1,1.04)" font-size="75" fill="#111111" stroke="#111111" stroke-opacity="0.4" stroke-width="1.2" dx="0 -0.55 -0.55 -0.55 -0.55 2.2">Intensity (a.u.)</text>
</svg></body></html>
